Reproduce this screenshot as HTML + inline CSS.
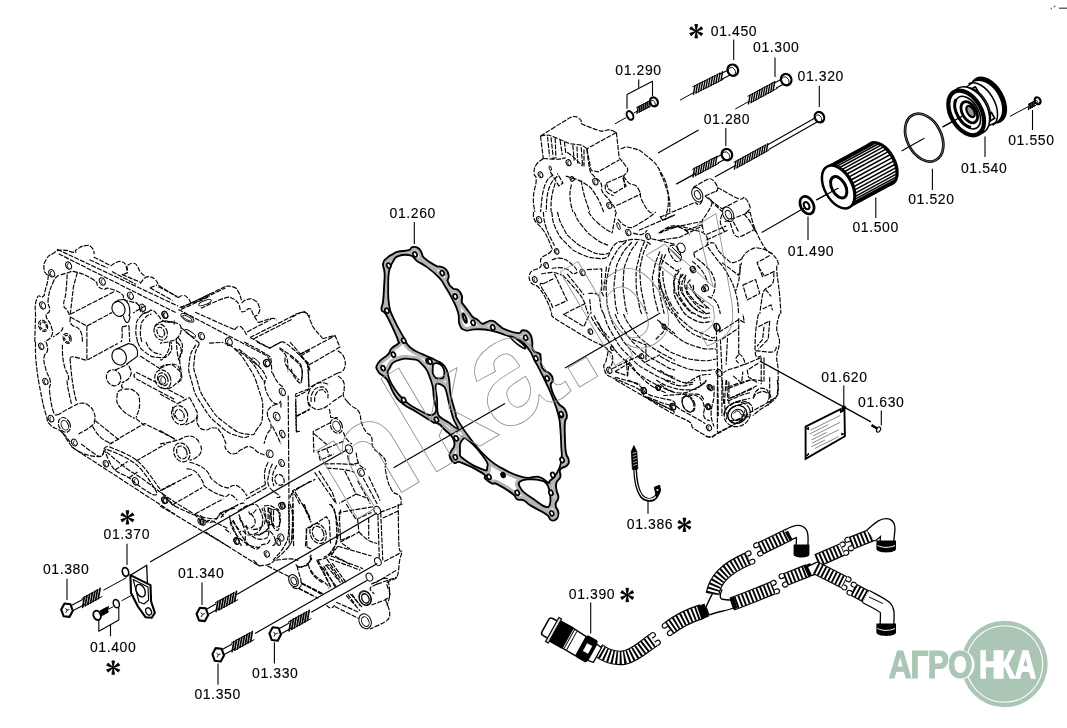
<!DOCTYPE html>
<html><head><meta charset="utf-8"><title>01</title>
<style>
html,body{margin:0;padding:0;background:#fff;overflow:hidden}
svg{display:block;will-change:transform}
text{font-family:"Liberation Sans",Arial,sans-serif;fill:#000;stroke:#000;stroke-width:0.12px}
</style></head><body>
<svg width="1067" height="728" viewBox="0 0 1067 728" stroke-linecap="butt" stroke-linejoin="round">
<rect width="1067" height="728" fill="#fff"/>
<!-- 10_labels.py -->
<text x="710.8" y="35.6" font-size="14" letter-spacing="0.6" >01.450</text>
<text x="753" y="52.1" font-size="14" letter-spacing="0.6" >01.300</text>
<text x="615.3" y="75.2" font-size="14" letter-spacing="0.6" >01.290</text>
<text x="797.5" y="81.3" font-size="14" letter-spacing="0.6" >01.320</text>
<text x="703.7" y="123.9" font-size="14" letter-spacing="0.6" >01.280</text>
<text x="1008.2" y="144.6" font-size="14" letter-spacing="0.6" >01.550</text>
<text x="960.9" y="172.6" font-size="14" letter-spacing="0.6" >01.540</text>
<text x="908.2" y="203.8" font-size="14" letter-spacing="0.6" >01.520</text>
<text x="852.4" y="232.1" font-size="14" letter-spacing="0.6" >01.500</text>
<text x="787.8" y="255.6" font-size="14" letter-spacing="0.6" >01.490</text>
<text x="389.5" y="217.5" font-size="14" letter-spacing="0.6" >01.260</text>
<text x="821.2" y="381.7" font-size="14" letter-spacing="0.6" >01.620</text>
<text x="858" y="406.9" font-size="14" letter-spacing="0.6" >01.630</text>
<text x="626.8" y="529.3" font-size="14" letter-spacing="0.6" >01.386</text>
<text x="568.8" y="599.3" font-size="14" letter-spacing="0.6" >01.390</text>
<text x="103.6" y="539.3" font-size="14" letter-spacing="0.6" >01.370</text>
<text x="42.9" y="574.3" font-size="14" letter-spacing="0.6" >01.380</text>
<text x="177.9" y="578.4" font-size="14" letter-spacing="0.6" >01.340</text>
<text x="89.9" y="652.1" font-size="14" letter-spacing="0.6" >01.400</text>
<text x="252" y="677.7" font-size="14" letter-spacing="0.6" >01.330</text>
<text x="194.4" y="699.1" font-size="14" letter-spacing="0.6" >01.350</text>
<path d="M696.2 31.2L694.9 37.9L697.6 37.9ZM696.2 31.2L701.3 35.7L702.7 33.4ZM696.2 31.2L689.7 33.4L691.1 35.7ZM696.2 31.2L697.6 24.5L694.9 24.5ZM696.2 31.2L691.1 26.7L689.7 29ZM696.2 31.2L702.7 29L701.3 26.7Z" stroke="#000" stroke-width="0.9" stroke-linejoin="round" fill="#000"/>
<path d="M684.4 524.8L683 531.5L685.8 531.5ZM684.4 524.8L689.5 529.3L690.9 527ZM684.4 524.8L677.9 527L679.3 529.3ZM684.4 524.8L685.8 518.1L683 518.1ZM684.4 524.8L679.3 520.3L677.9 522.6ZM684.4 524.8L690.9 522.6L689.5 520.3Z" stroke="#000" stroke-width="0.9" stroke-linejoin="round" fill="#000"/>
<path d="M627.2 595L625.9 601.7L628.6 601.7ZM627.2 595L632.3 599.5L633.7 597.2ZM627.2 595L620.7 597.2L622.1 599.5ZM627.2 595L628.6 588.3L625.9 588.3ZM627.2 595L622.1 590.5L620.7 592.8ZM627.2 595L633.7 592.8L632.3 590.5Z" stroke="#000" stroke-width="0.9" stroke-linejoin="round" fill="#000"/>
<path d="M127.4 517.4L126.1 524.1L128.8 524.1ZM127.4 517.4L132.5 521.9L133.9 519.6ZM127.4 517.4L120.9 519.6L122.3 521.9ZM127.4 517.4L128.8 510.7L126.1 510.7ZM127.4 517.4L122.3 512.9L120.9 515.2ZM127.4 517.4L133.9 515.2L132.5 512.9Z" stroke="#000" stroke-width="0.9" stroke-linejoin="round" fill="#000"/>
<path d="M113.2 667.6L111.9 674.3L114.5 674.3ZM113.2 667.6L118.3 672.1L119.7 669.8ZM113.2 667.6L106.7 669.8L108.1 672.1ZM113.2 667.6L114.5 660.9L111.9 660.9ZM113.2 667.6L108.1 663.1L106.7 665.4ZM113.2 667.6L119.7 665.4L118.3 663.1Z" stroke="#000" stroke-width="0.9" stroke-linejoin="round" fill="#000"/>
<path d="M733.7 39.5L733.7 60" stroke="#000" stroke-width="1.1" fill="none"/>
<path d="M775 57.5L775 77" stroke="#000" stroke-width="1.1" fill="none"/>
<path d="M819.3 85.8L819.3 107" stroke="#000" stroke-width="1.1" fill="none"/>
<path d="M725.8 128L725.8 146" stroke="#000" stroke-width="1.1" fill="none"/>
<path d="M1032.5 110L1032.5 130" stroke="#000" stroke-width="1.1" fill="none"/>
<path d="M985 136.5L985 157" stroke="#000" stroke-width="1.1" fill="none"/>
<path d="M932.4 168.8L932.4 190" stroke="#000" stroke-width="1.1" fill="none"/>
<path d="M875.8 197.5L875.8 218" stroke="#000" stroke-width="1.1" fill="none"/>
<path d="M808 216.5L808 240" stroke="#000" stroke-width="1.1" fill="none"/>
<path d="M843.8 385.5L843.8 435" stroke="#000" stroke-width="1.1" fill="none"/>
<path d="M881.3 410.6L881.3 425.6" stroke="#000" stroke-width="1.1" fill="none"/>
<path d="M648 500.6L648 513.7" stroke="#000" stroke-width="1.1" fill="none"/>
<path d="M590.7 602.5L590.7 633.5" stroke="#000" stroke-width="1.1" fill="none"/>
<path d="M127 543.8L127 565" stroke="#000" stroke-width="1.1" fill="none"/>
<path d="M67 578.8L67 600" stroke="#000" stroke-width="1.1" fill="none"/>
<path d="M202 582.5L202 605" stroke="#000" stroke-width="1.1" fill="none"/>
<path d="M274.4 642.3L274.4 663.6" stroke="#000" stroke-width="1.1" fill="none"/>
<path d="M218 663.6L218 684.8" stroke="#000" stroke-width="1.1" fill="none"/>
<path d="M638.7 79.5L638.7 87.8" fill="none" stroke="#000" stroke-width="1.1"/>
<path d="M627 108.7L627 94.5L652.5 81.3L652.5 96" fill="none" stroke="#000" stroke-width="1.1"/>
<path d="M98.8 620L98.8 631.3L118.8 620L118.8 607.5" fill="none" stroke="#000" stroke-width="1.1"/>
<path d="M110.5 625L110.5 636.3" fill="none" stroke="#000" stroke-width="1.1"/>
<!-- 20_bolts.py -->
<path d="M722.2 79L732.2 74M719.8 74.2L729.8 69.2" stroke="#000" stroke-width="1.1" fill="none"/>
<path d="M695.8 93.1L723.6 79.1M692.6 86.9L720.4 72.9" stroke="#000" stroke-width="1" fill="none"/>
<path d="M693.4 94.3L695 85.7M695.9 93L697.5 84.4M698.4 91.8L700 83.2M700.9 90.5L702.5 81.9M703.4 89.3L705 80.7M705.9 88L707.5 79.4M708.4 86.7L710 78.1M710.9 85.5L712.5 76.9M713.4 84.2L715 75.6M715.9 83L717.5 74.4M718.4 81.7L720 73.1M721 80.4L722.5 71.8" stroke="#000" stroke-width="1.4" fill="none" stroke-linecap="round"/>
<ellipse cx="732.8" cy="70.2" rx="5.2" ry="5.8" fill="#fff" stroke="#000" stroke-width="2.2" transform="rotate(-27 732.8 70.2)"/>
<ellipse cx="731.4" cy="70.9" rx="3.4" ry="4.2" fill="none" stroke="#000" stroke-width="0.8" transform="rotate(-27 732.8 70.2)"/>
<path d="M680 100.2L694.5 92.1" stroke="#000" stroke-width="1.0" fill="none"/>
<path d="M776.2 88L786.2 82.8M773.8 83.2L783.8 78" stroke="#000" stroke-width="1.1" fill="none"/>
<path d="M751 102.6L777.7 88.1M747.6 96.4L774.3 81.9" stroke="#000" stroke-width="1" fill="none"/>
<path d="M748.5 103.9L750.1 95.1M751 102.6L752.5 93.8M753.4 101.2L755 92.4M755.9 99.9L757.5 91.1M758.4 98.6L759.9 89.8M760.8 97.2L762.4 88.4M763.3 95.9L764.8 87.1M765.7 94.6L767.3 85.7M768.2 93.2L769.8 84.4M770.7 91.9L772.2 83.1M773.1 90.5L774.7 81.7" stroke="#000" stroke-width="1.4" fill="none" stroke-linecap="round"/>
<ellipse cx="786.2" cy="79.6" rx="5.2" ry="5.8" fill="#fff" stroke="#000" stroke-width="2.2" transform="rotate(-27 786.2 79.6)"/>
<ellipse cx="784.8" cy="80.3" rx="3.4" ry="4.2" fill="none" stroke="#000" stroke-width="0.8" transform="rotate(-27 786.2 79.6)"/>
<path d="M735.3 109L749.8 100.9" stroke="#000" stroke-width="1.0" fill="none"/>
<path d="M717.8 162.9L727.3 157.9M715.2 158.1L724.7 153.1" stroke="#000" stroke-width="1.1" fill="none"/>
<path d="M695.4 175.7L719.1 163.1M692.2 169.5L715.9 156.9" stroke="#000" stroke-width="1" fill="none"/>
<path d="M693 177L694.6 168.2M695.5 175.7L697 166.9M698 174.3L699.5 165.6M700.4 173L702 164.3M702.9 171.7L704.5 163M705.4 170.4L706.9 161.7M707.9 169.1L709.4 160.3M710.3 167.8L711.9 159M712.8 166.5L714.3 157.7M715.3 165.1L716.8 156.4" stroke="#000" stroke-width="1.4" fill="none" stroke-linecap="round"/>
<ellipse cx="726.9" cy="154.6" rx="5.2" ry="5.8" fill="#fff" stroke="#000" stroke-width="2.2" transform="rotate(-27 726.9 154.6)"/>
<ellipse cx="725.5" cy="155.3" rx="3.4" ry="4.2" fill="none" stroke="#000" stroke-width="0.8" transform="rotate(-27 726.9 154.6)"/>
<path d="M638.8 112.3L651.2 105.9M636.4 107.7L648.8 101.3" stroke="#000" stroke-width="1" fill="none"/>
<path d="M637 113.2L638.2 106.8M639 112.2L640.1 105.8M640.9 111.2L642.1 104.8M642.9 110.2L644 103.8M644.9 109.2L646 102.7M646.8 108.2L647.9 101.7M648.8 107.2L649.9 100.7" stroke="#000" stroke-width="1.4" fill="none" stroke-linecap="round"/>
<ellipse cx="653.9" cy="101.9" rx="3.8" ry="4.6" fill="#fff" stroke="#000" stroke-width="2.2" transform="rotate(-27 653.9 101.9)"/>
<ellipse cx="652.5" cy="102.6" rx="2" ry="3" fill="none" stroke="#000" stroke-width="0.8" transform="rotate(-27 653.9 101.9)"/>
<ellipse cx="630" cy="115.4" rx="3.0" ry="4.6" fill="#fff" stroke="#000" stroke-width="2.0" transform="rotate(-27 630 115.4)"/>
<path d="M615 123.8L626 117.6" stroke="#000" stroke-width="1.0" fill="none"/>
<path d="M633.5 113.2L637 111.3" stroke="#000" stroke-width="1.0" fill="none"/>
<path d="M768.6 149.4L817.1 121.9M766.4 145.4L814.9 117.9" stroke="#000" stroke-width="1.1" fill="none"/>
<path d="M736.7 167.9L769 150.1M733.7 162.5L766 144.7" stroke="#000" stroke-width="1" fill="none"/>
<path d="M734.5 169.1L735.9 161.3M737 167.8L738.3 159.9M739.4 166.4L740.8 158.6M741.9 165.1L743.2 157.2M744.3 163.7L745.7 155.9M746.8 162.4L748.2 154.5M749.2 161L750.6 153.2M751.7 159.7L753.1 151.8M754.1 158.3L755.5 150.5M756.6 157L758 149.1M759 155.6L760.4 147.8M761.5 154.3L762.9 146.4M763.9 152.9L765.3 145.1M766.4 151.6L767.8 143.7" stroke="#000" stroke-width="1.4" fill="none" stroke-linecap="round"/>
<ellipse cx="819.4" cy="117.2" rx="4.6" ry="5.4" fill="#fff" stroke="#000" stroke-width="2.2" transform="rotate(-27 819.4 117.2)"/>
<ellipse cx="818" cy="117.9" rx="2.8" ry="3.8" fill="none" stroke="#000" stroke-width="0.8" transform="rotate(-27 819.4 117.2)"/>
<path d="M1030 108.4L1036 105.2M1028 104.6L1034 101.4" stroke="#000" stroke-width="1" fill="none"/>
<path d="M1028.5 109.3L1029.5 103.7M1030.3 108.3L1031.2 102.8M1032 107.4L1033 101.9M1033.8 106.4L1034.8 100.9" stroke="#000" stroke-width="1.4" fill="none" stroke-linecap="round"/>
<ellipse cx="1037.6" cy="100.8" rx="2.8" ry="3.6" fill="#fff" stroke="#000" stroke-width="2.2" transform="rotate(-27 1037.6 100.8)"/>
<ellipse cx="1036.2" cy="101.5" rx="1" ry="2" fill="none" stroke="#000" stroke-width="0.8" transform="rotate(-27 1037.6 100.8)"/>
<path d="M1010 116.3L1029 106.2" stroke="#000" stroke-width="1.0" fill="none"/>
<path d="M72.2 611L85.2 604.3M69.8 606.2L82.8 599.5" stroke="#000" stroke-width="1.1" fill="none"/>
<path d="M85.5 605.8L102.3 596.4M81.5 598.8L98.3 589.4" stroke="#000" stroke-width="1" fill="none"/>
<path d="M82.6 607.4L84.4 597.2M85.2 605.9L87 595.7M87.8 604.5L89.6 594.3M90.5 603L92.3 592.8M93.1 601.5L94.9 591.4M95.7 600.1L97.5 589.9M98.3 598.6L100.1 588.4" stroke="#000" stroke-width="1.7" fill="none" stroke-linecap="round"/>
<path d="M72.8 610.8L69.5 616.9L63.6 616.2L61.2 609.6L64.5 603.5L70.4 604.2 Z" fill="#fff" stroke="#000" stroke-width="2.1" stroke-linejoin="round"/>
<path d="M67 610.2l2.5 -0.8M67 610.2l-1.2 2.6M67 610.2l-1.5 -2" stroke="#000" stroke-width="0.9" fill="none"/>
<path d="M103.4 590.2L126.6 577.6" stroke="#000" stroke-width="1.0" fill="none"/>
<path d="M207.3 615L218.8 608.6M204.7 610.2L216.2 603.8" stroke="#000" stroke-width="1.1" fill="none"/>
<path d="M218.9 609.9L238.2 599.5M215.1 602.9L234.4 592.5" stroke="#000" stroke-width="1" fill="none"/>
<path d="M216.1 611.4L217.9 601.4M218.8 610L220.5 600M221.4 608.6L223.2 598.5M224 607.2L225.8 597.1M226.7 605.7L228.4 595.7M229.3 604.3L231.1 594.3M232 602.9L233.7 592.8M234.6 601.5L236.4 591.4" stroke="#000" stroke-width="1.7" fill="none" stroke-linecap="round"/>
<path d="M208.2 615L204.9 621.1L199 620.4L196.6 613.8L199.9 607.7L205.8 608.4 Z" fill="#fff" stroke="#000" stroke-width="2.1" stroke-linejoin="round"/>
<path d="M202.4 614.4l2.5 -0.8M202.4 614.4l-1.2 2.6M202.4 614.4l-1.5 -2" stroke="#000" stroke-width="0.9" fill="none"/>
<path d="M223.3 655L234.8 648.8M220.7 650.2L232.2 644" stroke="#000" stroke-width="1.1" fill="none"/>
<path d="M234.9 650.1L254.4 639.5M231.1 643.1L250.6 632.5" stroke="#000" stroke-width="1" fill="none"/>
<path d="M232.1 651.6L233.9 641.6M234.7 650.2L236.5 640.1M237.4 648.8L239.2 638.7M240 647.3L241.8 637.3M242.7 645.9L244.4 635.8M245.3 644.5L247.1 634.4M247.9 643L249.7 633M250.6 641.6L252.3 631.5" stroke="#000" stroke-width="1.7" fill="none" stroke-linecap="round"/>
<path d="M224 655.4L220.7 661.5L214.8 660.8L212.4 654.2L215.7 648.1L221.6 648.8 Z" fill="#fff" stroke="#000" stroke-width="2.1" stroke-linejoin="round"/>
<path d="M218.2 654.8l2.5 -0.8M218.2 654.8l-1.2 2.6M218.2 654.8l-1.5 -2" stroke="#000" stroke-width="0.9" fill="none"/>
<path d="M280.3 634.2L291.8 627.8M277.7 629.4L289.2 623" stroke="#000" stroke-width="1.1" fill="none"/>
<path d="M292 629.2L311.5 618.3M288 622.2L307.5 611.3" stroke="#000" stroke-width="1" fill="none"/>
<path d="M289.1 630.8L290.9 620.6M291.7 629.3L293.5 619.2M294.3 627.9L296.1 617.7M297 626.4L298.8 616.2M299.6 624.9L301.4 614.8M302.2 623.5L304 613.3M304.8 622L306.6 611.8M307.4 620.5L309.2 610.4" stroke="#000" stroke-width="1.7" fill="none" stroke-linecap="round"/>
<path d="M281 634.6L277.7 640.7L271.8 640L269.4 633.4L272.7 627.3L278.6 628 Z" fill="#fff" stroke="#000" stroke-width="2.1" stroke-linejoin="round"/>
<path d="M275.2 634l2.5 -0.8M275.2 634l-1.2 2.6M275.2 634l-1.5 -2" stroke="#000" stroke-width="0.9" fill="none"/>
<path d="M101.7 615.4L108.9 611.6M99.5 611.4L106.7 607.6" stroke="#000" stroke-width="1" fill="none"/>
<path d="M100.1 616.3L101.1 610.5M101.5 615.5L102.5 609.8M102.9 614.8L103.9 609M104.3 614L105.4 608.3M105.8 613.3L106.8 607.5M107.2 612.5L108.2 606.8" stroke="#000" stroke-width="1.4" fill="none" stroke-linecap="round"/>
<ellipse cx="97.1" cy="615.3" rx="3.6" ry="4.8" fill="#fff" stroke="#000" stroke-width="1.9" transform="rotate(-20 97.1 615.3)"/>
<ellipse cx="116.3" cy="603.7" rx="2.9" ry="4.2" fill="#fff" stroke="#000" stroke-width="1.5" transform="rotate(-20 116.3 603.7)"/>
<path d="M108.5 609.2L113 606.8" stroke="#000" stroke-width="1.0" fill="none"/>
<path d="M121.6 600.8L146.7 587" stroke="#000" stroke-width="1.0" fill="none"/>
<!-- 30_misc.py -->
<circle cx="1004.4" cy="664" r="43.3" fill="#abc6b5"/>
<circle cx="1004.4" cy="664" r="38.3" fill="none" stroke="#fff" stroke-width="1.1"/>
<ellipse cx="960.6" cy="664.8" rx="13.9" ry="14.9" fill="#fff"/>
<text transform="translate(0 678) scale(0.830 1)" x="1070.9 1097 1117.9 1142.3" y="0" font-size="38.1" font-weight="bold" style="fill:#abc6b5;stroke:#abc6b5;stroke-width:1.1px;vector-effect:non-scaling-stroke;stroke-linejoin:miter">АГРО</text>
<text transform="translate(0 678) scale(0.780 1)" x="1255.1 1278 1301" y="0" font-size="38.1" font-weight="bold" style="fill:#fff;stroke:#fff;stroke-width:1.2px;vector-effect:non-scaling-stroke;stroke-linejoin:miter">НКА</text>
<path d="M1050.6 8.4h1.4M1053.6 6.6h1.8M1059 8.2h8" stroke="#666" stroke-width="1.5" fill="none"/>
<ellipse cx="924.2" cy="137.6" rx="17.2" ry="25.3" fill="none" stroke="#000" stroke-width="2.7" transform="rotate(-27 924.2 137.6)"/>
<ellipse cx="924.2" cy="137.6" rx="17.2" ry="25.3" fill="none" stroke="#fff" stroke-width="0.35" transform="rotate(-27 924.2 137.6)"/>
<path d="M901.5 151L924.3 138.2" stroke="#000" stroke-width="1.1" fill="none"/>
<path d="M942.5 127L960 117.4" stroke="#000" stroke-width="1.1" fill="none"/>
<ellipse cx="807" cy="205.2" rx="6.4" ry="9.3" fill="#fff" stroke="#000" stroke-width="2.7" transform="rotate(-27 807 205.2)"/>
<ellipse cx="806.6" cy="205.6" rx="2.5" ry="3.8" fill="#fff" stroke="#000" stroke-width="2.0" transform="rotate(-27 806.6 205.6)"/>
<path d="M761.7 232.5L805.5 207.2" stroke="#000" stroke-width="1.2" fill="none"/>
<path d="M816.3 200L837.5 188.6" stroke="#000" stroke-width="1.1" fill="none"/>
<!-- 32_filter.py -->
<g transform="translate(838.2 187) rotate(-28.5)"><ellipse cx="49" cy="0" rx="13.6" ry="23.2" fill="#000" stroke="#000" stroke-width="2.4"/><rect x="0" y="-23.2" width="49" height="46.4" fill="#fff"/><ellipse cx="46.8" cy="0" rx="13.6" ry="22.9" fill="#fff"/><path d="M0 -23.2L47.5 -23.2M2.1 -22.9L49.6 -22.9M4.2 -22.1L51.7 -22.1M6.2 -20.7L53.7 -20.7M8 -18.8L55.5 -18.8M9.6 -16.4L57.1 -16.4M11 -13.6L58.5 -13.6M12.1 -10.5L59.6 -10.5M12.9 -7.2L60.4 -7.2M13.4 -3.6L60.9 -3.6M13.6 0L61.1 0M13.4 3.6L60.9 3.6M12.9 7.2L60.4 7.2M12.1 10.5L59.6 10.5M11 13.6L58.5 13.6M9.6 16.4L57.1 16.4M8 18.8L55.5 18.8M6.2 20.7L53.7 20.7M4.2 22.1L51.7 22.1M2.1 22.9L49.6 22.9M0 23.2L47.5 23.2" stroke="#000" stroke-width="1.5" fill="none"/><path d="M2 -22L51 -22" stroke="#000" stroke-width="3.2" fill="none"/><path d="M2 22.4L51 22.4" stroke="#000" stroke-width="2.2" fill="none"/><ellipse cx="2.2" cy="0" rx="13.6" ry="23.2" fill="#000"/><ellipse cx="0" cy="0" rx="13.6" ry="23.2" fill="#fff" stroke="#000" stroke-width="2.5"/><ellipse cx="0.3" cy="0.5" rx="6.8" ry="11.6" fill="#fff" stroke="#000" stroke-width="2.9"/><path d="M3.8 -8.4A4.9 9.3 0 0 1 3.8 9.7" fill="none" stroke="#000" stroke-width="1.6"/></g>
<path d="M816.3 200L838.5 188" stroke="#000" stroke-width="1.2" fill="none"/>
<g transform="translate(966.2 112.9) rotate(-30)"><ellipse cx="25.5" cy="0" rx="16" ry="25.6" fill="#000"/><ellipse cx="21" cy="0" rx="15.5" ry="23" fill="#fff"/><rect x="4" y="-21.5" width="18.5" height="43" fill="#fff"/><path d="M4 -21.5L20.5 -23M4 21.5L20.5 23" stroke="#000" stroke-width="1.4" fill="none"/><path d="M12 -18l9 0l0 7l-8 0zM14 12l8 0l0 7l-7 0zM16 -6l5 0l0 8l-5 0z" fill="#fff" stroke="#000" stroke-width="1.7"/><path d="M16.5 -24A14 24 0 0 1 16.5 24" fill="none" stroke="#000" stroke-width="1.5"/><path d="M10 -22A13 22 0 0 1 10 22" fill="none" stroke="#000" stroke-width="1.3"/><ellipse cx="5" cy="0" rx="16.5" ry="25.5" fill="#fff" stroke="#000" stroke-width="1.6"/><ellipse cx="0" cy="0" rx="15.2" ry="24.2" fill="#fff" stroke="#000" stroke-width="4.2"/><ellipse cx="1.5" cy="0.5" rx="10.6" ry="17.8" fill="#fff" stroke="#000" stroke-width="1.6"/><path d="M-2 -17A10.5 17.5 0 0 0 -3 15" fill="none" stroke="#000" stroke-width="3"/><ellipse cx="3" cy="1" rx="7" ry="11.5" fill="#fff" stroke="#000" stroke-width="2.8"/><ellipse cx="4.5" cy="1" rx="3.4" ry="6.2" fill="#999" stroke="#000" stroke-width="2.2"/></g>
<path d="M942.5 127L962 116.4" stroke="#000" stroke-width="1.2" fill="none"/>
<!-- 34_small.py -->
<path d="M130.4 575.3L146.7 565.2L147.4 583" fill="none" stroke="#000" stroke-width="1.3"/>
<ellipse cx="125.5" cy="571.9" rx="3.1" ry="4.4" fill="#fff" stroke="#000" stroke-width="1.7" transform="rotate(-15 125.5 571.9)"/>
<path d="M130.4 575.1L150.5 585.1L151.1 601.5L154.9 612.8L151.8 617.8L145.5 617.2L137.9 606.5L131 592.7Z" fill="#fff" stroke="#000" stroke-width="2.1"/>
<path d="M133.2 579.5L148 587L148.6 600L144 604L139 602Z" fill="#fff" stroke="#000" stroke-width="1.1"/>
<ellipse cx="140.6" cy="590.6" rx="4.2" ry="6.6" fill="#fff" stroke="#000" stroke-width="1.4" transform="rotate(-25 140.6 590.6)"/>
<ellipse cx="148.6" cy="611.5" rx="2.7" ry="3.8" fill="#fff" stroke="#000" stroke-width="1.3" transform="rotate(-25 148.6 611.5)"/>
<path d="M633.9 445.6L631.3 451.5L632.4 469.5L637.8 469L636.8 451.5Z" fill="#000" stroke="#000" stroke-width="0.8"/>
<path d="M632.6 453.5l3.6 -1.2M632.8 456.5l3.6 -1.2M633 459.5l3.6 -1.2M633.2 462.5l3.6 -1.2M633.4 465.5l3.6 -1.2" stroke="#fff" stroke-width="0.7" fill="none"/>
<path d="M635 468C635.4 480 636.6 489.5 641.7 496.3C645 500.3 652.2 501.8 656.2 496.5C658 494 659 491.5 659.2 488.5" fill="none" stroke="#000" stroke-width="3.8"/>
<path d="M635 470C635.4 481 636.8 489.5 641.9 496.1C645.2 499.8 652 501 656 496.3" fill="none" stroke="#fff" stroke-width="1.1"/>
<path d="M654.3 487.3L659.7 485.2L660.4 490.8L656.5 497Z" fill="#000" stroke="#000" stroke-width="1"/>
<circle cx="657.4" cy="490" r="1" fill="#fff"/>
<!-- 36_harness.py -->
<path d="M598 650C606 656 616 659 625 657.5C636 655 645 645.5 653.6 640" fill="none" stroke="#000" stroke-width="14.600000000000001" stroke-linecap="butt"/>
<path d="M598 650C606 656 616 659 625 657.5C636 655 645 645.5 653.6 640" fill="none" stroke="#fff" stroke-width="12.200000000000001" stroke-linecap="butt"/>
<path d="M598 650C606 656 616 659 625 657.5C636 655 645 645.5 653.6 640" fill="none" stroke="#000" stroke-width="12.600000000000001" stroke-dasharray="1.9 2.0"/>
<g transform="translate(653.6 640) rotate(-33)"><path d="M0 -6.6c3 -1 4.6 0 4.6 2.3c0 2.3 -2.6 2.3 -4.6 1.8M0 6.6c3 1 4.6 0 4.6 -2.3c0 -2.3 -2.6 -2.3 -4.6 -1.8" fill="#fff" stroke="#000" stroke-width="1.2"/></g>
<path d="M669 628.2C677 622 688 616 702 611.5" fill="none" stroke="#000" stroke-width="15.2" stroke-linecap="butt"/>
<path d="M669 628.2C677 622 688 616 702 611.5" fill="none" stroke="#fff" stroke-width="12.799999999999999" stroke-linecap="butt"/>
<path d="M669 628.2C677 622 688 616 702 611.5" fill="none" stroke="#000" stroke-width="13.2" stroke-dasharray="1.9 2.0"/>
<g transform="translate(669 628.2) rotate(145)"><path d="M0 -6.6c3 -1 4.6 0 4.6 2.3c0 2.3 -2.6 2.3 -4.6 1.8M0 6.6c3 1 4.6 0 4.6 -2.3c0 -2.3 -2.6 -2.3 -4.6 -1.8" fill="#fff" stroke="#000" stroke-width="1.2"/></g>
<path d="M697 606.5l7.5 -3l4.5 13l-7.5 3z" fill="#000"/>
<path d="M706 607C710 598 713 592 716 588L722 590C720 594 719 597 721.5 599C726 600 730 600.5 733 599.5L735 607.5C727 610.5 717 612 709 615Z" fill="#fff" stroke="#000" stroke-width="1.3"/>
<path d="M712.5 594C715 580 724 569 748.6 558.4" fill="none" stroke="#000" stroke-width="13.8" stroke-linecap="butt"/>
<path d="M712.5 594C715 580 724 569 748.6 558.4" fill="none" stroke="#fff" stroke-width="11.4" stroke-linecap="butt"/>
<path d="M712.5 594C715 580 724 569 748.6 558.4" fill="none" stroke="#000" stroke-width="11.8" stroke-dasharray="1.9 2.0"/>
<g transform="translate(748.6 558.4) rotate(-25)"><path d="M0 -6.6c3 -1 4.6 0 4.6 2.3c0 2.3 -2.6 2.3 -4.6 1.8M0 6.6c3 1 4.6 0 4.6 -2.3c0 -2.3 -2.6 -2.3 -4.6 -1.8" fill="#fff" stroke="#000" stroke-width="1.2"/></g>
<path d="M760 548.6L789 534.5" fill="none" stroke="#000" stroke-width="13.399999999999999" stroke-linecap="butt"/>
<path d="M760 548.6L789 534.5" fill="none" stroke="#fff" stroke-width="10.999999999999998" stroke-linecap="butt"/>
<path d="M760 548.6L789 534.5" fill="none" stroke="#000" stroke-width="11.399999999999999" stroke-dasharray="1.9 2.0"/>
<g transform="translate(760 548.6) rotate(155)"><path d="M0 -6.6c3 -1 4.6 0 4.6 2.3c0 2.3 -2.6 2.3 -4.6 1.8M0 6.6c3 1 4.6 0 4.6 -2.3c0 -2.3 -2.6 -2.3 -4.6 -1.8" fill="#fff" stroke="#000" stroke-width="1.2"/></g>
<path d="M788 535C793 532 799 529.5 801.5 533C803 537 802 542 802 546" fill="none" stroke="#000" stroke-width="13.0" stroke-linecap="butt"/>
<path d="M788 535C793 532 799 529.5 801.5 533C803 537 802 542 802 546" fill="none" stroke="#fff" stroke-width="10.4" stroke-linecap="butt"/>
<path d="M793.6 544.5h15.8v10c0 4 -15.8 4 -15.8 0z" fill="#000"/>
<path d="M786.5 531.5l4.5 8.5" stroke="#000" stroke-width="3.4"/>
<path d="M732 604C746 599 760 593 773.4 587.8" fill="none" stroke="#000" stroke-width="13.8" stroke-linecap="butt"/>
<path d="M732 604C746 599 760 593 773.4 587.8" fill="none" stroke="#fff" stroke-width="11.4" stroke-linecap="butt"/>
<path d="M732 604C746 599 760 593 773.4 587.8" fill="none" stroke="#000" stroke-width="11.8" stroke-dasharray="1.9 2.0"/>
<g transform="translate(773.4 587.8) rotate(-22)"><path d="M0 -6.6c3 -1 4.6 0 4.6 2.3c0 2.3 -2.6 2.3 -4.6 1.8M0 6.6c3 1 4.6 0 4.6 -2.3c0 -2.3 -2.6 -2.3 -4.6 -1.8" fill="#fff" stroke="#000" stroke-width="1.2"/></g>
<path d="M729.5 598.5l4.4 -1.5l3.6 11l-4.4 1.5z" fill="#000"/>
<path d="M785.2 579.6L808 570.5" fill="none" stroke="#000" stroke-width="13.399999999999999" stroke-linecap="butt"/>
<path d="M785.2 579.6L808 570.5" fill="none" stroke="#fff" stroke-width="10.999999999999998" stroke-linecap="butt"/>
<path d="M785.2 579.6L808 570.5" fill="none" stroke="#000" stroke-width="11.399999999999999" stroke-dasharray="1.9 2.0"/>
<g transform="translate(785.2 579.6) rotate(158)"><path d="M0 -6.6c3 -1 4.6 0 4.6 2.3c0 2.3 -2.6 2.3 -4.6 1.8M0 6.6c3 1 4.6 0 4.6 -2.3c0 -2.3 -2.6 -2.3 -4.6 -1.8" fill="#fff" stroke="#000" stroke-width="1.2"/></g>
<path d="M803.5 566l6.5 -3l5 11.5l-6.5 3z" fill="#000"/>
<path d="M810 571L821 566" fill="none" stroke="#000" stroke-width="11.5" stroke-linecap="butt"/>
<path d="M810 571L821 566" fill="none" stroke="#fff" stroke-width="8.9" stroke-linecap="butt"/>
<path d="M817 560.5L842.6 549.3" fill="none" stroke="#000" stroke-width="13.399999999999999" stroke-linecap="butt"/>
<path d="M817 560.5L842.6 549.3" fill="none" stroke="#fff" stroke-width="10.999999999999998" stroke-linecap="butt"/>
<path d="M817 560.5L842.6 549.3" fill="none" stroke="#000" stroke-width="11.399999999999999" stroke-dasharray="1.9 2.0"/>
<g transform="translate(842.6 549.3) rotate(-23)"><path d="M0 -6.6c3 -1 4.6 0 4.6 2.3c0 2.3 -2.6 2.3 -4.6 1.8M0 6.6c3 1 4.6 0 4.6 -2.3c0 -2.3 -2.6 -2.3 -4.6 -1.8" fill="#fff" stroke="#000" stroke-width="1.2"/></g>
<path d="M851 543.3L873 534.5" fill="none" stroke="#000" stroke-width="13.399999999999999" stroke-linecap="butt"/>
<path d="M851 543.3L873 534.5" fill="none" stroke="#fff" stroke-width="10.999999999999998" stroke-linecap="butt"/>
<path d="M851 543.3L873 534.5" fill="none" stroke="#000" stroke-width="11.399999999999999" stroke-dasharray="1.9 2.0"/>
<g transform="translate(851 543.3) rotate(158)"><path d="M0 -6.6c3 -1 4.6 0 4.6 2.3c0 2.3 -2.6 2.3 -4.6 1.8M0 6.6c3 1 4.6 0 4.6 -2.3c0 -2.3 -2.6 -2.3 -4.6 -1.8" fill="#fff" stroke="#000" stroke-width="1.2"/></g>
<path d="M871 535.5C877 531 882 524.5 887 525.5C889.5 527 887 534 887 542" fill="none" stroke="#000" stroke-width="15.0" stroke-linecap="butt"/>
<path d="M871 535.5C877 531 882 524.5 887 525.5C889.5 527 887 534 887 542" fill="none" stroke="#fff" stroke-width="12.4" stroke-linecap="butt"/>
<path d="M876.4 540.5h19.6v8.5c0 4.5 -19.6 4.5 -19.6 0z" fill="#000"/>
<path d="M877.5 545.5c5 2.5 12 2.5 17.5 0" stroke="#fff" stroke-width="1" fill="none"/>
<path d="M816 568L844.6 582.5" fill="none" stroke="#000" stroke-width="13.399999999999999" stroke-linecap="butt"/>
<path d="M816 568L844.6 582.5" fill="none" stroke="#fff" stroke-width="10.999999999999998" stroke-linecap="butt"/>
<path d="M816 568L844.6 582.5" fill="none" stroke="#000" stroke-width="11.399999999999999" stroke-dasharray="1.9 2.0"/>
<g transform="translate(844.6 582.5) rotate(27)"><path d="M0 -6.6c3 -1 4.6 0 4.6 2.3c0 2.3 -2.6 2.3 -4.6 1.8M0 6.6c3 1 4.6 0 4.6 -2.3c0 -2.3 -2.6 -2.3 -4.6 -1.8" fill="#fff" stroke="#000" stroke-width="1.2"/></g>
<path d="M853.4 589.6L868 597.5" fill="none" stroke="#000" stroke-width="13.399999999999999" stroke-linecap="butt"/>
<path d="M853.4 589.6L868 597.5" fill="none" stroke="#fff" stroke-width="10.999999999999998" stroke-linecap="butt"/>
<path d="M853.4 589.6L868 597.5" fill="none" stroke="#000" stroke-width="11.399999999999999" stroke-dasharray="1.9 2.0"/>
<g transform="translate(853.4 589.6) rotate(207)"><path d="M0 -6.6c3 -1 4.6 0 4.6 2.3c0 2.3 -2.6 2.3 -4.6 1.8M0 6.6c3 1 4.6 0 4.6 -2.3c0 -2.3 -2.6 -2.3 -4.6 -1.8" fill="#fff" stroke="#000" stroke-width="1.2"/></g>
<path d="M866 596.5C873 600.5 880 603.5 885 607.5C888.5 611 887 617 887 625" fill="none" stroke="#000" stroke-width="15.0" stroke-linecap="butt"/>
<path d="M866 596.5C873 600.5 880 603.5 885 607.5C888.5 611 887 617 887 625" fill="none" stroke="#fff" stroke-width="12.4" stroke-linecap="butt"/>
<path d="M876.4 623.5h19.6v9c0 4.5 -19.6 4.5 -19.6 0z" fill="#000"/>
<path d="M877.5 628.5c5 2.5 12 2.5 17.5 0" stroke="#fff" stroke-width="1" fill="none"/>
<path d="M869 597l14 6.5" stroke="#000" stroke-width="1" fill="none"/>
<g transform="translate(550.5 628.5) rotate(29) scale(0.98)"><rect x="-6" y="-10" width="11" height="20" rx="3" fill="#fff" stroke="#000" stroke-width="1.6"/><rect x="2" y="-14" width="3.2" height="28" fill="#ddd" stroke="#000" stroke-width="1.2"/><rect x="5" y="-12.5" width="15" height="25" fill="#000"/><path d="M20 -11.5L36 -10.5L36 12L20 11.5Z" fill="#fff" stroke="#000" stroke-width="1.4"/><path d="M22 -11v22M25 -10.5v21.5" stroke="#000" stroke-width="1"/><rect x="36" y="-12.5" width="13" height="25.5" rx="2" fill="#000"/><rect x="40" y="-5" width="6" height="9" fill="#fff"/><path d="M49 -9l6 1v17l-6 1z" fill="#fff" stroke="#000" stroke-width="1.3"/></g>
<!-- 40_lefthousing.py -->
<path d="M34.8 341.9C35 335.1 34.8 335.6 35.4 321.5C36 307.5 34 308.1 36.5 299.7C39.1 291.4 40.2 299.3 43 296.5C45.8 293.7 43.2 297.9 45 291.3C46.7 284.8 47.8 282.7 48.2 276.8C48.6 271 47.5 276.4 46.1 273.7C44.7 271.1 44 273.5 44 268.8C44 264.1 43 264.8 46.1 259.7C49.1 254.5 47.7 256.5 53.1 253.4C58.5 250.2 55.2 250.4 62.3 250.1C69.3 249.8 69.5 252.5 74.2 252.4C78.9 252.3 72.6 252.1 76.3 249.8C80.1 247.6 80.3 246.3 85.4 245.6C90.6 244.9 88.8 244.9 91.8 247.7C94.7 250.5 93.5 251.9 94.3 254.1" fill="none" stroke="#000" stroke-width="1.15" stroke-dasharray="5 1.3"/>
<path d="M93.7 256.9L110.6 265.6" fill="none" stroke="#000" stroke-width="1.15" stroke-dasharray="5 1.3"/>
<path d="M110.6 266C112.3 265 112.9 263.8 116.2 262.5C119.6 261.2 118.9 260.9 121.9 261.8C124.8 262.6 124.4 262.8 126.1 265.3C127.8 267.8 127.1 268.7 127.5 270.2" fill="none" stroke="#000" stroke-width="1.15" stroke-dasharray="5 1.3"/>
<path d="M127.5 265.3C129.2 264.7 130.1 263 133.1 263.2C136.1 263.4 135.2 263.5 137.3 266C139.4 268.5 137.6 268.4 140.1 271.6C142.7 274.9 144.1 275.3 145.8 276.8" fill="none" stroke="#000" stroke-width="1.15" stroke-dasharray="5 1.3"/>
<path d="M144.3 278C146 277.6 146.6 276.2 150 276.8C153.3 277.5 153.1 277.6 155.6 280.1C158.1 282.5 157.6 283.5 158.4 285" fill="none" stroke="#000" stroke-width="1.15" stroke-dasharray="5 1.3"/>
<path d="M158.4 285.3L178.1 297.6" fill="none" stroke="#000" stroke-width="1.15" stroke-dasharray="5 1.3"/>
<path d="M178.1 297.6C179.8 297 180.5 295.1 183.7 295.5C186.9 296 186.5 296.7 188.6 299C190.7 301.4 190.1 302 190.7 303.3" fill="none" stroke="#000" stroke-width="1.15" stroke-dasharray="5 1.3"/>
<path d="M57.2 249.3L178.1 306.1" fill="none" stroke="#000" stroke-width="1.15" stroke-dasharray="5 1.3"/>
<path d="M58.6 253.8L176.7 313.1" fill="none" stroke="#000" stroke-width="1.15" stroke-dasharray="5 1.3"/>
<path d="M89.5 259.7L107.8 268.1" fill="none" stroke="#000" stroke-width="1.15" stroke-dasharray="5 1.3"/>
<path d="M112 271.6L135.9 284.3" fill="none" stroke="#000" stroke-width="1.15" stroke-dasharray="5 1.3"/>
<path d="M121.9 274.4L140.1 282.2" fill="none" stroke="#000" stroke-width="1.15" stroke-dasharray="5 1.3"/>
<path d="M126.1 266L127.5 272.6L121.9 275.1" fill="none" stroke="#000" stroke-width="1.15" stroke-dasharray="5 1.3"/>
<path d="M150 287.8L172.5 300.4" fill="none" stroke="#000" stroke-width="1.15" stroke-dasharray="5 1.3"/>
<path d="M158.4 286.7L176.7 296.2" fill="none" stroke="#000" stroke-width="1.15" stroke-dasharray="5 1.3"/>
<path d="M140.1 283.6L144.3 278.2" fill="none" stroke="#000" stroke-width="1.15" stroke-dasharray="5 1.3"/>
<path d="M150 287.8L157 285" fill="none" stroke="#000" stroke-width="1.15" stroke-dasharray="5 1.3"/>
<path d="M190.7 303.3L210 294.1" fill="none" stroke="#000" stroke-width="1.15" stroke-dasharray="5 1.3"/>
<path d="M179.5 307.5L190.7 303.5" fill="none" stroke="#000" stroke-width="1.15" stroke-dasharray="5 1.3"/>
<path d="M180.9 309.6L210 296.2" fill="none" stroke="#000" stroke-width="1.15" stroke-dasharray="5 1.3"/>
<path d="M60.8 274.9C62.5 274.4 63.1 273.8 67.2 273C71.3 272.3 69.2 270.2 76.3 272.1C83.4 273.9 88.1 276.2 93.9 280.1C99.7 283.9 95.5 284 98.1 286.4C100.7 288.8 100.7 288.6 103.7 289.2C106.7 289.8 104.5 287.2 109.3 288.5C114.2 289.8 118.1 291.1 122 294.1C125.9 297.1 121.5 297.7 124.1 299.7C126.7 301.8 128.3 300.7 131.8 301.9C135.4 303 134.8 301.2 137.5 304C140.1 306.8 139.1 310.1 141.7 312.4C144.3 314.6 144.5 313 147.3 312.4C150.1 311.8 149.2 309.4 152.2 310.3C155.2 311.2 155.9 313.3 158.6 315.9C161.2 318.5 159.4 318.4 162.1 320.1C164.7 321.8 164.9 322.1 168.4 322.2C171.8 322.4 173.2 321.2 175 320.8" fill="none" stroke="#000" stroke-width="1.15" stroke-dasharray="5 1.3"/>
<ellipse cx="68.6" cy="265.6" rx="2.7" ry="3.8" fill="none" stroke="#000" stroke-width="1.0" transform="rotate(-25 68.6 265.6)"/>
<path d="M69.2 268.4A1.7 2.5 -25 0 1 68.8 263.7" fill="none" stroke="#000" stroke-width="0.8"/>
<ellipse cx="51.7" cy="273.3" rx="2.7" ry="3.8" fill="none" stroke="#000" stroke-width="1.0" transform="rotate(-25 51.7 273.3)"/>
<path d="M52.3 276.1A1.7 2.5 -25 0 1 52 271.4" fill="none" stroke="#000" stroke-width="0.8"/>
<ellipse cx="102.3" cy="281.5" rx="2.7" ry="3.8" fill="none" stroke="#000" stroke-width="1.0" transform="rotate(-25 102.3 281.5)"/>
<path d="M102.9 284.2A1.7 2.5 -25 0 1 102.6 279.6" fill="none" stroke="#000" stroke-width="0.8"/>
<ellipse cx="130.4" cy="295.8" rx="2.7" ry="3.8" fill="none" stroke="#000" stroke-width="1.0" transform="rotate(-25 130.4 295.8)"/>
<path d="M131 298.6A1.7 2.5 -25 0 1 130.7 293.9" fill="none" stroke="#000" stroke-width="0.8"/>
<ellipse cx="142.4" cy="307.8" rx="2.7" ry="3.8" fill="none" stroke="#000" stroke-width="1.0" transform="rotate(-25 142.4 307.8)"/>
<path d="M143 310.5A1.7 2.5 -25 0 1 142.6 305.8" fill="none" stroke="#000" stroke-width="0.8"/>
<ellipse cx="164.9" cy="314.8" rx="2.7" ry="3.8" fill="none" stroke="#000" stroke-width="1.0" transform="rotate(-25 164.9 314.8)"/>
<path d="M165.5 317.6A1.7 2.5 -25 0 1 165.1 312.9" fill="none" stroke="#000" stroke-width="0.8"/>
<ellipse cx="42.6" cy="305.4" rx="2.7" ry="3.8" fill="none" stroke="#000" stroke-width="1.0" transform="rotate(-25 42.6 305.4)"/>
<path d="M43.2 308.1A1.7 2.5 -25 0 1 42.8 303.4" fill="none" stroke="#000" stroke-width="0.8"/>
<ellipse cx="43" cy="325.8" rx="4.2" ry="5.9" fill="none" stroke="#000" stroke-width="1.15" transform="rotate(-25 43 325.8)" stroke-dasharray="5 1.3"/>
<ellipse cx="43.3" cy="326" rx="2.8" ry="4.2" fill="none" stroke="#000" stroke-width="1.15" transform="rotate(-25 43.3 326)" stroke-dasharray="3 1.2"/>
<ellipse cx="67.2" cy="338.4" rx="3.9" ry="5.1" fill="none" stroke="#000" stroke-width="1.15" transform="rotate(-25 67.2 338.4)" stroke-dasharray="5 1.3"/>
<ellipse cx="67.2" cy="338.7" rx="2.4" ry="3.5" fill="none" stroke="#000" stroke-width="1.15" transform="rotate(-25 67.2 338.7)" stroke-dasharray="3 1.2"/>
<path d="M58.7 275.1C57.2 277 55.9 275.8 53.1 282.2C50.3 288.5 49.1 291.5 48.2 299C47.3 306.5 50.2 305.8 49.6 310.3C49 314.8 45.7 311.8 46.1 315.9C46.5 320 49.5 320.5 51 325.8C52.5 331 53.4 331.3 51.7 335.6C50 339.9 46.6 340.2 44.7 341.9" fill="none" stroke="#000" stroke-width="1.15" stroke-dasharray="5 1.3"/>
<path d="M77.3 272.6L73.5 286.4L70.3 313.8" fill="none" stroke="#000" stroke-width="1.15" stroke-dasharray="5 1.3"/>
<path d="M67.2 274.4C66.8 279.5 66.7 285.4 65.8 293.4C64.8 301.5 63.3 300.2 63.7 304.7C64 309.2 65.4 307.1 67.2 310.3C68.9 313.5 69.4 314.9 70.3 316.6" fill="none" stroke="#000" stroke-width="1.15" stroke-dasharray="5 1.3"/>
<path d="M70.3 314.2L115 291.3" fill="none" stroke="#000" stroke-width="1.15" stroke-dasharray="5 1.3"/>
<path d="M70.3 317L86.9 326L112.2 312.4" fill="none" stroke="#000" stroke-width="1.15" stroke-dasharray="5 1.3"/>
<path d="M86.9 326L86.9 341.9" fill="none" stroke="#000" stroke-width="1.15" stroke-dasharray="5 1.3"/>
<path d="M70.3 317C70.6 319 68.8 320.9 71.4 324.3C73.9 327.8 76.8 325.3 79.8 330C82.8 334.7 81.9 338.7 82.6 341.9" fill="none" stroke="#000" stroke-width="1.15" stroke-dasharray="5 1.3"/>
<path d="M63 327.2C62.4 328.3 63.5 328.8 60.8 331.4C58.2 334 55.2 335.5 53.1 337" fill="none" stroke="#000" stroke-width="1.15" stroke-dasharray="5 1.3"/>
<ellipse cx="118.5" cy="308.9" rx="6.3" ry="7.7" fill="none" stroke="#000" stroke-width="1.15" transform="rotate(-25 118.5 308.9)"/>
<path d="M115 302.6C116.8 301.6 116.6 300 120.6 299.7C124.6 299.5 123.9 298.3 126.9 301.9C130 305.4 129 305.6 129.7 310.3C130.4 315 129.3 314 129 315.9" fill="none" stroke="#000" stroke-width="1.15"/>
<path d="M123.4 315.9C124.3 318 124.1 321.3 126.2 322.2C128.3 323.2 128.8 321.3 129.7 318.7C130.7 316.1 129.3 315.9 129 314.5" fill="none" stroke="#000" stroke-width="1.15"/>
<path d="M122 327.2C122 330.9 122.5 333.5 122 338.4C121.5 343.3 121.1 340.7 120.6 341.9" fill="none" stroke="#000" stroke-width="1.15" stroke-dasharray="5 1.3"/>
<path d="M129 325.8L129.7 341.9" fill="none" stroke="#000" stroke-width="1.15" stroke-dasharray="5 1.3"/>
<path d="M122 326.9L129 325.5" fill="none" stroke="#000" stroke-width="1.15" stroke-dasharray="5 1.3"/>
<path d="M137.5 341.9C137 337 135.1 335.6 136.1 327.2C137 318.7 136.1 321.8 140.3 316.6C144.5 311.5 145.9 313.3 148.7 311.7" fill="none" stroke="#000" stroke-width="1.15" stroke-dasharray="5 1.3"/>
<path d="M141.7 341.9C141.3 337.5 139.6 336.3 140.6 328.6C141.5 320.8 140.8 323.6 144.5 318.7C148.1 313.8 149.2 315.4 151.5 313.8" fill="none" stroke="#000" stroke-width="1.15" stroke-dasharray="5 1.3"/>
<path d="M145.9 306.1C144.2 306.9 140 308.9 137.5 310.3C134.9 311.7 134.1 312.5 133.2 313.1" fill="none" stroke="#000" stroke-width="1.15" stroke-dasharray="5 1.3"/>
<ellipse cx="160.7" cy="332.1" rx="6.3" ry="8.4" fill="none" stroke="#000" stroke-width="1.15" transform="rotate(-25 160.7 332.1)" stroke-dasharray="5 1.3"/>
<ellipse cx="160.7" cy="332.1" rx="3.5" ry="5.1" fill="none" stroke="#000" stroke-width="1.15" transform="rotate(-25 160.7 332.1)" stroke-dasharray="5 1.3"/>
<path d="M154.3 327.2C156.2 325.5 154.8 324.1 160 322.2C165.1 320.4 164.8 320.8 169.8 321.5C174.8 322.2 173.3 323.4 175 324.3" fill="none" stroke="#000" stroke-width="1.15" stroke-dasharray="5 1.3"/>
<path d="M181.1 308L226.1 286.2" fill="none" stroke="#000" stroke-width="1.15" stroke-dasharray="5 1.3"/>
<path d="M193.7 303L225.4 287.9" fill="none" stroke="#000" stroke-width="1.15" stroke-dasharray="5 1.3"/>
<path d="M226.1 286.2C227.9 286.4 229.9 285.6 233.1 286.9C236.3 288.2 235.8 287.5 238 291.1C240.3 294.6 240.6 297.8 241.5 300.2" fill="none" stroke="#000" stroke-width="1.15" stroke-dasharray="5 1.3"/>
<path d="M200.8 308.2C205.5 306.2 218.2 300 224.7 298.1C231.1 296.2 230.3 297.7 233.1 298.8C235.9 299.9 237.6 302.8 238.7 303.7" fill="none" stroke="#000" stroke-width="1.15" stroke-dasharray="5 1.3"/>
<path d="M241.5 303C243.2 302 243.4 300.4 247.2 299.5C251 298.7 250.6 298.1 254.2 300.2C257.8 302.3 257.8 302.5 259.1 306.6C260.4 310.6 259.9 310.6 258.4 313.6C256.9 316.5 255.5 315.5 254.2 316.4" fill="none" stroke="#000" stroke-width="1.15" stroke-dasharray="5 1.3"/>
<path d="M239.4 305.1C239.8 306.6 239.5 309.1 240.8 310.8C242.1 312.5 241.9 312 244.3 311.5C246.8 310.9 247.5 307.7 250 308.7C252.4 309.6 251.2 311.2 253.5 315C255.7 318.7 257.1 320.7 258.4 322.7" fill="none" stroke="#000" stroke-width="1.15" stroke-dasharray="5 1.3"/>
<path d="M258.4 322.7C261.8 321.6 266.2 319.3 271.1 318.5C275.9 317.8 275.2 319.5 276.7 319.9" fill="none" stroke="#000" stroke-width="1.15" stroke-dasharray="5 1.3"/>
<path d="M247.2 331.9L271.1 319.2" fill="none" stroke="#000" stroke-width="1.15" stroke-dasharray="5 1.3"/>
<path d="M250 337.5L290.7 317.1" fill="none" stroke="#000" stroke-width="1.15" stroke-dasharray="5 1.3"/>
<path d="M253.5 338.9L292.8 318.8" fill="none" stroke="#000" stroke-width="1.15" stroke-dasharray="5 1.3"/>
<path d="M292.1 317.1C294.8 315.8 298.2 313.3 302 312.2C305.7 311 304.1 311.8 306.2 312.9C308.3 314 309 315.5 310 316.4" fill="none" stroke="#000" stroke-width="1.15" stroke-dasharray="5 1.3"/>
<path d="M178.3 309.4L266.8 355.8L270.4 360.7" fill="none" stroke="#000" stroke-width="1.15" stroke-dasharray="5 1.3"/>
<path d="M195.1 312.2L234.5 329.7" fill="none" stroke="#000" stroke-width="1.15" stroke-dasharray="5 1.3"/>
<path d="M234.5 329.7C235.6 328.9 236.5 326.7 238.7 326.5C241 326.3 240.7 326.5 242.9 329C245.2 331.6 246 334.2 247.2 336.1" fill="none" stroke="#000" stroke-width="1.15" stroke-dasharray="5 1.3"/>
<path d="M250 337.5L269.7 348L280.9 342" fill="none" stroke="#000" stroke-width="1.15" stroke-dasharray="5 1.3"/>
<path d="M280.9 342C282.2 342.4 281.9 340.6 286.5 343.8C291.1 347 297.3 353 300.6 355.8" fill="none" stroke="#000" stroke-width="1.15" stroke-dasharray="5 1.3"/>
<path d="M300.6 355.8L310 350.8" fill="none" stroke="#000" stroke-width="1.15" stroke-dasharray="5 1.3"/>
<path d="M300.6 355.8C302.4 358.1 306.1 361.8 308.3 365.6C310.5 369.4 309.6 370.4 310 371.9" fill="none" stroke="#000" stroke-width="1.15" stroke-dasharray="5 1.3"/>
<path d="M279.5 348.7C281.1 350.7 284.6 351.7 286.5 357.2C288.5 362.6 287.6 368.5 287.9 371.9" fill="none" stroke="#000" stroke-width="1.15" stroke-dasharray="5 1.3"/>
<path d="M209.2 343.1L223.3 342.4" fill="none" stroke="#000" stroke-width="1.15" stroke-dasharray="5 1.3"/>
<ellipse cx="187.4" cy="317.8" rx="7.3" ry="3.1" fill="none" stroke="#000" stroke-width="0.9" transform="rotate(28 187.4 317.8)"/>
<ellipse cx="187.4" cy="318.1" rx="5.3" ry="1.7" fill="none" stroke="#000" stroke-width="0.8" transform="rotate(28 187.4 318.1)"/>
<ellipse cx="205" cy="302.6" rx="6.7" ry="2" fill="none" stroke="#000" stroke-width="0.9" transform="rotate(-22 205 302.6)"/>
<ellipse cx="190.2" cy="333.3" rx="6.3" ry="1.8" fill="none" stroke="#000" stroke-width="0.9" transform="rotate(32 190.2 333.3)"/>
<ellipse cx="201.5" cy="336.1" rx="2.8" ry="3.7" fill="none" stroke="#000" stroke-width="1.0" transform="rotate(-25 201.5 336.1)"/>
<path d="M202 338.9A1.8 2.5 -25 0 1 201.8 334.1" fill="none" stroke="#000" stroke-width="0.8"/>
<ellipse cx="228.9" cy="341.7" rx="3.1" ry="4.1" fill="none" stroke="#000" stroke-width="1.0" transform="rotate(-25 228.9 341.7)"/>
<path d="M229.4 344.7A2 2.8 -25 0 1 229.2 339.5" fill="none" stroke="#000" stroke-width="0.8"/>
<ellipse cx="266.8" cy="363.1" rx="3.3" ry="3.7" fill="none" stroke="#000" stroke-width="1.0" transform="rotate(-25 266.8 363.1)"/>
<path d="M267.2 365.9A2.1 2.5 -25 0 1 267.3 361.1" fill="none" stroke="#000" stroke-width="0.8"/>
<ellipse cx="164.9" cy="315" rx="2.6" ry="3.5" fill="none" stroke="#000" stroke-width="1.0" transform="rotate(-25 164.9 315)"/>
<path d="M165.4 317.6A1.7 2.4 -25 0 1 165.2 313.2" fill="none" stroke="#000" stroke-width="0.8"/>
<path d="M167 322C169.3 322.2 171.7 321.2 175.5 322.7C179.2 324.2 180.5 323.7 181.1 327.6C181.6 331.6 180.9 333.7 177.6 337.5C174.2 341.2 173.1 340.2 168.4 341.7C163.7 343.2 162.2 342.7 160 343.1" fill="none" stroke="#000" stroke-width="1.15" stroke-dasharray="5 1.3"/>
<path d="M178.3 337.5C179.5 340.4 182.5 340.6 182.5 347.3C182.5 354.1 179.5 356.2 178.3 360" fill="none" stroke="#000" stroke-width="1.15" stroke-dasharray="5 1.3"/>
<path d="M176.2 338.9C176.6 343.5 176.5 347.6 177.6 354.3C178.6 361.1 179 359.3 179.7 361.4" fill="none" stroke="#000" stroke-width="1.15" stroke-dasharray="5 1.3"/>
<path d="M160 368.4C163.7 367.3 168.4 363.3 174.1 364.2C179.7 365.1 179.2 369.9 181.1 371.9" fill="none" stroke="#000" stroke-width="1.15" stroke-dasharray="5 1.3"/>
<path d="M181.1 327.6L199.4 343.1" fill="none" stroke="#000" stroke-width="1.15" stroke-dasharray="5 1.3"/>
<path d="M35.5 342C35.7 347.6 34.9 350 36.2 363.1C37.6 376.2 37.8 377.3 40.5 391.2C43.1 405.1 43.5 406.1 46.1 415.1C48.7 424.1 46.2 420.4 50.3 424.9C54.4 429.4 55.9 426.9 61.6 432C67.2 437 68.8 440.7 71.4 443.9" fill="none" stroke="#000" stroke-width="1.15" stroke-dasharray="5 1.3"/>
<path d="M46.1 342C46.5 344.2 48.1 346.3 47.5 350.4C46.9 354.6 44.4 352.2 44 357.5C43.6 362.7 44.4 363.7 46.1 370.1C47.8 376.5 49.4 375.7 50.3 381.4C51.2 387 48.9 383.3 49.6 391.2C50.4 399.1 51.1 404.5 53.1 410.9C55.2 417.3 56.2 414 57.3 415.1" fill="none" stroke="#000" stroke-width="1.15" stroke-dasharray="5 1.3"/>
<ellipse cx="41.2" cy="346.2" rx="2.4" ry="3.3" fill="none" stroke="#000" stroke-width="1.0" transform="rotate(-25 41.2 346.2)"/>
<path d="M41.7 348.7A1.5 2.2 -25 0 1 41.5 344.6" fill="none" stroke="#000" stroke-width="0.8"/>
<ellipse cx="45.4" cy="381.4" rx="2.4" ry="3.3" fill="none" stroke="#000" stroke-width="1.0" transform="rotate(-25 45.4 381.4)"/>
<path d="M45.9 383.8A1.5 2.2 -25 0 1 45.7 379.7" fill="none" stroke="#000" stroke-width="0.8"/>
<ellipse cx="51" cy="418.6" rx="2.6" ry="3.5" fill="none" stroke="#000" stroke-width="1.0" transform="rotate(-25 51 418.6)"/>
<path d="M51.5 421.2A1.7 2.4 -25 0 1 51.3 416.8" fill="none" stroke="#000" stroke-width="0.8"/>
<ellipse cx="64.4" cy="424.9" rx="5.6" ry="7.7" fill="none" stroke="#000" stroke-width="1.15" transform="rotate(-25 64.4 424.9)" stroke-dasharray="5 1.3"/>
<ellipse cx="64.8" cy="425.2" rx="3.4" ry="5.1" fill="none" stroke="#000" stroke-width="0.9" transform="rotate(-25 64.8 425.2)"/>
<path d="M62.3 344.8C62.6 349.7 62 354.5 63.7 363.1C65.3 371.7 67.6 371.9 68.6 377.1C69.5 382.4 66.4 375.6 67.2 382.8C67.9 389.9 70.3 398.2 71.4 403.9" fill="none" stroke="#000" stroke-width="1.15" stroke-dasharray="5 1.3"/>
<path d="M70 358.9C70.7 365.6 71.1 372.9 72.8 384.2C74.5 395.4 75.4 396.5 76.3 401" fill="none" stroke="#000" stroke-width="1.15" stroke-dasharray="5 1.3"/>
<path d="M70 358.9C70.5 358.4 69.6 356.5 72.8 356.8C76 357 83.5 359.6 86.2 360.3" fill="none" stroke="#000" stroke-width="1.15" stroke-dasharray="5 1.3"/>
<path d="M86.9 342L86.9 360.3L117.8 343.4" fill="none" stroke="#000" stroke-width="1.15" stroke-dasharray="5 1.3"/>
<path d="M57.3 415.1C61.6 412.7 67.1 409.2 73.5 406C79.9 402.8 77.3 403.3 81.2 403.2C85.2 403 84.9 402.8 88.3 405.3C91.6 407.7 92.2 408.2 93.9 412.3C95.6 416.4 95.3 417 94.6 420.7C93.8 424.5 95.4 422.8 91.1 426.3C86.8 429.9 81.8 432 78.4 434.1" fill="none" stroke="#000" stroke-width="1.15" stroke-dasharray="5 1.3"/>
<ellipse cx="119.2" cy="356.8" rx="7" ry="8.4" fill="none" stroke="#000" stroke-width="1.15" transform="rotate(-25 119.2 356.8)"/>
<path d="M116.4 349L129 343.4" fill="none" stroke="#000" stroke-width="1.15"/>
<path d="M137.5 356.1L126.2 364.5" fill="none" stroke="#000" stroke-width="1.15"/>
<path d="M129 343.4C131.4 344.8 133.2 343.4 136.1 347.6C138.9 351.8 137 353.2 137.5 356.1" fill="none" stroke="#000" stroke-width="1.15"/>
<ellipse cx="113.6" cy="377.8" rx="7" ry="8.2" fill="none" stroke="#000" stroke-width="1.15" transform="rotate(-25 113.6 377.8)" stroke-dasharray="5 1.3"/>
<path d="M129 365.9C129.5 369.2 132.8 370.1 130.4 375.7C128.1 381.4 124.8 380.4 122 382.8" fill="none" stroke="#000" stroke-width="1.15" stroke-dasharray="5 1.3"/>
<path d="M115 370.1L127.6 364.5" fill="none" stroke="#000" stroke-width="1.15" stroke-dasharray="5 1.3"/>
<path d="M122 384.2C122.4 385.4 119.6 386.3 123.4 388.4C127.2 390.5 129.8 387 134.7 391.2C139.5 395.4 139.2 394.4 139.6 402.4C140 410.5 137.1 413.3 136.1 417.9" fill="none" stroke="#000" stroke-width="1.15" stroke-dasharray="5 1.3"/>
<path d="M122 389.1C120.5 391 117.5 389.7 117.1 395.4C116.7 401.1 115.3 401.1 120.6 408.1C125.9 415 130.4 415.5 134.7 418.6" fill="none" stroke="#000" stroke-width="1.15" stroke-dasharray="5 1.3"/>
<path d="M136.1 418.6L144.5 425.6" fill="none" stroke="#000" stroke-width="1.15" stroke-dasharray="5 1.3"/>
<path d="M95.3 420.7L117.8 439L144.5 423.5L175 439" fill="none" stroke="#000" stroke-width="1.15" stroke-dasharray="5 1.3"/>
<path d="M92.5 426.3C94.7 429.3 95.7 432.9 100.9 437.6C106.2 442.3 109.2 442.2 112.2 443.9" fill="none" stroke="#000" stroke-width="1.15" stroke-dasharray="5 1.3"/>
<path d="M109.3 443.9L119.2 439" fill="none" stroke="#000" stroke-width="1.15" stroke-dasharray="5 1.3"/>
<path d="M134.7 373.6C134.8 374.1 132 376 136.1 378.6C140.1 381.2 171.1 397.5 175 399.6" fill="none" stroke="#000" stroke-width="1.15" stroke-dasharray="5 1.3"/>
<path d="M136.1 372.2L157.1 382.8" fill="none" stroke="#000" stroke-width="1.15" stroke-dasharray="5 1.3"/>
<ellipse cx="162.8" cy="379.3" rx="7.7" ry="9.8" fill="none" stroke="#000" stroke-width="1.15" transform="rotate(-25 162.8 379.3)" stroke-dasharray="5 1.3"/>
<ellipse cx="162.8" cy="379.3" rx="4.9" ry="6.7" fill="none" stroke="#000" stroke-width="1.15" transform="rotate(-25 162.8 379.3)" stroke-dasharray="5 1.3"/>
<path d="M137.5 342C139.6 345 138.2 347.2 144.5 351.8C150.8 356.5 151 357 158.6 357.5C166.1 357.9 166 357.9 169.8 353.2C173.6 348.6 170.8 345.4 171.2 342" fill="none" stroke="#000" stroke-width="1.15" stroke-dasharray="5 1.3"/>
<path d="M145.9 342C147.6 344.5 146.9 346.6 151.5 350.4C156.2 354.2 158.4 353.4 161.4 354.7" fill="none" stroke="#000" stroke-width="1.15" stroke-dasharray="5 1.3"/>
<path d="M140.3 356.1L160 368.7" fill="none" stroke="#000" stroke-width="1.15" stroke-dasharray="5 1.3"/>
<path d="M172.6 406.7C172.8 408.5 172.5 408.5 173.3 412.3C174.1 416 174.4 416 175 417.9" fill="none" stroke="#000" stroke-width="1.15" stroke-dasharray="5 1.3"/>
<path d="M199.4 343.4C197.9 348 195.3 348.3 194.4 358.9C193.6 369.4 192.5 365.1 196.6 378.6C200.6 392 198.5 389.9 207.8 403.9C217.1 417.8 215.7 415.9 227.5 424.9C239.3 434 238.3 432.8 247.2 434.1C256 435.3 252.4 435.7 257 429.2C261.6 422.6 262.2 424.5 262.6 412.3C263 400.1 263 402.7 258.4 388.4C253.8 374.1 254.8 376.7 247.2 364.5C239.6 352.3 239.9 353.9 233.1 347.6C226.4 341.3 227.2 344.7 224.7 343.4" fill="none" stroke="#000" stroke-width="1.15" stroke-dasharray="5 1.3"/>
<path d="M195.8 344.8C194 349.5 190.8 349.3 189.5 360.3C188.3 371.2 187.8 367.9 191.6 381.4C195.4 394.9 193.5 391.8 202.2 405.3C210.8 418.8 209.5 417.1 220.4 426.3C231.4 435.6 229.9 433.2 238.7 436.2C247.6 439.1 246.6 436.2 250 436.2" fill="none" stroke="#000" stroke-width="1.15" stroke-dasharray="5 1.3"/>
<path d="M234.5 348.3C238.6 351.5 242.8 352.6 250 360.3C257.1 368 257.1 371.1 261.2 377.1C265.3 383.1 264.3 381.3 265.4 382.8" fill="none" stroke="#000" stroke-width="1.15" stroke-dasharray="5 1.3"/>
<path d="M238.7 349C244 353.5 250.9 358 258.4 365.9C265.9 373.8 264.6 375.2 266.8 378.6" fill="none" stroke="#000" stroke-width="1.15" stroke-dasharray="5 1.3"/>
<ellipse cx="255.6" cy="361.7" rx="4.9" ry="2" fill="none" stroke="#000" stroke-width="0.9" transform="rotate(40 255.6 361.7)"/>
<ellipse cx="266.8" cy="363.1" rx="3.1" ry="3.5" fill="none" stroke="#000" stroke-width="1.0" transform="rotate(-25 266.8 363.1)"/>
<path d="M267.2 365.8A2 2.4 -25 0 1 267.3 361.2" fill="none" stroke="#000" stroke-width="0.8"/>
<path d="M244.3 342C247.5 343.8 264.7 352.9 268.2 355.4C271.8 357.8 270.6 357.9 271.1 360.3C271.5 362.6 271.7 371.2 271.8 372.9" fill="none" stroke="#000" stroke-width="1.15" stroke-dasharray="5 1.3"/>
<path d="M257 342L269.7 348.3L280.9 342" fill="none" stroke="#000" stroke-width="1.15" stroke-dasharray="5 1.3"/>
<path d="M279.5 347.6C283 350.4 296.9 358.6 300.6 364.5C304.2 370.4 301.2 379.7 301.3 382.8" fill="none" stroke="#000" stroke-width="1.15" stroke-dasharray="5 1.3"/>
<path d="M285.1 357.5C285.4 359.2 283.7 361.4 286.5 365.9C289.3 370.4 296.6 377.1 299.2 380" fill="none" stroke="#000" stroke-width="1.15" stroke-dasharray="5 1.3"/>
<path d="M299.2 354.7L310 349" fill="none" stroke="#000" stroke-width="1.15" stroke-dasharray="5 1.3"/>
<path d="M300.6 356.1L310 364.5" fill="none" stroke="#000" stroke-width="1.15" stroke-dasharray="5 1.3"/>
<path d="M265.4 380C265.2 381.5 263.6 380.7 264.7 385.6C265.9 390.5 266.5 393.4 269.7 398.2C272.8 403.1 273.7 403.1 276.7 403.9C279.7 404.6 279.8 401.8 280.9 401" fill="none" stroke="#000" stroke-width="1.15" stroke-dasharray="5 1.3"/>
<path d="M272.5 372.9C274 375.6 275.1 379 278.1 382.8C281.1 386.5 282.2 385.9 283.7 387" fill="none" stroke="#000" stroke-width="1.15" stroke-dasharray="5 1.3"/>
<ellipse cx="282.3" cy="391.9" rx="2.8" ry="3.9" fill="none" stroke="#000" stroke-width="1.0" transform="rotate(-25 282.3 391.9)"/>
<path d="M282.9 394.8A1.8 2.7 -25 0 1 282.6 389.9" fill="none" stroke="#000" stroke-width="0.8"/>
<ellipse cx="276.7" cy="416.5" rx="3.1" ry="4.4" fill="none" stroke="#000" stroke-width="1.0" transform="rotate(-25 276.7 416.5)"/>
<path d="M277.3 419.7A2 3 -25 0 1 276.9 414.2" fill="none" stroke="#000" stroke-width="0.8"/>
<ellipse cx="282.3" cy="434.1" rx="2.4" ry="3.9" fill="none" stroke="#000" stroke-width="1.0" transform="rotate(-25 282.3 434.1)"/>
<path d="M283 436.9A1.5 2.7 -25 0 1 282.5 432.1" fill="none" stroke="#000" stroke-width="0.8"/>
<path d="M288.2 395.4L288.6 443.9" fill="none" stroke="#000" stroke-width="1.15" stroke-dasharray="5 1.3"/>
<path d="M280.9 402.4L280.9 408.1" fill="none" stroke="#000" stroke-width="1.15" stroke-dasharray="5 1.3"/>
<path d="M299.2 431.3L296.4 432L295.7 394L310 388.4" fill="none" stroke="#000" stroke-width="1.15" stroke-dasharray="5 1.3"/>
<path d="M296.4 416.5L310 409.5" fill="none" stroke="#000" stroke-width="1.15" stroke-dasharray="5 1.3"/>
<path d="M276.7 403.9C274.8 405 272.1 405.1 269.7 408.1C267.2 411.1 267.2 410.2 267.5 415.1C267.9 420 271.2 421.1 271.1 426.3C270.9 431.6 268.7 430.1 266.8 434.8C265 439.5 264.8 441.5 264 443.9" fill="none" stroke="#000" stroke-width="1.15" stroke-dasharray="5 1.3"/>
<path d="M272.5 426.3C273.6 428.6 274.4 430.1 276.7 434.8C278.9 439.5 279.8 441.5 280.9 443.9" fill="none" stroke="#000" stroke-width="1.15" stroke-dasharray="5 1.3"/>
<path d="M307.6 363.1 L309 388.4" fill="none" stroke="#000" stroke-width="1.15" stroke-dasharray="5 1.3"/>
<path d="M310 389.8C309.2 392.6 307.6 392.1 307.6 398.2C307.6 404.3 309.2 404.8 310 408.1" fill="none" stroke="#000" stroke-width="1.15" stroke-dasharray="5 1.3"/>
<path d="M169.8 342C169.5 344.2 170.3 345.9 168.4 350.4C166.6 354.9 165.1 356.4 162.8 358.9C160.6 361.3 160.7 359.4 160 359.6" fill="none" stroke="#000" stroke-width="1.15" stroke-dasharray="5 1.3"/>
<path d="M176.9 342C178 343.9 180.3 344.2 181.1 349C181.8 353.9 179.7 353.5 179.7 360.3C179.7 367 181.6 368 181.1 374.3C180.5 380.7 178.5 381.6 177.6 384.2" fill="none" stroke="#000" stroke-width="1.15" stroke-dasharray="5 1.3"/>
<path d="M160 367.3C162.5 366.5 163.4 364.1 168.4 364.5C173.5 364.9 172.9 364.9 176.9 368.7C180.9 372.5 181.8 372.9 181.8 377.1C181.8 381.4 180.9 379.4 176.9 382.8C172.9 386.1 173.5 387.1 168.4 388.4C163.4 389.7 162.5 387.4 160 387" fill="none" stroke="#000" stroke-width="1.15" stroke-dasharray="5 1.3"/>
<ellipse cx="162.1" cy="380" rx="3.3" ry="4.4" fill="none" stroke="#000" stroke-width="1.0" transform="rotate(-25 162.1 380)"/>
<path d="M162.7 383.1A2.1 3 -25 0 1 162.4 377.6" fill="none" stroke="#000" stroke-width="0.8"/>
<path d="M160 394L176.9 403.2" fill="none" stroke="#000" stroke-width="1.15" stroke-dasharray="5 1.3"/>
<path d="M168.4 389.8L184.6 398.2" fill="none" stroke="#000" stroke-width="1.15" stroke-dasharray="5 1.3"/>
<path d="M176.9 403.9L189.5 397.5" fill="none" stroke="#000" stroke-width="1.15" stroke-dasharray="5 1.3"/>
<path d="M189.5 397.5C191 400.3 193.1 403.4 195.1 408.1C197.2 412.8 197.6 411.7 197.3 415.1C196.9 418.5 196.9 418.1 193.7 420.7C190.6 423.3 187.6 423.8 185.3 424.9" fill="none" stroke="#000" stroke-width="1.15" stroke-dasharray="5 1.3"/>
<ellipse cx="179.7" cy="415.1" rx="7.7" ry="9.8" fill="none" stroke="#000" stroke-width="1.15" transform="rotate(-25 179.7 415.1)" stroke-dasharray="5 1.3"/>
<ellipse cx="179.7" cy="415.1" rx="4.2" ry="5.9" fill="none" stroke="#000" stroke-width="1.15" transform="rotate(-25 179.7 415.1)" stroke-dasharray="5 1.3"/>
<path d="M197.3 416.5C197.5 419 195.6 420.9 198 424.9C200.3 428.9 200.3 429 205 429.9C209.6 430.7 208.8 427.1 213.4 427.8C218.1 428.4 216.7 427.1 220.4 432C224.2 436.8 224.4 440.3 226.1 443.9" fill="none" stroke="#000" stroke-width="1.15" stroke-dasharray="5 1.3"/>
<path d="M160 430.6L176.9 440.4" fill="none" stroke="#000" stroke-width="1.15" stroke-dasharray="5 1.3"/>
<path d="M160 443.9C164.5 443 169.4 442.5 176.9 440.4C184.4 438.3 182.9 436.6 188.1 436.2C193.4 435.8 193.6 436.9 196.6 439C199.6 441.1 198.6 442.6 199.4 443.9" fill="none" stroke="#000" stroke-width="1.15" stroke-dasharray="5 1.3"/>
<path d="M290 317.6C292.6 316.3 295.3 313.6 299.8 312.7C304.3 311.7 303.9 311.4 306.9 314.1C309.9 316.7 309.2 318.7 311.1 322.5C313 326.2 310.9 324 313.9 328.1C316.9 332.2 320.1 335.3 322.3 338" fill="none" stroke="#000" stroke-width="1.15" stroke-dasharray="5 1.3"/>
<path d="M322.3 338.7L335 335.4L339.9 347.1L308.3 365.4L300.5 354.1L335 335.8" fill="none" stroke="#000" stroke-width="1.15" stroke-dasharray="5 1.3"/>
<path d="M308.3 365.4L309 387.2" fill="none" stroke="#000" stroke-width="1.15" stroke-dasharray="5 1.3"/>
<path d="M290 342.2L300.5 354.1" fill="none" stroke="#000" stroke-width="1.15" stroke-dasharray="5 1.3"/>
<path d="M290 356.2C291.9 358.1 299.5 363 301.2 367.5C303 371.9 301.9 381.8 300.5 382.9C299.1 384.1 294.3 377.1 292.8 374.5C291.3 371.9 291.6 368.7 291.4 367.5" fill="none" stroke="#000" stroke-width="1.15" stroke-dasharray="5 1.3"/>
<path d="M337.8 350.6C339.5 352.5 342.4 352.8 344.1 357.6C345.8 362.5 345.8 364.8 344.1 368.9C342.4 373 339.5 372 337.8 373.1" fill="none" stroke="#000" stroke-width="1.15" stroke-dasharray="5 1.3"/>
<path d="M337.8 373.1L309.7 387.2" fill="none" stroke="#000" stroke-width="1.15" stroke-dasharray="5 1.3"/>
<path d="M337.8 375.9C339.3 377.4 341.7 377.8 343.4 381.5C345.1 385.3 344.1 386.2 344.1 390C344.1 393.7 342.5 392.4 343.4 395.6C344.4 398.8 346.5 400.2 347.6 401.9" fill="none" stroke="#000" stroke-width="1.15" stroke-dasharray="5 1.3"/>
<path d="M295.6 397C298.2 395.6 303.8 392.8 308.3 390C312.8 387.2 313.9 384.1 318.1 382.9C322.3 381.8 327.1 384.1 329.4 384.3" fill="none" stroke="#000" stroke-width="1.15" stroke-dasharray="5 1.3"/>
<path d="M311.1 401.9C311.5 399.2 310 397.2 312.5 392.8C315 388.4 315.3 388 319.5 387.2C323.7 386.3 324 386.6 326.6 390C329.1 393.3 327.5 395.9 328 398.4" fill="none" stroke="#000" stroke-width="1.15" stroke-dasharray="5 1.3"/>
<path d="M314.6 401.9C315 399.5 313.9 397.6 316 393.9C318.1 390.2 318.7 390 321.6 389.7C324.6 389.4 324.6 391.9 325.8 392.8" fill="none" stroke="#000" stroke-width="1.15" stroke-dasharray="5 1.3"/>
<path d="M342 395.6L332.2 401.9" fill="none" stroke="#000" stroke-width="1.15" stroke-dasharray="5 1.3"/>
<ellipse cx="74.4" cy="442.5" rx="2.6" ry="3.5" fill="none" stroke="#000" stroke-width="1.0" transform="rotate(-25 74.4 442.5)"/>
<path d="M75 445.3A1.7 2.4 -25 0 1 74.8 440.9" fill="none" stroke="#000" stroke-width="0.8"/>
<path d="M62.2 432.2C65 435.8 68.9 445.2 76.2 450C83.5 454.9 93.1 456.6 98.7 456.6C104.3 456.6 103.2 451.4 104.3 450" fill="none" stroke="#000" stroke-width="1.15" stroke-dasharray="5 1.3"/>
<path d="M71.4 446.8L175 514.3" fill="none" stroke="#000" stroke-width="1.15" stroke-dasharray="5 1.3"/>
<path d="M81.2 444C84 446 94.5 454.3 98.1 455.9C101.7 457.6 102 455.1 103 453.8C104.1 452.6 103.6 449.5 104.4 448.2C105.2 446.9 107.4 446.5 107.9 446.1" fill="none" stroke="#000" stroke-width="1.15" stroke-dasharray="5 1.3"/>
<path d="M107.2 449.6C112 450.9 128 457.6 136.1 464.4C144.1 471.2 152.9 485.4 155.7 490.4C158.6 495.4 156 495.5 152.9 494.6C149.9 493.7 141.4 487.6 137.5 484.8C133.5 482 132.8 480.2 129 477.7C125.3 475.3 118.6 473.5 115 470C111.3 466.5 108.5 460 107.2 456.7C106 453.3 102.4 448.3 107.2 449.6Z" fill="none" stroke="#000" stroke-width="1.15" stroke-dasharray="5 1.3"/>
<path d="M109.3 446.8C114 449.2 129 453.8 137.5 460.9C145.9 467.9 156.2 484.3 160 489" fill="none" stroke="#000" stroke-width="1.15" stroke-dasharray="5 1.3"/>
<ellipse cx="105.8" cy="463.7" rx="2.4" ry="3.3" fill="none" stroke="#000" stroke-width="1.0" transform="rotate(-25 105.8 463.7)"/>
<path d="M106.4 466.2A1.5 2.2 -25 0 1 106.1 462" fill="none" stroke="#000" stroke-width="0.8"/>
<ellipse cx="135.4" cy="481.3" rx="2.8" ry="3.9" fill="none" stroke="#000" stroke-width="1.0" transform="rotate(-25 135.4 481.3)"/>
<path d="M135.9 484.1A1.8 2.7 -25 0 1 135.6 479.2" fill="none" stroke="#000" stroke-width="0.8"/>
<ellipse cx="164.9" cy="500.2" rx="2.8" ry="3.5" fill="none" stroke="#000" stroke-width="1.0" transform="rotate(-25 164.9 500.2)"/>
<path d="M165.3 502.9A1.8 2.4 -25 0 1 165.3 498.4" fill="none" stroke="#000" stroke-width="0.8"/>
<path d="M115 470L127.6 461.6" fill="none" stroke="#000" stroke-width="1.15" stroke-dasharray="5 1.3"/>
<path d="M129 477.7L137.5 472.1" fill="none" stroke="#000" stroke-width="1.15" stroke-dasharray="5 1.3"/>
<path d="M136.1 460.9L165.6 444" fill="none" stroke="#000" stroke-width="1.15" stroke-dasharray="5 1.3"/>
<path d="M161.4 490.4L175 483.4" fill="none" stroke="#000" stroke-width="1.15" stroke-dasharray="5 1.3"/>
<path d="M168.4 500.2L175 505.9" fill="none" stroke="#000" stroke-width="1.15" stroke-dasharray="5 1.3"/>
<ellipse cx="181.8" cy="452.4" rx="7.7" ry="9.8" fill="none" stroke="#000" stroke-width="1.15" transform="rotate(-25 181.8 452.4)" stroke-dasharray="5 1.3"/>
<ellipse cx="181.8" cy="452.4" rx="4.9" ry="6.7" fill="none" stroke="#000" stroke-width="1.15" transform="rotate(-25 181.8 452.4)" stroke-dasharray="5 1.3"/>
<path d="M200.8 445.4C200.8 447.5 202.5 448.6 200.8 452.4C199.1 456.2 198.5 455.7 195.1 458.1C191.8 460.4 191.2 459.5 189.5 460.2" fill="none" stroke="#000" stroke-width="1.15" stroke-dasharray="5 1.3"/>
<path d="M224.7 445.4C225.5 447.1 224.5 448.5 227.5 451C230.4 453.6 230.3 454.3 234.5 453.8C238.7 453.4 236.9 451.7 241.5 449.6C246.2 447.5 244.9 446 250 446.8C255 447.7 253.8 449.9 258.4 452.4C263 455 263.3 454.4 265.4 455.2" fill="none" stroke="#000" stroke-width="1.15" stroke-dasharray="5 1.3"/>
<path d="M189.5 462.3C191.8 463 193.5 462.8 198 465.1C202.5 467.3 202.3 466.6 206.4 470.7C210.5 474.8 208.2 476.1 213.4 480.6C218.7 485 220.8 486.3 226.1 487.6C231.3 488.9 229.4 485.5 233.1 485.5C236.9 485.5 236.4 484.8 240.1 487.6C243.9 490.4 245.3 493.8 247.2 496" fill="none" stroke="#000" stroke-width="1.15" stroke-dasharray="5 1.3"/>
<path d="M186.7 468.6C189 469.4 191 468.2 195.1 471.4C199.3 474.6 199.2 476.2 202.2 480.6C205.2 484.9 200.8 483.5 206.4 487.6C212 491.7 216.9 494.1 223.3 496C229.6 497.9 226.5 493.5 230.3 494.6C234 495.7 235.4 498.7 237.3 500.2" fill="none" stroke="#000" stroke-width="1.15" stroke-dasharray="5 1.3"/>
<path d="M160 490.4L192.3 474.2" fill="none" stroke="#000" stroke-width="1.15" stroke-dasharray="5 1.3"/>
<path d="M172.7 504.7L202.2 487.6" fill="none" stroke="#000" stroke-width="1.15" stroke-dasharray="5 1.3"/>
<path d="M195.1 513.9L223.3 498.8" fill="none" stroke="#000" stroke-width="1.15" stroke-dasharray="5 1.3"/>
<path d="M161.4 492.5L172.7 505.2L193.7 515" fill="none" stroke="#000" stroke-width="1.15" stroke-dasharray="5 1.3"/>
<ellipse cx="164.2" cy="500.2" rx="2.4" ry="3.3" fill="none" stroke="#000" stroke-width="1.0" transform="rotate(-25 164.2 500.2)"/>
<path d="M164.7 502.7A1.5 2.2 -25 0 1 164.5 498.6" fill="none" stroke="#000" stroke-width="0.8"/>
<ellipse cx="200.8" cy="521.3" rx="2.6" ry="3.5" fill="none" stroke="#000" stroke-width="1.0" transform="rotate(-25 200.8 521.3)"/>
<path d="M201.3 524A1.7 2.4 -25 0 1 201.1 519.5" fill="none" stroke="#000" stroke-width="0.8"/>
<path d="M160 505.9L227.5 545.9" fill="none" stroke="#000" stroke-width="1.15" stroke-dasharray="5 1.3"/>
<path d="M195.1 514.3C196.6 514.9 198 516.3 202.2 517.1C206.4 517.9 212.6 519.4 216.2 518.5C219.9 517.7 218.2 514.6 220.4 512.9C222.7 511.2 223.8 511.8 227.5 510.1C231.1 508.4 235.4 505.9 238.7 504.4C242.1 503 243.2 503.3 244.3 503" fill="none" stroke="#000" stroke-width="1.15" stroke-dasharray="5 1.3"/>
<path d="M206.4 522.7C207.2 522.3 206.4 519.5 210.6 520.6C214.8 521.7 224.1 526.8 227.5 528.3" fill="none" stroke="#000" stroke-width="1.15" stroke-dasharray="5 1.3"/>
<path d="M288.6 444L289.3 545.9" fill="none" stroke="#000" stroke-width="1.15" stroke-dasharray="5 1.3"/>
<path d="M293.6 545.9L292.8 491.8L310 481.3" fill="none" stroke="#000" stroke-width="1.15" stroke-dasharray="5 1.3"/>
<path d="M295 491.8L310 517.1" fill="none" stroke="#000" stroke-width="1.15" stroke-dasharray="5 1.3"/>
<path d="M306.9 545.9L306.2 528.3L310 526.9" fill="none" stroke="#000" stroke-width="1.15" stroke-dasharray="5 1.3"/>
<path d="M265.4 484.8L250 493.2" fill="none" stroke="#000" stroke-width="1.15" stroke-dasharray="5 1.3"/>
<path d="M266.8 487.6L244.3 500.2" fill="none" stroke="#000" stroke-width="1.15" stroke-dasharray="5 1.3"/>
<path d="M268.2 462.3C267.3 464.9 265.5 466.1 264.7 472.1C264 478.1 265.2 481.4 265.4 484.8" fill="none" stroke="#000" stroke-width="1.15" stroke-dasharray="5 1.3"/>
<path d="M272.5 463.7C271.6 466 269.8 468.3 269 473.5C268.1 478.8 266.5 480.9 269 486.2C271.4 491.4 277.7 493.4 279.5 496C281.3 498.6 277.3 497.1 276.7 497.4" fill="none" stroke="#000" stroke-width="1.15" stroke-dasharray="5 1.3"/>
<path d="M276.7 465.1C275.6 468.1 273.2 470.7 272.5 476.3C271.7 482 273.5 483.6 273.9 486.2" fill="none" stroke="#000" stroke-width="1.15" stroke-dasharray="5 1.3"/>
<ellipse cx="269.7" cy="453.8" rx="3.3" ry="3.9" fill="none" stroke="#000" stroke-width="1.0" transform="rotate(-25 269.7 453.8)"/>
<path d="M270.1 456.8A2.1 2.7 -25 0 1 270.1 451.7" fill="none" stroke="#000" stroke-width="0.8"/>
<ellipse cx="281.6" cy="463" rx="2.6" ry="3.5" fill="none" stroke="#000" stroke-width="1.0" transform="rotate(-25 281.6 463)"/>
<path d="M282.1 465.6A1.7 2.4 -25 0 1 281.9 461.2" fill="none" stroke="#000" stroke-width="0.8"/>
<ellipse cx="279.5" cy="479.8" rx="4.5" ry="5.6" fill="none" stroke="#000" stroke-width="1.15" transform="rotate(-25 279.5 479.8)" stroke-dasharray="5 1.3"/>
<ellipse cx="281.6" cy="505.9" rx="2.6" ry="3.5" fill="none" stroke="#000" stroke-width="1.0" transform="rotate(-25 281.6 505.9)"/>
<path d="M282.1 508.5A1.7 2.4 -25 0 1 281.9 504.1" fill="none" stroke="#000" stroke-width="0.8"/>
<ellipse cx="280.9" cy="537.5" rx="2.8" ry="3.7" fill="none" stroke="#000" stroke-width="1.0" transform="rotate(-25 280.9 537.5)"/>
<path d="M281.4 540.3A1.8 2.5 -25 0 1 281.2 535.6" fill="none" stroke="#000" stroke-width="0.8"/>
<ellipse cx="236.6" cy="541" rx="2.6" ry="3.5" fill="none" stroke="#000" stroke-width="1.0" transform="rotate(-25 236.6 541)"/>
<path d="M237.1 543.6A1.7 2.4 -25 0 1 236.9 539.2" fill="none" stroke="#000" stroke-width="0.8"/>
<path d="M264 507.3C264.5 510.6 266.3 512.6 265.4 518.5C264.6 524.4 265.4 523.6 261.2 526.9C257 530.3 254.3 528.9 251.4 529.8" fill="none" stroke="#000" stroke-width="1.15" stroke-dasharray="5 1.3"/>
<path d="M268.2 508.7C268.7 512 270.5 513.2 269.7 519.9C268.8 526.7 270.5 526.5 265.4 531.2C260.4 535.8 256.6 534.1 252.8 535.4" fill="none" stroke="#000" stroke-width="1.15" stroke-dasharray="5 1.3"/>
<path d="M271.1 510.1C271.3 512.9 270.8 521 272.5 524.1C274.2 527.2 278.1 528.1 279.5 525.5C280.9 523 280.3 514.9 279.5 511.5C278.7 508.1 276.1 509.2 275.3 508.7" fill="none" stroke="#000" stroke-width="1.15" stroke-dasharray="5 1.3"/>
<path d="M238.7 514.3C240.2 517.3 241.3 521.8 244.3 525.5C247.3 529.3 248.5 527.6 250 528.3" fill="none" stroke="#000" stroke-width="1.15" stroke-dasharray="5 1.3"/>
<path d="M233.1 519.9C234.6 522.9 235.7 525.9 238.7 531.2C241.7 536.4 242.1 535.7 244.3 539.6C246.6 543.5 246.4 544.2 247.2 545.9" fill="none" stroke="#000" stroke-width="1.15" stroke-dasharray="5 1.3"/>
<path d="M230.3 519.9C231.8 523.7 232.9 527 235.9 534C238.9 540.9 240 542.7 241.5 545.9" fill="none" stroke="#000" stroke-width="1.15" stroke-dasharray="5 1.3"/>
<path d="M248.6 511.5C249.3 512.2 249.1 515 251.4 514.3C253.6 513.5 255.5 510.2 257 508.7" fill="none" stroke="#000" stroke-width="1.15" stroke-dasharray="5 1.3"/>
<path d="M264 505.9C265.4 505.9 268.5 505 271.1 505.9C273.6 506.7 275.6 509.2 276.7 510.1" fill="none" stroke="#000" stroke-width="1.15" stroke-dasharray="5 1.3"/>
<path d="M258.4 535.4C260.7 534.3 263.1 531.5 266.8 531.2C270.6 530.8 270.2 531 272.5 534C274.7 537 275.3 539.2 275.3 542.4C275.3 545.6 273.2 545 272.5 545.9" fill="none" stroke="#000" stroke-width="1.15" stroke-dasharray="5 1.3"/>
<path d="M347.6 402C348.8 403.1 348.9 403.6 351.9 406.2C354.9 408.8 356.3 407.3 358.9 411.8C361.5 416.3 359.8 417.8 361.7 423.1C363.6 428.3 363.3 427.8 365.9 431.5C368.5 435.3 369.7 433 371.5 437.1C373.4 441.3 370.7 442.5 372.9 447C375.2 451.5 376.6 450.3 380 454C383.3 457.8 384.1 456.5 385.6 461C387.1 465.5 384.1 463.4 385.6 470.9C387.1 478.4 387.5 482.4 391.2 489.2C395 495.9 397 492.3 399.7 496.2C402.3 500.1 400.7 501.9 401.1 503.9" fill="none" stroke="#000" stroke-width="1.15" stroke-dasharray="5 1.3"/>
<path d="M295.6 402L296.3 430.8L299.8 431.5" fill="none" stroke="#000" stroke-width="1.15" stroke-dasharray="5 1.3"/>
<path d="M296.3 416.1L309.7 409" fill="none" stroke="#000" stroke-width="1.15" stroke-dasharray="5 1.3"/>
<path d="M308.3 402C309.4 403.5 309.1 405.7 312.5 407.6C315.9 409.5 316.1 410.2 320.9 409C325.8 407.9 328.1 404.9 330.8 403.4" fill="none" stroke="#000" stroke-width="1.15" stroke-dasharray="5 1.3"/>
<path d="M329.4 409L330.8 417.5L337.8 417.5" fill="none" stroke="#000" stroke-width="1.15" stroke-dasharray="5 1.3"/>
<ellipse cx="336.4" cy="425.9" rx="5.6" ry="7.7" fill="none" stroke="#000" stroke-width="1.15" transform="rotate(-25 336.4 425.9)" stroke-dasharray="5 1.3"/>
<ellipse cx="336.7" cy="426.2" rx="3.5" ry="5.3" fill="none" stroke="#000" stroke-width="0.9" transform="rotate(-25 336.7 426.2)"/>
<path d="M330.8 422.4L313.2 431.5L313.9 452.6" fill="none" stroke="#000" stroke-width="1.15" stroke-dasharray="5 1.3"/>
<path d="M313.9 433.6L328 445.6" fill="none" stroke="#000" stroke-width="1.15" stroke-dasharray="5 1.3"/>
<path d="M343.4 432.2C344 433.5 344.5 436.2 346.2 438.6C347.9 440.9 350.7 443 351.9 444.2" fill="none" stroke="#000" stroke-width="1.15" stroke-dasharray="5 1.3"/>
<path d="M343.4 441.4L318.1 451.9L320.2 460.3L333.6 454" fill="none" stroke="#000" stroke-width="1.15" stroke-dasharray="5 1.3"/>
<path d="M326.6 448.4L329.4 455.4" fill="none" stroke="#000" stroke-width="1.15" stroke-dasharray="5 1.3"/>
<ellipse cx="349" cy="449.1" rx="3.4" ry="4.5" fill="none" stroke="#000" stroke-width="1.1" transform="rotate(-25 349 449.1)"/>
<path d="M323.7 463.9C326.8 463.9 336.6 463.6 342 463.9C347.4 464.1 353.7 465 356.1 465.3" fill="none" stroke="#000" stroke-width="1.15" stroke-dasharray="5 1.3"/>
<path d="M326.6 468.1C329.4 468.3 338.7 468.8 343.4 469.5C348.1 470.2 352.8 471.8 354.7 472.3" fill="none" stroke="#000" stroke-width="1.15" stroke-dasharray="5 1.3"/>
<path d="M347.6 455.4C348.1 456.8 348.3 462.7 350.4 463.9C352.6 465 358.7 462.7 360.3 462.4" fill="none" stroke="#000" stroke-width="1.15" stroke-dasharray="5 1.3"/>
<ellipse cx="361" cy="472.3" rx="3.1" ry="4.1" fill="none" stroke="#000" stroke-width="1.0" transform="rotate(-25 361 472.3)"/>
<path d="M361.5 475.3A2 2.8 -25 0 1 361.3 470.1" fill="none" stroke="#000" stroke-width="0.8"/>
<path d="M314.6 472.3L336.4 503.9" fill="none" stroke="#000" stroke-width="1.15" stroke-dasharray="5 1.3"/>
<path d="M318.8 470.9L332.2 492L336.4 503.9" fill="none" stroke="#000" stroke-width="1.15" stroke-dasharray="5 1.3"/>
<path d="M299.8 503.9L292.8 490.6L315.3 479.3" fill="none" stroke="#000" stroke-width="1.15" stroke-dasharray="5 1.3"/>
<path d="M290 497.6L292.8 490.6" fill="none" stroke="#000" stroke-width="1.15" stroke-dasharray="5 1.3"/>
<path d="M344.8 470.9L356.1 494.1L339.2 503.2" fill="none" stroke="#000" stroke-width="1.15" stroke-dasharray="5 1.3"/>
<path d="M356.1 494.1L365.9 497.6" fill="none" stroke="#000" stroke-width="1.15" stroke-dasharray="5 1.3"/>
<path d="M357.5 480.7L368.7 500.4L370.1 503.9" fill="none" stroke="#000" stroke-width="1.15" stroke-dasharray="5 1.3"/>
<path d="M363.1 477.9L377.2 503.9" fill="none" stroke="#000" stroke-width="1.15" stroke-dasharray="5 1.3"/>
<path d="M368.7 476.5L380 500.4" fill="none" stroke="#000" stroke-width="1.15" stroke-dasharray="5 1.3"/>
<path d="M356.1 452.6C356.6 454.9 356.9 460.5 358.9 463.9C360.9 467.2 364.5 468.4 365.9 469.5" fill="none" stroke="#000" stroke-width="1.15" stroke-dasharray="5 1.3"/>
<path d="M205.6 532.1L259 565.9L266.1 565.2" fill="none" stroke="#000" stroke-width="1.15" stroke-dasharray="5 1.3"/>
<path d="M266.1 565.2C267.5 564.4 268.3 565.7 273.1 561.6C277.9 557.6 286.2 550.7 290 544.8C293.8 538.9 291.5 540.3 292.1 532.1C292.6 524 292.6 509.6 292.8 504" fill="none" stroke="#000" stroke-width="1.15" stroke-dasharray="5 1.3"/>
<path d="M288.6 504C288.6 509.6 289.4 523.7 288.6 532.1C287.7 540.6 287.4 540.6 284.3 546.2C281.3 551.8 275.4 557.4 273.1 560.2" fill="none" stroke="#000" stroke-width="1.15" stroke-dasharray="5 1.3"/>
<path d="M200 515.2C203 517.1 205.2 523 211.2 522.3C217.2 521.5 216.1 516.2 222.5 512.4C228.9 508.7 231.8 509.3 235.1 508.2" fill="none" stroke="#000" stroke-width="1.15" stroke-dasharray="5 1.3"/>
<path d="M221.1 512.4L223.9 518.1" fill="none" stroke="#000" stroke-width="1.15" stroke-dasharray="5 1.3"/>
<ellipse cx="236.6" cy="541.3" rx="2.4" ry="3.1" fill="none" stroke="#000" stroke-width="1.0" transform="rotate(-25 236.6 541.3)"/>
<path d="M237 543.6A1.5 2.1 -25 0 1 236.9 539.7" fill="none" stroke="#000" stroke-width="0.8"/>
<ellipse cx="266.8" cy="553.9" rx="2.4" ry="3.3" fill="none" stroke="#000" stroke-width="1.0" transform="rotate(-25 266.8 553.9)"/>
<path d="M267.3 556.4A1.5 2.2 -25 0 1 267.1 552.3" fill="none" stroke="#000" stroke-width="0.8"/>
<ellipse cx="278" cy="542" rx="2" ry="3.7" fill="none" stroke="#000" stroke-width="1.0" transform="rotate(-25 278 542)"/>
<path d="M278.8 544.6A1.3 2.5 -25 0 1 278.1 540.1" fill="none" stroke="#000" stroke-width="0.8"/>
<ellipse cx="282.9" cy="505.4" rx="2.2" ry="3.1" fill="none" stroke="#000" stroke-width="1.0" transform="rotate(-25 282.9 505.4)"/>
<path d="M283.5 507.7A1.4 2.1 -25 0 1 283.2 503.9" fill="none" stroke="#000" stroke-width="0.8"/>
<ellipse cx="202.8" cy="522.3" rx="2.2" ry="3.1" fill="none" stroke="#000" stroke-width="1.0" transform="rotate(-25 202.8 522.3)"/>
<path d="M203.4 524.6A1.4 2.1 -25 0 1 203.1 520.8" fill="none" stroke="#000" stroke-width="0.8"/>
<path d="M246.4 525.1C247.5 527.7 246.1 531.2 250.6 534.9C255.1 538.7 258.4 539.9 263.3 539.1C268.1 538.4 268.1 537.4 268.9 532.1C269.6 526.9 267.9 525.8 266.1 519.5C264.2 513.1 263 511.2 261.9 508.2" fill="none" stroke="#000" stroke-width="1.15" stroke-dasharray="5 1.3"/>
<path d="M239.4 518.1C240.7 521 243.3 525.1 245 530.7C246.6 536.3 243.8 537.7 246.4 542C249 546.2 252.6 548.3 256.2 549C259.8 549.6 259.2 546.1 261.9 544.8C264.5 543.5 265.5 544.7 267.5 543.4C269.4 542.1 269.6 540.1 270.3 539.1" fill="none" stroke="#000" stroke-width="1.15" stroke-dasharray="5 1.3"/>
<path d="M270.3 512.4C270.9 515.2 271.4 523.1 273.1 526.5C274.8 529.9 277.6 532.1 278.7 529.3C279.9 526.5 279.9 516.4 278.7 512.4C277.6 508.5 274.2 510.2 273.1 509.6" fill="none" stroke="#000" stroke-width="1.15" stroke-dasharray="5 1.3"/>
<path d="M232.3 520.9L240.8 532.1" fill="none" stroke="#000" stroke-width="1.15" stroke-dasharray="5 1.3"/>
<path d="M225.3 529.3L230.9 533.5" fill="none" stroke="#000" stroke-width="1.15" stroke-dasharray="5 1.3"/>
<path d="M253.4 560.2L259 565.9" fill="none" stroke="#000" stroke-width="1.15" stroke-dasharray="5 1.3"/>
<path d="M267.5 565.9L290 577.1" fill="none" stroke="#000" stroke-width="1.15" stroke-dasharray="5 1.3"/>
<path d="M275.9 560.2C278.3 560 286.2 558.8 290 558.8C293.7 558.8 297 560 298.4 560.2" fill="none" stroke="#000" stroke-width="1.15" stroke-dasharray="5 1.3"/>
<ellipse cx="293.5" cy="580.6" rx="4.5" ry="6.3" fill="none" stroke="#000" stroke-width="1.1" transform="rotate(-25 293.5 580.6)"/>
<ellipse cx="293.8" cy="581" rx="2.5" ry="3.9" fill="none" stroke="#000" stroke-width="0.9" transform="rotate(-25 293.8 581)"/>
<path d="M297 565.9C297.4 567.4 297.3 567 298.4 571.5C299.5 576 301.2 578.2 301.2 582.7C301.2 587.2 301 587.2 298.4 588.3C295.8 589.5 293.3 587.3 291.4 586.9" fill="none" stroke="#000" stroke-width="1.15" stroke-dasharray="5 1.3"/>
<path d="M301.2 582.7L320.9 594" fill="none" stroke="#000" stroke-width="1.15" stroke-dasharray="5 1.3"/>
<path d="M298.4 588.3L312.5 595.4" fill="none" stroke="#000" stroke-width="1.15" stroke-dasharray="5 1.3"/>
<path d="M298.4 567.3C300.4 566.7 305.7 567 308.2 564.4C310.8 561.9 310.5 556.6 311.1 554.6" fill="none" stroke="#000" stroke-width="1.15" stroke-dasharray="5 1.3"/>
<path d="M308.2 564.4C309.1 566.4 309.7 570.6 312.5 574.3C315.3 577.9 320.3 581 322.3 582.7" fill="none" stroke="#000" stroke-width="1.15" stroke-dasharray="5 1.3"/>
<path d="M316.7 560.2C318.7 559.7 322.9 559.7 326.5 557.4C330.2 555.2 333.3 550.7 335 549" fill="none" stroke="#000" stroke-width="1.15" stroke-dasharray="5 1.3"/>
<path d="M318.1 560.2L330.7 586.9" fill="none" stroke="#000" stroke-width="1.15" stroke-dasharray="5 1.3"/>
<path d="M323.7 565.9L335 586.9" fill="none" stroke="#000" stroke-width="1.15" stroke-dasharray="5 1.3"/>
<path d="M326.5 565.9L340.6 582.7" fill="none" stroke="#000" stroke-width="1.15" stroke-dasharray="5 1.3"/>
<path d="M332.1 563L346.2 582.7" fill="none" stroke="#000" stroke-width="1.15" stroke-dasharray="5 1.3"/>
<path d="M311.1 549L305.4 546.2L306.8 529.3L326.5 516.7L329.3 520.9L330.7 544.8" fill="none" stroke="#000" stroke-width="1.15" stroke-dasharray="5 1.3"/>
<ellipse cx="318.1" cy="533.5" rx="7.7" ry="10.5" fill="none" stroke="#000" stroke-width="1.15" transform="rotate(-25 318.1 533.5)" stroke-dasharray="5 1.3"/>
<ellipse cx="318.1" cy="533.5" rx="5.3" ry="7.7" fill="none" stroke="#000" stroke-width="1.15" transform="rotate(-25 318.1 533.5)" stroke-dasharray="5 1.3"/>
<path d="M302.6 504L311.1 522.3" fill="none" stroke="#000" stroke-width="1.15" stroke-dasharray="5 1.3"/>
<path d="M329.3 504C330.5 505.7 333.6 505.1 335 512.4C336.4 519.7 337.2 532.7 336.4 540.6C335.5 548.4 331.9 549.5 330.7 551.8" fill="none" stroke="#000" stroke-width="1.15" stroke-dasharray="5 1.3"/>
<path d="M340.6 509.6L339.2 520.9" fill="none" stroke="#000" stroke-width="1.15" stroke-dasharray="5 1.3"/>
<path d="M340.6 540.6L350 536.3" fill="none" stroke="#000" stroke-width="1.15" stroke-dasharray="5 1.3"/>
<path d="M342 543.4L350 549" fill="none" stroke="#000" stroke-width="1.15" stroke-dasharray="5 1.3"/>
<path d="M335 556L350 564.4" fill="none" stroke="#000" stroke-width="1.15" stroke-dasharray="5 1.3"/>
<path d="M398.2 504C398.4 511 398.4 538.2 399 546.2C399.5 554.1 401.6 549.5 401.8 551.8C401.9 554.1 400.5 556 399.7 560.2C398.8 564.4 399 573.4 396.8 577.1C394.7 580.9 388.2 579.9 387 582.7C385.8 585.5 389.8 590.1 389.8 594C389.8 597.8 387.5 603.9 387 605.9" fill="none" stroke="#000" stroke-width="1.15" stroke-dasharray="5 1.3"/>
<path d="M382.8 518.1L398.2 511" fill="none" stroke="#000" stroke-width="1.15" stroke-dasharray="5 1.3"/>
<path d="M380 512.4L402.5 504" fill="none" stroke="#000" stroke-width="1.15" stroke-dasharray="5 1.3"/>
<path d="M384.2 561.6L401.1 552.5" fill="none" stroke="#000" stroke-width="1.15" stroke-dasharray="5 1.3"/>
<path d="M377.2 584.1L396.8 577.1" fill="none" stroke="#000" stroke-width="1.15" stroke-dasharray="5 1.3"/>
<path d="M380.7 512.4L382.8 560.2" fill="none" stroke="#000" stroke-width="1.15" stroke-dasharray="5 1.3"/>
<path d="M377.9 515.2L379.3 557.4" fill="none" stroke="#000" stroke-width="1.15" stroke-dasharray="5 1.3"/>
<path d="M372.9 506.8L339.2 512.4L340.6 542L358.9 532.1" fill="none" stroke="#000" stroke-width="1.15" stroke-dasharray="5 1.3"/>
<path d="M358.9 532.1C360.5 533.5 365.7 538.7 368.7 540.6C371.8 542.4 375.8 542.9 377.2 543.4" fill="none" stroke="#000" stroke-width="1.15" stroke-dasharray="5 1.3"/>
<path d="M357.5 518.1L358.9 532.1" fill="none" stroke="#000" stroke-width="1.15" stroke-dasharray="5 1.3"/>
<path d="M368.7 518.1L368.7 539.1" fill="none" stroke="#000" stroke-width="1.15" stroke-dasharray="5 1.3"/>
<path d="M346.2 504L356.1 519.5L371.5 512.4" fill="none" stroke="#000" stroke-width="1.15" stroke-dasharray="5 1.3"/>
<path d="M337.8 546.2L371.5 556" fill="none" stroke="#000" stroke-width="1.15" stroke-dasharray="5 1.3"/>
<path d="M330.8 556L363.1 568.7" fill="none" stroke="#000" stroke-width="1.15" stroke-dasharray="5 1.3"/>
<path d="M329.4 558.8L360.3 570.1" fill="none" stroke="#000" stroke-width="1.15" stroke-dasharray="5 1.3"/>
<path d="M337.8 546.2L330.8 556" fill="none" stroke="#000" stroke-width="1.15" stroke-dasharray="5 1.3"/>
<path d="M330.8 504C332.1 507.3 334.8 510.5 336.4 518.1C338 525.6 338.8 528.8 337.8 536.3C336.8 543.9 335.5 545.5 332.2 550.4C328.9 555.3 325.7 555.8 323.7 557.4" fill="none" stroke="#000" stroke-width="1.15" stroke-dasharray="5 1.3"/>
<path d="M290 504C290.6 506.8 292.5 510.5 292.8 518.1C293.1 525.6 291.7 537.2 291.4 542" fill="none" stroke="#000" stroke-width="1.15" stroke-dasharray="5 1.3"/>
<path d="M304.1 504L311.1 522.3" fill="none" stroke="#000" stroke-width="1.15" stroke-dasharray="5 1.3"/>
<path d="M309.7 556C310 556.9 312.8 558 311.1 560.2C309.4 562.5 304.3 566.4 301.2 567.3C298.2 568.1 296.7 565 295.6 564.4" fill="none" stroke="#000" stroke-width="1.15" stroke-dasharray="5 1.3"/>
<path d="M301.2 582.7L323.7 594" fill="none" stroke="#000" stroke-width="1.15" stroke-dasharray="5 1.3"/>
<path d="M298.4 588.3L318.1 598.2" fill="none" stroke="#000" stroke-width="1.15" stroke-dasharray="5 1.3"/>
<path d="M316.7 560.2L330.8 586.9" fill="none" stroke="#000" stroke-width="1.15" stroke-dasharray="5 1.3"/>
<path d="M322.3 567.3L336.4 586.9" fill="none" stroke="#000" stroke-width="1.15" stroke-dasharray="5 1.3"/>
<path d="M326.6 558.8L343.4 582.7" fill="none" stroke="#000" stroke-width="1.15" stroke-dasharray="5 1.3"/>
<path d="M325.1 565.9C325.8 565.9 327 563.5 329.4 565.9C331.7 568.2 337.6 577.6 339.2 579.9" fill="none" stroke="#000" stroke-width="1.15" stroke-dasharray="5 1.3"/>
<ellipse cx="377.2" cy="510.3" rx="3.1" ry="4.2" fill="none" stroke="#000" stroke-width="1.0" transform="rotate(-25 377.2 510.3)"/>
<ellipse cx="377.9" cy="561.6" rx="3.1" ry="4.2" fill="none" stroke="#000" stroke-width="1.0" transform="rotate(-25 377.9 561.6)"/>
<ellipse cx="369.4" cy="577.1" rx="3.1" ry="4.2" fill="none" stroke="#000" stroke-width="1.0" transform="rotate(-25 369.4 577.1)"/>
<ellipse cx="365.2" cy="598.2" rx="5.6" ry="7" fill="none" stroke="#000" stroke-width="1.0" transform="rotate(-25 365.2 598.2)"/>
<ellipse cx="365.5" cy="598.5" rx="3.4" ry="4.5" fill="none" stroke="#000" stroke-width="0.9" transform="rotate(-25 365.5 598.5)"/>
<path d="M347.6 594L356.1 605.9" fill="none" stroke="#000" stroke-width="1.15" stroke-dasharray="5 1.3"/>
<path d="M351.9 594L360.3 605.9" fill="none" stroke="#000" stroke-width="1.15" stroke-dasharray="5 1.3"/>
<path d="M377.2 584.1C375.8 585 370.7 586.4 370.1 588.3C369.6 590.3 373.5 592.8 374.3 594" fill="none" stroke="#000" stroke-width="1.15" stroke-dasharray="5 1.3"/>
<path d="M301.1 583.4L322.2 593.9" fill="none" stroke="#000" stroke-width="1.15" stroke-dasharray="5 1.3"/>
<path d="M326.4 605.1C327.5 605.9 328.4 608 330.6 608C332.9 608 333.7 605.9 334.8 605.1" fill="none" stroke="#000" stroke-width="1.15" stroke-dasharray="5 1.3"/>
<path d="M336.2 602.3L358.7 612.2" fill="none" stroke="#000" stroke-width="1.15" stroke-dasharray="5 1.3"/>
<path d="M334.8 606.6L358.7 618.5" fill="none" stroke="#000" stroke-width="1.15" stroke-dasharray="5 1.3"/>
<ellipse cx="365.1" cy="598.1" rx="5.9" ry="7.7" fill="none" stroke="#000" stroke-width="1.0" transform="rotate(-25 365.1 598.1)"/>
<ellipse cx="365.3" cy="598.4" rx="3.5" ry="5.1" fill="none" stroke="#000" stroke-width="0.9" transform="rotate(-25 365.3 598.4)"/>
<ellipse cx="365.1" cy="621.3" rx="5.9" ry="7.7" fill="none" stroke="#000" stroke-width="1.0" transform="rotate(-25 365.1 621.3)"/>
<ellipse cx="365.3" cy="621.6" rx="3.5" ry="5.1" fill="none" stroke="#000" stroke-width="0.9" transform="rotate(-25 365.3 621.6)"/>
<path d="M371.4 584.1C373.4 583.3 384.4 576.9 386.8 578.4C389.3 579.9 389.8 592.5 389.7 595.3C389.5 598.1 387.9 598.2 385.4 599.5C383 600.8 373.3 604.4 371.4 605.1" fill="none" stroke="#000" stroke-width="1.15" stroke-dasharray="5 1.3"/>
<path d="M385.4 599.5C386.1 601.6 389.4 608.7 389.7 612.2C389.9 615.7 390.1 617.8 386.8 620.6C383.6 623.4 372.8 627.6 370 629" fill="none" stroke="#000" stroke-width="1.15" stroke-dasharray="5 1.3"/>
<path d="M375.6 582.7L396.7 570" fill="none" stroke="#000" stroke-width="1.15" stroke-dasharray="5 1.3"/>
<path d="M346.1 595.3L360.1 610.8" fill="none" stroke="#000" stroke-width="1.15" stroke-dasharray="5 1.3"/>
<path d="M350.3 593.9L362.9 608" fill="none" stroke="#000" stroke-width="1.15" stroke-dasharray="5 1.3"/>
<path d="M310.9 570C311.8 571.1 312.1 572.8 315.1 575.6C318.2 578.4 323.6 581.5 326.4 584.1C329.2 586.6 328.6 587.4 329.2 588.3" fill="none" stroke="#000" stroke-width="1.15" stroke-dasharray="5 1.3"/>
<path d="M150 562L347.5 449.5" stroke="#000" stroke-width="1.2" fill="none"/>
<path d="M236.3 594.8L377 513" stroke="#000" stroke-width="1.2" fill="none"/>
<path d="M255 633.6L377.3 563.4" stroke="#000" stroke-width="1.2" fill="none"/>
<path d="M311.3 612.2L367.3 580.2" stroke="#000" stroke-width="1.2" fill="none"/>
<path d="M106.5 451.9C109.7 454.6 120.1 463.7 125.9 468C131.6 472.3 135.6 474 141 477.7C146.3 481.5 152.5 486.5 158.2 490.7C163.9 494.8 169.7 498.7 175.4 502.5C181.2 506.3 188.4 510.1 192.7 513.3C197 516.5 199.9 520.5 201.3 521.9" fill="none" stroke="#000" stroke-width="1.15" stroke-dasharray="5 1.3"/>
<path d="M229.3 515.4C230.5 519.5 229 523.1 233.6 530.5C238.2 538 239.7 538.9 246.6 543.5C253.5 548.1 256.1 546.6 259.5 547.8" fill="none" stroke="#000" stroke-width="1.15" stroke-dasharray="5 1.3"/>
<path d="M238 511.1C241.4 509.4 245.1 505.2 250.9 504.7C256.6 504.1 256.6 503.2 259.5 509C262.4 514.7 264 519.3 261.7 526.2C259.4 533.1 256.1 533.7 250.9 534.8C245.7 536 244.6 531.7 242.3 530.5" fill="none" stroke="#000" stroke-width="1.15" stroke-dasharray="5 1.3"/>
<path d="M268.1 507.9L273.5 510.1L273.5 524.1L268.1 525.1Z" fill="none" stroke="#000" stroke-width="1.15" stroke-dasharray="5 1.3"/>
<path d="M250.9 513.3C252 515.6 255.2 517.9 255.2 521.9C255.2 525.9 252 526.7 250.9 528.4" fill="none" stroke="#000" stroke-width="1.15" stroke-dasharray="5 1.3"/>
<path d="M220.7 517.6C222.4 515.9 222.6 514.6 227.2 511.1C231.8 507.7 235.1 506.4 238 504.7" fill="none" stroke="#000" stroke-width="1.15" stroke-dasharray="5 1.3"/>
<!-- 45_righthousing.py -->
<path d="M540.5 136C543.4 134.2 566.3 119.6 570 117.7C573.6 115.8 575.9 116.7 577 117C578.1 117.3 580.7 119.8 581.2 120.5C581.7 121.2 580 123 581.9 124.1C583.9 125.1 598.2 130.5 600.9 131.1C603.7 131.6 607.8 129.5 609.3 129.7C610.9 129.8 615.7 132.2 616.4 132.5" fill="none" stroke="#000" stroke-width="1.15" stroke-dasharray="5 1.3"/>
<path d="M616.4 132.5L586.9 148.7" fill="none" stroke="#000" stroke-width="1.15" stroke-dasharray="5 1.3"/>
<path d="M540.5 136L543.3 158.5" fill="none" stroke="#000" stroke-width="1.15" stroke-dasharray="5 1.3"/>
<path d="M540.5 136C541.9 135.9 545.4 134.6 548.9 135.3C552.4 136 558 138.8 561.6 140.2C565.1 141.6 566.7 142.9 570 143.7C573.3 144.6 578.4 144.3 581.2 145.1C584 146 585.9 148.1 586.9 148.7" fill="none" stroke="#000" stroke-width="1.15" stroke-dasharray="5 1.3"/>
<path d="M616.4 132.5L619.2 157.8" fill="none" stroke="#000" stroke-width="1.15" stroke-dasharray="5 1.3"/>
<path d="M586.9 148.7L591.1 170.4L598.1 171.9L619.2 159.9" fill="none" stroke="#000" stroke-width="1.15" stroke-dasharray="5 1.3"/>
<path d="M619.2 157.8C620.7 159.7 622.6 161.5 624.8 164.8C627.1 168.2 628 167.5 627.6 170.4C627.2 173.4 624.5 174.6 623.4 176.1" fill="none" stroke="#000" stroke-width="1.15" stroke-dasharray="5 1.3"/>
<path d="M547.5 136.7L549.6 156.4" fill="none" stroke="#000" stroke-width="1.15" stroke-dasharray="5 1.3"/>
<path d="M551 137.4L553.1 156.4" fill="none" stroke="#000" stroke-width="1.15" stroke-dasharray="5 1.3"/>
<path d="M555.2 138.1L555.9 157.8L550.3 158.5" fill="none" stroke="#000" stroke-width="1.15" stroke-dasharray="5 1.3"/>
<path d="M560.1 140.2L562.3 155" fill="none" stroke="#000" stroke-width="1.15" stroke-dasharray="5 1.3"/>
<path d="M564.4 141.6L565.8 153.6" fill="none" stroke="#000" stroke-width="1.15" stroke-dasharray="5 1.3"/>
<path d="M572.8 145.1L574.2 160.6" fill="none" stroke="#000" stroke-width="1.15" stroke-dasharray="5 1.3"/>
<path d="M577 146.6L577.7 163.4" fill="none" stroke="#000" stroke-width="1.15" stroke-dasharray="5 1.3"/>
<path d="M581.2 147.3L582.6 166.2" fill="none" stroke="#000" stroke-width="1.15" stroke-dasharray="5 1.3"/>
<path d="M584 149.4L584 166.2" fill="none" stroke="#000" stroke-width="1.15" stroke-dasharray="5 1.3"/>
<path d="M567.2 152.2L572.8 156.4L582.6 166.2" fill="none" stroke="#000" stroke-width="1.15" stroke-dasharray="5 1.3"/>
<path d="M543.3 158.5C545.6 158.6 553.6 159.3 557.3 159.2C561.1 159.1 564.4 158 565.8 157.8" fill="none" stroke="#000" stroke-width="1.15" stroke-dasharray="5 1.3"/>
<path d="M543.3 158.5C541.4 160.2 538.7 160.9 536.2 164.8C533.8 168.8 534.1 169.1 534.1 173.3C534.1 177.4 536.4 173.9 536.2 180.3C536.1 186.7 533.8 188.7 533.4 197.2C533.1 205.6 534.5 208 534.8 211.9" fill="none" stroke="#000" stroke-width="1.15" stroke-dasharray="5 1.3"/>
<ellipse cx="568.6" cy="162.7" rx="2.4" ry="3.1" fill="none" stroke="#000" stroke-width="1.0" transform="rotate(-25 568.6 162.7)"/>
<path d="M569.1 165.1A1.5 2.1 -25 0 1 568.9 161.2" fill="none" stroke="#000" stroke-width="0.8"/>
<ellipse cx="540.5" cy="174.7" rx="2.2" ry="3.1" fill="none" stroke="#000" stroke-width="1.0" transform="rotate(-25 540.5 174.7)"/>
<path d="M541 177A1.4 2.1 -25 0 1 540.8 173.2" fill="none" stroke="#000" stroke-width="0.8"/>
<ellipse cx="595.3" cy="181.7" rx="2.4" ry="3.3" fill="none" stroke="#000" stroke-width="1.0" transform="rotate(-25 595.3 181.7)"/>
<path d="M595.8 184.2A1.5 2.2 -25 0 1 595.6 180.1" fill="none" stroke="#000" stroke-width="0.8"/>
<ellipse cx="609.3" cy="205.6" rx="2.4" ry="3.1" fill="none" stroke="#000" stroke-width="1.0" transform="rotate(-25 609.3 205.6)"/>
<path d="M609.8 208A1.5 2.1 -25 0 1 609.7 204.1" fill="none" stroke="#000" stroke-width="0.8"/>
<ellipse cx="572.1" cy="178.9" rx="2" ry="2.4" fill="none" stroke="#000" stroke-width="1.0" transform="rotate(-25 572.1 178.9)"/>
<path d="M572.5 180.8A1.3 1.6 -25 0 1 572.5 177.8" fill="none" stroke="#000" stroke-width="0.8"/>
<ellipse cx="550.3" cy="168.3" rx="1" ry="2.5" fill="none" stroke="#000" stroke-width="0.9" transform="rotate(-15 550.3 168.3)"/>
<path d="M586.9 149.4C587.5 154 588.4 163.1 589.7 169C591 174.9 589.9 171.4 592.5 174.7C595.1 177.9 598.6 179.2 600.9 183.1C603.2 187 600.4 187.6 602.3 191.5C604.3 195.5 606.4 196 609.3 200C612.3 203.9 613.7 205.6 615 208.4C616.3 211.2 615 211.1 615 211.9" fill="none" stroke="#000" stroke-width="1.15" stroke-dasharray="5 1.3"/>
<path d="M553.1 174.7C550.9 177.7 548.1 176 544.7 185.9C541.3 195.8 541.6 205 540.5 211.9" fill="none" stroke="#000" stroke-width="1.15" stroke-dasharray="5 1.3"/>
<path d="M557.3 176.1C555.1 179.4 551.9 179.2 548.9 188.7C545.9 198.3 546.8 205.7 546.1 211.9" fill="none" stroke="#000" stroke-width="1.15" stroke-dasharray="5 1.3"/>
<path d="M555.2 183.1C554.3 186.9 552.8 189.5 551.7 197.2C550.6 204.8 551.2 208 551 211.9" fill="none" stroke="#000" stroke-width="1.15" stroke-dasharray="5 1.3"/>
<path d="M571.4 184.5C571 187.9 569.6 189.9 570 197.2C570.4 204.5 572 208 572.8 211.9" fill="none" stroke="#000" stroke-width="1.15" stroke-dasharray="5 1.3"/>
<path d="M581.2 180.3C582 184 581.8 185.9 584 194.3C586.3 202.8 588.2 207.2 589.7 211.9" fill="none" stroke="#000" stroke-width="1.15" stroke-dasharray="5 1.3"/>
<path d="M565.8 176.1C570.6 177.9 576.2 178.2 584 183.1C591.9 188 590 186.7 595.3 194.3C600.5 202 601.5 207.2 603.7 211.9" fill="none" stroke="#000" stroke-width="1.15" stroke-dasharray="5 1.3"/>
<path d="M550.3 171.9L553.1 176.1L558.7 185.9L563 183.1L557.3 173.3" fill="none" stroke="#000" stroke-width="1.15" stroke-dasharray="5 1.3"/>
<path d="M620.6 148.7C624 148.4 623.8 145.6 631.8 148C639.9 150.3 638.4 148.8 647.3 156.4C656.2 164 655 161.9 661.4 173.3C667.7 184.6 665.9 182.8 668.4 194.3C670.9 205.9 669.4 206.6 669.8 211.9" fill="none" stroke="#000" stroke-width="1.15" stroke-dasharray="5 1.3"/>
<path d="M606.5 183.1L622 176.1L626.2 185.9L615 192.9L607.9 188.7L606.5 183.1" fill="none" stroke="#000" stroke-width="1.15" stroke-dasharray="5 1.3"/>
<path d="M605.1 184.5C605.5 186.1 604.6 188.9 606.5 191.5C608.5 194.2 611.9 194.8 613.6 195.8" fill="none" stroke="#000" stroke-width="1.15" stroke-dasharray="5 1.3"/>
<path d="M623.4 176.1C624.7 177.7 626.1 180.8 629 183.1C632 185.4 633.4 183.6 636.1 185.9C638.7 188.2 639.3 191.3 640.3 192.9" fill="none" stroke="#000" stroke-width="1.15" stroke-dasharray="5 1.3"/>
<path d="M616.4 205.6L640.3 194.3" fill="none" stroke="#000" stroke-width="1.15" stroke-dasharray="5 1.3"/>
<path d="M640.3 192.9C640.6 194.6 639.7 195.7 641.7 200C643.7 204.2 646.1 208.4 648.7 211.2C651.3 214 651.9 211.8 652.9 211.9" fill="none" stroke="#000" stroke-width="1.15" stroke-dasharray="5 1.3"/>
<path d="M623.4 177.5L624.8 187.3" fill="none" stroke="#000" stroke-width="1.15" stroke-dasharray="5 1.3"/>
<path d="M658 153L698.6 130" stroke="#000" stroke-width="1.2" fill="none"/>
<path d="M533.4 212C533.8 214 532.5 216.2 534.8 220.4C537.1 224.7 539.7 224.7 543.3 230.3C546.9 235.9 548.5 239.4 550.3 244.3C552.1 249.3 553.1 248.1 551 251.4C548.9 254.6 543.6 254.8 541.2 258.4C538.7 262 542.9 263.5 540.5 266.8C538 270.1 532.9 268.8 530.6 272.4C528.3 276.1 528.7 278.7 530.6 282.3C532.6 285.9 535.1 283.3 539.1 287.9C543 292.5 544.5 295.9 547.5 302C550.4 308 550.7 311.1 551.7 313.9" fill="none" stroke="#000" stroke-width="1.15" stroke-dasharray="5 1.3"/>
<path d="M543.3 212C544 216.1 543.1 218.5 546.1 227.5C549.1 236.5 552.3 240.9 554.5 245.7" fill="none" stroke="#000" stroke-width="1.15" stroke-dasharray="5 1.3"/>
<path d="M551.7 212C553 217.1 551.3 219.2 555.9 228.9C560.6 238.6 559.6 236.7 567.2 244.3C574.8 251.9 572 250 581.2 254.2C590.5 258.4 590.1 257.5 598.1 258.4C606.1 259.2 605 257.4 607.9 257" fill="none" stroke="#000" stroke-width="1.15" stroke-dasharray="5 1.3"/>
<path d="M557.3 212C559 216.6 558.3 219 563 227.5C567.6 235.9 565.2 233.4 572.8 240.1C580.4 246.9 579.8 245.7 588.3 250C596.7 254.2 594.6 253.3 600.9 254.2C607.2 255 606.8 253.2 609.3 252.8" fill="none" stroke="#000" stroke-width="1.15" stroke-dasharray="5 1.3"/>
<path d="M574.2 212C576.3 215.8 574.9 216.6 581.2 224.7C587.6 232.7 586.9 232.4 595.3 238.7C603.7 245 605.1 243.6 609.3 245.7" fill="none" stroke="#000" stroke-width="1.15" stroke-dasharray="5 1.3"/>
<path d="M588.3 212C591.2 215.4 590.9 216.9 598.1 223.2C605.3 229.6 607.9 230.1 612.2 233.1" fill="none" stroke="#000" stroke-width="1.15" stroke-dasharray="5 1.3"/>
<path d="M616.4 212C616.1 213.1 615.8 213.4 615 217.6C614.1 221.8 612.7 230 612.2 233.1" fill="none" stroke="#000" stroke-width="1.15" stroke-dasharray="5 1.3"/>
<path d="M607.9 257C609.8 253.6 610.8 248.5 615 244.3C619.1 240.2 621.2 242.3 623.4 241.5" fill="none" stroke="#000" stroke-width="1.15" stroke-dasharray="5 1.3"/>
<ellipse cx="539.1" cy="219.7" rx="2.4" ry="3.3" fill="none" stroke="#000" stroke-width="1.0" transform="rotate(-25 539.1 219.7)"/>
<path d="M539.6 222.2A1.5 2.2 -25 0 1 539.4 218.1" fill="none" stroke="#000" stroke-width="0.8"/>
<ellipse cx="556.6" cy="251.4" rx="2.2" ry="2.8" fill="none" stroke="#000" stroke-width="1.0" transform="rotate(-25 556.6 251.4)"/>
<path d="M557.1 253.6A1.4 1.9 -25 0 1 557 250" fill="none" stroke="#000" stroke-width="0.8"/>
<ellipse cx="546.1" cy="265.4" rx="2.2" ry="3.1" fill="none" stroke="#000" stroke-width="1.0" transform="rotate(-25 546.1 265.4)"/>
<path d="M546.6 267.8A1.4 2.1 -25 0 1 546.4 263.9" fill="none" stroke="#000" stroke-width="0.8"/>
<ellipse cx="534.8" cy="279.5" rx="2.2" ry="3.1" fill="none" stroke="#000" stroke-width="1.0" transform="rotate(-25 534.8 279.5)"/>
<path d="M535.4 281.8A1.4 2.1 -25 0 1 535.1 278" fill="none" stroke="#000" stroke-width="0.8"/>
<ellipse cx="582.6" cy="272.4" rx="2.4" ry="3.3" fill="none" stroke="#000" stroke-width="1.0" transform="rotate(-25 582.6 272.4)"/>
<path d="M583.2 274.9A1.5 2.2 -25 0 1 583 270.8" fill="none" stroke="#000" stroke-width="0.8"/>
<ellipse cx="628.3" cy="232.4" rx="2.4" ry="3.3" fill="none" stroke="#000" stroke-width="1.0" transform="rotate(-25 628.3 232.4)"/>
<path d="M628.9 234.9A1.5 2.2 -25 0 1 628.6 230.7" fill="none" stroke="#000" stroke-width="0.8"/>
<ellipse cx="648" cy="236.6" rx="2.2" ry="3.1" fill="none" stroke="#000" stroke-width="1.0" transform="rotate(-25 648 236.6)"/>
<path d="M648.5 238.9A1.4 2.1 -25 0 1 648.3 235.1" fill="none" stroke="#000" stroke-width="0.8"/>
<ellipse cx="618.5" cy="226.1" rx="1.3" ry="3.7" fill="none" stroke="#000" stroke-width="0.9" transform="rotate(-20 618.5 226.1)"/>
<path d="M551.7 259.8C554.3 259.4 556.3 257.3 561.6 258.4C566.8 259.5 567.3 260.6 571.4 264C575.5 267.4 576.3 268.4 577 271C577.8 273.7 575 273.1 574.2 273.9" fill="none" stroke="#000" stroke-width="1.15" stroke-dasharray="5 1.3"/>
<path d="M551.7 268.2C554.7 268.2 559.4 266.9 564.4 268.2C569.3 269.5 570.8 272.5 572.8 273.9" fill="none" stroke="#000" stroke-width="1.15" stroke-dasharray="5 1.3"/>
<path d="M541.2 273.9C543.6 273.6 549 272.2 553.1 272.4C557.2 272.7 559.9 274.7 561.6 275.3" fill="none" stroke="#000" stroke-width="1.15" stroke-dasharray="5 1.3"/>
<path d="M543.3 283.7L554.5 278.1" fill="none" stroke="#000" stroke-width="1.15" stroke-dasharray="5 1.3"/>
<path d="M554.5 273.9L564.4 294.9L567.2 300.6L554.5 306.2" fill="none" stroke="#000" stroke-width="1.15" stroke-dasharray="5 1.3"/>
<path d="M543.3 283.7C542.8 283.9 539.3 282.1 540.5 285.1C541.6 288.1 548.2 298 550.3 302C552.4 306 552.6 307.8 553.1 309" fill="none" stroke="#000" stroke-width="1.15" stroke-dasharray="5 1.3"/>
<path d="M563 275.3C566 278.8 577.2 290.5 581.2 296.3C585.2 302.2 585.7 307.5 586.9 310.4C588 313.3 588 313.3 588.3 313.9" fill="none" stroke="#000" stroke-width="1.15" stroke-dasharray="5 1.3"/>
<path d="M567.2 273.9L584 294.9" fill="none" stroke="#000" stroke-width="1.15" stroke-dasharray="5 1.3"/>
<path d="M586.9 269.6L601.6 268.9L601.6 292.1L603.7 296.3" fill="none" stroke="#000" stroke-width="1.15" stroke-dasharray="5 1.3"/>
<path d="M606.5 266.8L603.7 290.7" fill="none" stroke="#000" stroke-width="1.15" stroke-dasharray="5 1.3"/>
<path d="M564.4 313.9L585.4 303.4" fill="none" stroke="#000" stroke-width="1.15" stroke-dasharray="5 1.3"/>
<path d="M588.3 293.5C590.2 293.8 595.6 292.1 598.1 294.9C600.6 297.8 599.8 303.8 600.9 307.6C602 311.4 603.2 312.7 603.7 313.9" fill="none" stroke="#000" stroke-width="1.15" stroke-dasharray="5 1.3"/>
<path d="M589.7 299.2L591.1 313.9" fill="none" stroke="#000" stroke-width="1.15" stroke-dasharray="5 1.3"/>
<path d="M626.2 241.5C622.8 245.3 620.5 244.5 615 254.2C609.5 263.9 610.5 261.2 607.9 273.9C605.4 286.5 606.1 284.3 606.5 296.3C607 308.4 608.5 308.6 609.3 313.9" fill="none" stroke="#000" stroke-width="1.15" stroke-dasharray="5 1.3"/>
<path d="M631.8 242.2C628.5 246.7 625.7 246.7 620.6 257C615.5 267.3 616.7 264 615 276.7C613.3 289.3 614.1 288 615 299.2C615.8 310.3 616.9 309.5 617.8 313.9" fill="none" stroke="#000" stroke-width="1.15" stroke-dasharray="5 1.3"/>
<path d="M637.5 241.5C634.5 246.6 631.8 247.4 627.6 258.4C623.4 269.4 624.3 265 623.4 278.1C622.6 291.1 623.5 291.2 624.8 302C626.1 312.7 626.8 310.3 627.6 313.9" fill="none" stroke="#000" stroke-width="1.15" stroke-dasharray="5 1.3"/>
<path d="M644.5 241.5C642.8 246.6 641.4 247 638.9 258.4C636.3 269.8 636.1 266 636.1 279.5C636.1 293 637.2 293 638.9 303.4C640.6 313.7 640.8 310.8 641.7 313.9" fill="none" stroke="#000" stroke-width="1.15" stroke-dasharray="5 1.3"/>
<path d="M647.3 244.3C645.6 249 643.8 249.3 641.7 259.8C639.6 270.3 639.4 266 640.3 279.5C641.1 293 642.4 294.5 644.5 304.8C646.6 315.1 646.5 311.2 647.3 313.9" fill="none" stroke="#000" stroke-width="1.15" stroke-dasharray="5 1.3"/>
<path d="M660 251.4C658.3 256.4 656.4 258.1 654.3 268.2C652.2 278.4 652.1 273.3 652.9 285.1C653.8 296.9 655 298.9 657.1 307.6C659.3 316.2 659.1 312 660 313.9" fill="none" stroke="#000" stroke-width="1.15" stroke-dasharray="5 1.3"/>
<path d="M665.6 254.2C663.9 259.2 661.9 260.9 660 271C658.1 281.2 658 275.1 659.3 287.9C660.5 300.8 662.7 306.1 664.2 313.9" fill="none" stroke="#000" stroke-width="1.15" stroke-dasharray="5 1.3"/>
<path d="M617.8 219C618.5 219.8 621.5 223.5 623.4 224.7C625.3 225.8 628.5 228.4 631.8 227.5C635.2 226.5 645.5 219.7 648.7 217.6C651.9 215.6 654.8 212.7 655.7 212" fill="none" stroke="#000" stroke-width="1.15" stroke-dasharray="5 1.3"/>
<path d="M638.9 230.3L675 214.8" fill="none" stroke="#000" stroke-width="1.15" stroke-dasharray="5 1.3"/>
<path d="M658.6 233.1L675 227.5" fill="none" stroke="#000" stroke-width="1.15" stroke-dasharray="5 1.3"/>
<path d="M651.5 238.7L675 244.3" fill="none" stroke="#000" stroke-width="1.15" stroke-dasharray="5 1.3"/>
<path d="M660 216.2L662.8 220.4L675 214.8" fill="none" stroke="#000" stroke-width="1.15" stroke-dasharray="5 1.3"/>
<path d="M633.2 233.1C634.9 233.4 638.9 235.1 641.7 234.5C644.5 233.9 646.2 231.1 647.3 230.3" fill="none" stroke="#000" stroke-width="1.15" stroke-dasharray="5 1.3"/>
<path d="M622 241.5C625.4 241 628.3 239.4 634.7 239.4C641 239.4 641.4 239.8 645.9 241.5C650.4 243.2 650 244.6 651.5 245.7" fill="none" stroke="#000" stroke-width="1.15" stroke-dasharray="5 1.3"/>
<path d="M660 172.2C661.7 176.4 663.1 177.8 665.6 186.2C668.2 194.7 668.4 191 668.4 200.3C668.4 209.6 666.5 212.1 665.6 217.2" fill="none" stroke="#000" stroke-width="1.15" stroke-dasharray="5 1.3"/>
<ellipse cx="697.3" cy="194.7" rx="5.1" ry="7.7" fill="none" stroke="#000" stroke-width="1.0" transform="rotate(-25 697.3 194.7)"/>
<ellipse cx="697.5" cy="194.9" rx="2.8" ry="4.5" fill="none" stroke="#000" stroke-width="0.9" transform="rotate(-25 697.5 194.9)"/>
<path d="M693 187.6C695.5 186.2 704.4 180.4 707.8 179.2C711.2 178 711.8 179.2 713.4 180.6C715.1 182 717.2 185.8 717.6 187.6C718.1 189.5 716.5 191.2 716.2 191.9" fill="none" stroke="#000" stroke-width="1.15" stroke-dasharray="5 1.3"/>
<path d="M705 196.1L717.6 190.4" fill="none" stroke="#000" stroke-width="1.15" stroke-dasharray="5 1.3"/>
<path d="M702.2 200.3C701.4 201.4 701.2 203.9 699.4 204.5C697.5 205.1 696.3 203 695.1 202.4" fill="none" stroke="#000" stroke-width="1.15" stroke-dasharray="5 1.3"/>
<path d="M717.6 187.6C721.2 189.5 734.3 197.2 738.7 198.9C743.2 200.5 742.7 196.8 744.3 197.5C746 198.2 747.6 201.2 748.6 203.1C749.5 205 750.7 206.9 750 208.7C749.3 210.6 745.3 213.4 744.3 214.3" fill="none" stroke="#000" stroke-width="1.15" stroke-dasharray="5 1.3"/>
<ellipse cx="728.2" cy="214.3" rx="5.1" ry="7.7" fill="none" stroke="#000" stroke-width="1.0" transform="rotate(-25 728.2 214.3)"/>
<ellipse cx="728.5" cy="214.6" rx="2.8" ry="4.5" fill="none" stroke="#000" stroke-width="0.9" transform="rotate(-25 728.5 214.6)"/>
<path d="M721.9 208.7L738.7 200.3" fill="none" stroke="#000" stroke-width="1.15" stroke-dasharray="5 1.3"/>
<path d="M705 196.1L721.9 208.7" fill="none" stroke="#000" stroke-width="1.15" stroke-dasharray="5 1.3"/>
<path d="M707.8 197.5C708.6 198.6 712.3 199.7 712 203.1C711.7 206.5 708.4 210.7 706.4 214.3C704.4 218 702.7 217.9 702.2 221.4C701.6 224.9 703.3 229.8 703.6 231.9" fill="none" stroke="#000" stroke-width="1.15" stroke-dasharray="5 1.3"/>
<path d="M710.6 200.3L721.9 211.5" fill="none" stroke="#000" stroke-width="1.15" stroke-dasharray="5 1.3"/>
<path d="M660 217.2L695.1 202.4" fill="none" stroke="#000" stroke-width="1.15" stroke-dasharray="5 1.3"/>
<path d="M668.4 228.4L702.2 221.4" fill="none" stroke="#000" stroke-width="1.15" stroke-dasharray="5 1.3"/>
<path d="M660 231.9C664.1 230.6 668 227 675.5 227C683 227 684.7 230.6 688.1 231.9" fill="none" stroke="#000" stroke-width="1.15" stroke-dasharray="5 1.3"/>
<path d="M744.3 214.3C745.5 215.8 747.7 217.9 750 221.4C752.2 224.9 754.5 229.8 755.6 231.9" fill="none" stroke="#000" stroke-width="1.15" stroke-dasharray="5 1.3"/>
<path d="M733.1 221.4L738.7 231.9" fill="none" stroke="#000" stroke-width="1.15" stroke-dasharray="5 1.3"/>
<path d="M721.9 214.3C721.6 216 719.9 219.3 720.4 222.8C721 226.3 723.8 230.1 724.7 231.9" fill="none" stroke="#000" stroke-width="1.15" stroke-dasharray="5 1.3"/>
<path d="M676.2 184.1L695.2 173.6" stroke="#000" stroke-width="1.2" fill="none"/>
<path d="M714.8 177.1L735.9 165.2" stroke="#000" stroke-width="1.2" fill="none"/>
<path d="M750 212C751.3 216.3 752 221.7 755.6 230.3C759.2 238.8 761.5 243 765.4 248.6C769.4 254.1 769.5 250.9 772.5 254.2C775.4 257.5 777.1 259 778.1 262.6C779.1 266.2 776.4 262.4 776.7 269.6C777 276.9 778.5 283.2 779.5 293.5C780.5 303.9 780.6 309.2 780.9 313.9" fill="none" stroke="#000" stroke-width="1.15" stroke-dasharray="5 1.3"/>
<path d="M730.3 223.2C731 225.1 732.9 232.3 734.5 234.5C736.1 236.7 736.6 237.5 740.1 236.6C743.6 235.7 753 230.2 755.6 228.9" fill="none" stroke="#000" stroke-width="1.15" stroke-dasharray="5 1.3"/>
<path d="M724.7 221.8L750 212" fill="none" stroke="#000" stroke-width="1.15" stroke-dasharray="5 1.3"/>
<path d="M706.4 234.5L726.1 226.1" fill="none" stroke="#000" stroke-width="1.15" stroke-dasharray="5 1.3"/>
<path d="M706.4 240.1L727.5 230.3" fill="none" stroke="#000" stroke-width="1.15" stroke-dasharray="5 1.3"/>
<path d="M686.7 230.3L702.2 224.7" fill="none" stroke="#000" stroke-width="1.15" stroke-dasharray="5 1.3"/>
<path d="M685.3 228.9L689.5 234.5" fill="none" stroke="#000" stroke-width="1.15" stroke-dasharray="5 1.3"/>
<path d="M660 233.1C662.6 231.4 665.3 227.4 671.2 226.1C677.2 224.7 679.7 226.5 685.3 227.5C690.9 228.4 690.9 229 695.1 230.3C699.4 231.6 700.6 230.8 703.6 233.1C706.5 235.4 707.1 237.2 707.8 240.1C708.5 243.1 706.7 244.4 706.4 245.7" fill="none" stroke="#000" stroke-width="1.15" stroke-dasharray="5 1.3"/>
<path d="M660 240.1L679.7 237.3L702.2 226.1" fill="none" stroke="#000" stroke-width="1.15" stroke-dasharray="5 1.3"/>
<path d="M693.7 252.8C696.7 251.1 701.8 248 706.4 245.7C711 243.4 710.5 241.6 713.4 242.9C716.4 244.2 715.8 247.4 719 251.4C722.3 255.3 724.2 257.2 727.5 259.8C730.8 262.4 729.5 262.9 733.1 262.6C736.7 262.3 740.6 259.4 742.9 258.4" fill="none" stroke="#000" stroke-width="1.15" stroke-dasharray="5 1.3"/>
<path d="M693.7 252.8L695.1 258.4" fill="none" stroke="#000" stroke-width="1.15" stroke-dasharray="5 1.3"/>
<path d="M707.8 247.1C709.8 249.8 711.6 252.2 716.2 258.4C720.8 264.6 722.9 265.7 727.5 273.9C732.1 282.1 733.3 284.2 735.9 293.5C738.5 302.9 738.1 309.2 738.7 313.9" fill="none" stroke="#000" stroke-width="1.15" stroke-dasharray="5 1.3"/>
<path d="M721.9 262.6L738.7 275.3L741.5 262.6" fill="none" stroke="#000" stroke-width="1.15" stroke-dasharray="5 1.3"/>
<path d="M741.5 258.4C743.8 256.1 744.7 252.6 750 250C755.2 247.3 755.2 247.4 761.2 248.6C767.2 249.7 769.5 252.7 772.5 254.2" fill="none" stroke="#000" stroke-width="1.15" stroke-dasharray="5 1.3"/>
<path d="M740.1 264C739.9 267.4 740.6 269.5 739.4 276.7C738.3 283.8 736.9 287 735.9 290.7" fill="none" stroke="#000" stroke-width="1.15" stroke-dasharray="5 1.3"/>
<path d="M769.7 255.6L757 262.6L762.6 276.7L775.3 271" fill="none" stroke="#000" stroke-width="1.15" stroke-dasharray="5 1.3"/>
<path d="M758.4 266.8L764 275.3" fill="none" stroke="#000" stroke-width="1.15" stroke-dasharray="5 1.3"/>
<path d="M742.9 285.1L755.6 279.5L759.8 293.5L747.2 299.9Z" fill="none" stroke="#000" stroke-width="1.15" stroke-dasharray="5 1.3"/>
<path d="M773.9 272.4C773.6 274.7 774.4 280 772.5 283.7C770.5 287.4 766.3 286.8 764 290.7C761.8 294.7 762.1 298.7 761.2 303.4C760.4 308 760.1 311.8 759.8 313.9" fill="none" stroke="#000" stroke-width="1.15" stroke-dasharray="5 1.3"/>
<path d="M765.4 289.3L771.1 296.3" fill="none" stroke="#000" stroke-width="1.15" stroke-dasharray="5 1.3"/>
<path d="M762.6 309L771.1 304.8L772.5 310.4" fill="none" stroke="#000" stroke-width="1.15" stroke-dasharray="5 1.3"/>
<ellipse cx="681.1" cy="247.8" rx="3.9" ry="4.9" fill="none" stroke="#000" stroke-width="1.0" transform="rotate(-25 681.1 247.8)"/>
<path d="M668.4 248.6C668.2 251.4 671.8 257.3 674.1 259.8C676.3 262.3 678.3 262 679.7 261.2C681.1 260.4 681.9 258.7 681.1 255.6C680.2 252.5 678 247.1 675.5 245.7C672.9 244.3 668.7 245.7 668.4 248.6Z" fill="none" stroke="#000" stroke-width="1.15" stroke-dasharray="5 1.3"/>
<path d="M660 258.4L676.9 271L681.1 268.2" fill="none" stroke="#000" stroke-width="1.15" stroke-dasharray="5 1.3"/>
<ellipse cx="693" cy="269.6" rx="2.6" ry="3.3" fill="none" stroke="#000" stroke-width="1.0" transform="rotate(-25 693 269.6)"/>
<path d="M693.5 272.2A1.7 2.2 -25 0 1 693.4 268" fill="none" stroke="#000" stroke-width="0.8"/>
<ellipse cx="705.7" cy="287.9" rx="2.6" ry="3.3" fill="none" stroke="#000" stroke-width="1.0" transform="rotate(-25 705.7 287.9)"/>
<path d="M706.2 290.4A1.7 2.2 -25 0 1 706.1 286.2" fill="none" stroke="#000" stroke-width="0.8"/>
<path d="M675.5 273.9C675 277.2 672.8 277.5 674.1 285.1C675.3 292.7 674.2 290.5 679.7 299.2C685.2 307.8 688.5 309.5 692.3 313.9" fill="none" stroke="#000" stroke-width="1.15" stroke-dasharray="5 1.3"/>
<path d="M681.1 273.9C680.7 277.2 678.4 277.9 679.7 285.1C680.9 292.3 679.8 289.7 685.3 297.8C690.8 305.8 694.2 307.6 698 311.8" fill="none" stroke="#000" stroke-width="1.15" stroke-dasharray="5 1.3"/>
<path d="M685.3 278.1C685.3 281 683.2 281.2 685.3 287.9C687.4 294.7 686 292.8 692.3 300.6C698.7 308.4 702.2 309.9 706.4 313.9" fill="none" stroke="#000" stroke-width="1.15" stroke-dasharray="5 1.3"/>
<path d="M689.5 283.7C691.6 287.5 690.6 288.8 696.6 296.3C702.5 303.9 705.4 305.2 709.2 309" fill="none" stroke="#000" stroke-width="1.15" stroke-dasharray="5 1.3"/>
<path d="M660 282.3C661.7 288.2 661.8 292.5 665.6 302C669.4 311.5 670.5 310.3 672.7 313.9" fill="none" stroke="#000" stroke-width="1.15" stroke-dasharray="5 1.3"/>
<path d="M662.8 271C663.2 275.3 662.1 275.8 664.2 285.1C666.3 294.4 665.6 293.3 669.8 302C674.1 310.6 675.7 310.3 678.3 313.9" fill="none" stroke="#000" stroke-width="1.15" stroke-dasharray="5 1.3"/>
<path d="M696.6 258.4C699.2 260.6 701.9 262 706.4 266.8C710.9 271.7 711.2 271 713.4 276.7C715.7 282.3 715.2 282.7 714.8 287.9C714.5 293.2 712.8 294.1 712 296.3" fill="none" stroke="#000" stroke-width="1.15" stroke-dasharray="5 1.3"/>
<path d="M692.3 261.2C695 263.8 698.1 265.4 702.2 271C706.3 276.7 706.3 279.3 707.8 282.3" fill="none" stroke="#000" stroke-width="1.15" stroke-dasharray="5 1.3"/>
<path d="M707.8 296.3C709.8 297.7 713.3 297.9 716.2 302C719.2 306.1 719.5 311.1 720.4 313.9" fill="none" stroke="#000" stroke-width="1.15" stroke-dasharray="5 1.3"/>
<path d="M551.7 314C552.1 314.6 549.8 315 554.5 318.2C559.2 321.4 580.3 334.1 586.9 337.9C593.4 341.6 600.9 344.6 603.7 346.3C606.5 348 607.7 348.5 607.9 350.6C608.2 352.6 606.4 359.7 605.8 361.8C605.3 363.9 603.6 364.3 603.7 366C603.8 367.7 605 372.8 606.5 374.4C608 376.1 610.8 376.8 615 378.7C619.1 380.5 633.3 386.1 637.5 388.5C641.6 390.9 642.2 394.5 645.9 396.9C649.6 399.4 661.7 404.7 665.6 406.8C669.5 408.8 673.7 411.7 675 412.4" fill="none" stroke="#000" stroke-width="1.15" stroke-dasharray="5 1.3"/>
<path d="M563 314L584 326.7L586.9 319.6L589.7 314" fill="none" stroke="#000" stroke-width="1.15" stroke-dasharray="5 1.3"/>
<path d="M615 377.3L640.3 384.3" fill="none" stroke="#000" stroke-width="1.15" stroke-dasharray="5 1.3"/>
<path d="M607.9 350.6C608.9 351.5 611.2 351.8 612.2 354.8C613.1 357.7 612.8 360.3 612.2 363.2C611.5 366.2 610 366.4 609.3 367.4" fill="none" stroke="#000" stroke-width="1.15" stroke-dasharray="5 1.3"/>
<ellipse cx="590.4" cy="331.6" rx="2.2" ry="2.8" fill="none" stroke="#000" stroke-width="1.0" transform="rotate(-25 590.4 331.6)"/>
<path d="M590.9 333.8A1.4 1.9 -25 0 1 590.7 330.2" fill="none" stroke="#000" stroke-width="0.8"/>
<ellipse cx="609.3" cy="370.2" rx="2.4" ry="3.3" fill="none" stroke="#000" stroke-width="1.0" transform="rotate(-25 609.3 370.2)"/>
<path d="M609.9 372.7A1.5 2.2 -25 0 1 609.7 368.6" fill="none" stroke="#000" stroke-width="0.8"/>
<ellipse cx="643.8" cy="390.6" rx="2.6" ry="3.3" fill="none" stroke="#000" stroke-width="1.0" transform="rotate(-25 643.8 390.6)"/>
<path d="M644.3 393.1A1.7 2.2 -25 0 1 644.2 388.9" fill="none" stroke="#000" stroke-width="0.8"/>
<ellipse cx="657.8" cy="387.8" rx="2" ry="2.6" fill="none" stroke="#000" stroke-width="1.0" transform="rotate(-25 657.8 387.8)"/>
<path d="M658.3 389.9A1.3 1.8 -25 0 1 658.2 386.6" fill="none" stroke="#000" stroke-width="0.8"/>
<ellipse cx="641.7" cy="356.2" rx="2" ry="2.6" fill="none" stroke="#000" stroke-width="1.0" transform="rotate(-25 641.7 356.2)"/>
<path d="M642.2 358.3A1.3 1.8 -25 0 1 642 354.9" fill="none" stroke="#000" stroke-width="0.8"/>
<ellipse cx="612.2" cy="348.4" rx="1.7" ry="2.2" fill="none" stroke="#000" stroke-width="1.0" transform="rotate(-25 612.2 348.4)"/>
<path d="M612.6 350.3A1.1 1.5 -25 0 1 612.6 347.5" fill="none" stroke="#000" stroke-width="0.8"/>
<ellipse cx="664.2" cy="326.7" rx="2" ry="2.6" fill="none" stroke="#000" stroke-width="1.0" transform="rotate(-25 664.2 326.7)"/>
<path d="M664.7 328.7A1.3 1.8 -25 0 1 664.5 325.4" fill="none" stroke="#000" stroke-width="0.8"/>
<path d="M612.2 368.8L629 360.4L641.7 354.8" fill="none" stroke="#000" stroke-width="1.15" stroke-dasharray="5 1.3"/>
<path d="M615 371.6L629 363.2L627.6 375.9L615 371.6" fill="none" stroke="#000" stroke-width="1.15" stroke-dasharray="5 1.3"/>
<path d="M626.2 359L627.6 375.9" fill="none" stroke="#000" stroke-width="1.15" stroke-dasharray="5 1.3"/>
<path d="M631.8 339.3L645.9 344.9L645.9 361.8L660 354.8" fill="none" stroke="#000" stroke-width="1.15" stroke-dasharray="5 1.3"/>
<path d="M603.7 314C606.3 319.9 604.6 321 612.2 333.7C619.8 346.3 617.2 344.4 629 356.2C640.8 368 637.7 365 651.5 373C665.3 381.1 668 379.9 675 382.9" fill="none" stroke="#000" stroke-width="1.15" stroke-dasharray="5 1.3"/>
<path d="M609.3 314C611.9 319.5 610.2 320.5 617.8 332.3C625.4 344.1 622.8 342 634.7 353.4C646.5 364.7 645 363.1 657.1 370.2C669.3 377.4 669.6 375.2 675 377.3" fill="none" stroke="#000" stroke-width="1.15" stroke-dasharray="5 1.3"/>
<path d="M615 314C617.5 318.6 615.8 318.9 623.4 329.5C631 340 628.5 338.6 640.3 349.1C652.1 359.7 652.4 358.3 662.8 364.6C673.2 370.9 671.3 368.5 675 370.2" fill="none" stroke="#000" stroke-width="1.15" stroke-dasharray="5 1.3"/>
<path d="M623.4 314C625.9 318.2 624.3 318.8 631.8 328.1C639.4 337.3 635.8 335.2 648.7 344.9C661.7 354.6 667.1 355.8 675 360.4" fill="none" stroke="#000" stroke-width="1.15" stroke-dasharray="5 1.3"/>
<path d="M598.1 322.4C601.5 328.3 600.9 330.3 609.3 342.1C617.8 353.9 615.3 350.8 626.2 361.8C637.2 372.8 631.3 369.4 645.9 378.7C660.5 387.9 666.3 388.5 675 392.7" fill="none" stroke="#000" stroke-width="1.15" stroke-dasharray="5 1.3"/>
<path d="M629 361.8C634.1 367.7 634.9 372.2 645.9 381.5C656.9 390.8 659.7 389.4 665.6 392.7" fill="none" stroke="#000" stroke-width="1.15" stroke-dasharray="5 1.3"/>
<path d="M591.1 316.8C592.9 319.8 594 322.1 598.1 328.1C602.2 334.1 604.3 336.3 606.5 339.3" fill="none" stroke="#000" stroke-width="1.15" stroke-dasharray="5 1.3"/>
<path d="M593.9 315.4C595.8 318.8 596.8 322.1 600.9 328.1C605 334.1 607.1 335.3 609.3 337.9" fill="none" stroke="#000" stroke-width="1.15" stroke-dasharray="5 1.3"/>
<path d="M655.7 339.3C657.1 337.9 660.8 334.5 662.8 332.3C664.7 330 665 328.9 665.6 328.1" fill="none" stroke="#000" stroke-width="1.15" stroke-dasharray="5 1.3"/>
<path d="M657.1 319.6L675 333.7" fill="none" stroke="#000" stroke-width="1.15" stroke-dasharray="5 1.3"/>
<path d="M647.3 396.9C651 398.3 660 402.3 665.6 404C671.1 405.7 673.1 405.1 675 405.4" fill="none" stroke="#000" stroke-width="1.15" stroke-dasharray="5 1.3"/>
<path d="M565 368.1L658.6 314" stroke="#000" stroke-width="1.2" fill="none"/>
<path d="M779.5 314C778.9 316.8 776.7 322.4 776.7 328.1C776.7 333.7 779.5 336.5 779.5 342.1C779.5 347.7 777 350.6 776.7 356.2C776.4 361.8 777.9 362.9 778.1 370.2C778.2 377.5 778.5 386.5 777.4 392.7C776.3 398.9 776.3 397.5 772.5 401.2C768.7 404.8 762.3 408 758.4 411C754.5 414 753.9 414.9 752.8 415.9" fill="none" stroke="#000" stroke-width="1.15" stroke-dasharray="5 1.3"/>
<path d="M758.4 314C757.9 317 756.1 325.5 755.6 332.3C755.1 339.1 754.7 350.8 755.6 354.8C756.5 358.8 760.3 355.9 761.2 356.2" fill="none" stroke="#000" stroke-width="1.15" stroke-dasharray="5 1.3"/>
<path d="M758.4 326.7L769.7 321L768.2 339.3L758.4 349.1" fill="none" stroke="#000" stroke-width="1.15" stroke-dasharray="5 1.3"/>
<path d="M764 326.7L762.6 339.3L757 346.3" fill="none" stroke="#000" stroke-width="1.15" stroke-dasharray="5 1.3"/>
<path d="M755.6 350.6C759 350.8 768.2 352.8 772.5 352C776.7 351.1 775.8 347.5 776.7 346.3" fill="none" stroke="#000" stroke-width="1.15" stroke-dasharray="5 1.3"/>
<path d="M716.2 323.8L717.6 370.2L718.3 415.9" fill="none" stroke="#000" stroke-width="1.15" stroke-dasharray="5 1.3"/>
<path d="M720.4 339.3L721.9 370.2L721.9 415.9" fill="none" stroke="#000" stroke-width="1.15" stroke-dasharray="5 1.3"/>
<path d="M738.7 318.2L738.7 353.4" fill="none" stroke="#000" stroke-width="1.15" stroke-dasharray="5 1.3"/>
<path d="M727.5 337.9L726.1 364.6" fill="none" stroke="#000" stroke-width="1.15" stroke-dasharray="5 1.3"/>
<path d="M761.2 357.6L761.2 384.3" fill="none" stroke="#000" stroke-width="1.15" stroke-dasharray="5 1.3"/>
<path d="M764 357.6L764 381.5" fill="none" stroke="#000" stroke-width="1.15" stroke-dasharray="5 1.3"/>
<path d="M769.7 377.3L769.7 398.3" fill="none" stroke="#000" stroke-width="1.15" stroke-dasharray="5 1.3"/>
<ellipse cx="716.9" cy="326.7" rx="2.6" ry="3.5" fill="none" stroke="#000" stroke-width="1.0" transform="rotate(-25 716.9 326.7)"/>
<path d="M717.5 329.3A1.7 2.4 -25 0 1 717.3 324.9" fill="none" stroke="#000" stroke-width="0.8"/>
<ellipse cx="719" cy="373" rx="2.6" ry="3.7" fill="none" stroke="#000" stroke-width="1.0" transform="rotate(-25 719 373)"/>
<path d="M719.6 375.8A1.7 2.5 -25 0 1 719.3 371.1" fill="none" stroke="#000" stroke-width="0.8"/>
<ellipse cx="709.2" cy="387.1" rx="2" ry="2.6" fill="none" stroke="#000" stroke-width="1.0" transform="rotate(-25 709.2 387.1)"/>
<path d="M709.7 389.2A1.3 1.8 -25 0 1 709.6 385.9" fill="none" stroke="#000" stroke-width="0.8"/>
<ellipse cx="707.8" cy="406.8" rx="2" ry="2.6" fill="none" stroke="#000" stroke-width="1.0" transform="rotate(-25 707.8 406.8)"/>
<path d="M708.3 408.9A1.3 1.8 -25 0 1 708.1 405.5" fill="none" stroke="#000" stroke-width="0.8"/>
<ellipse cx="672.7" cy="406.8" rx="2.6" ry="3.7" fill="none" stroke="#000" stroke-width="1.0" transform="rotate(-25 672.7 406.8)"/>
<path d="M673.2 409.5A1.7 2.5 -25 0 1 672.9 404.9" fill="none" stroke="#000" stroke-width="0.8"/>
<path d="M719 332.3L738.7 319.6L744.3 322.4L742.9 314" fill="none" stroke="#000" stroke-width="1.15" stroke-dasharray="5 1.3"/>
<path d="M721.9 339.3L738.7 328.1" fill="none" stroke="#000" stroke-width="1.15" stroke-dasharray="5 1.3"/>
<path d="M738.7 353.4C739.7 354.3 741.6 355.3 742.9 357.6C744.3 359.9 745 361.2 744.3 363.2C743.7 365.2 744.1 364.4 740.1 366C736.2 367.7 731.4 368.6 727.5 370.2C723.5 371.9 724.2 372.4 723.3 373" fill="none" stroke="#000" stroke-width="1.15" stroke-dasharray="5 1.3"/>
<path d="M738.7 354.8C738 355.9 735.9 356.7 735.9 359C735.9 361.2 738 362.1 738.7 363.2" fill="none" stroke="#000" stroke-width="1.15" stroke-dasharray="5 1.3"/>
<path d="M744.3 364.6L761.2 357.6" fill="none" stroke="#000" stroke-width="1.15" stroke-dasharray="5 1.3"/>
<path d="M758.4 363.2L747.2 370.2L748.6 377.3L758.4 382.9" fill="none" stroke="#000" stroke-width="1.15" stroke-dasharray="5 1.3"/>
<path d="M733.1 375.9L741.5 382.9L742.9 371.6" fill="none" stroke="#000" stroke-width="1.15" stroke-dasharray="5 1.3"/>
<path d="M727.5 387.1C731.2 385.9 743.9 381 750 380.1C756.1 379.1 761.7 381.2 764 381.5" fill="none" stroke="#000" stroke-width="1.15" stroke-dasharray="5 1.3"/>
<path d="M730.3 398.3L757 385.7" fill="none" stroke="#000" stroke-width="1.15" stroke-dasharray="5 1.3"/>
<path d="M752.8 398.3C754.5 396.7 754.2 394.4 758.4 392.7C762.6 391 763 391 766.8 392.7C770.6 394.4 770.6 394.6 771.1 398.3C771.5 402.1 769.1 403.3 768.2 405.4" fill="none" stroke="#000" stroke-width="1.15" stroke-dasharray="5 1.3"/>
<path d="M660 322.4C664.2 326.2 663.5 327.9 674.1 335.1C684.6 342.3 682.5 342.1 695.1 346.3C707.8 350.6 709.9 348.3 716.2 349.1" fill="none" stroke="#000" stroke-width="1.15" stroke-dasharray="5 1.3"/>
<path d="M674.1 314C677.4 318.2 676.9 320.9 685.3 328.1C693.7 335.2 692.9 334.1 702.2 337.9C711.5 341.7 712 339.9 716.2 340.7" fill="none" stroke="#000" stroke-width="1.15" stroke-dasharray="5 1.3"/>
<path d="M660 344.9C665.1 347.9 665.1 350.1 676.9 354.8C688.7 359.4 687.6 359.1 699.4 360.4C711.2 361.7 711.2 359.4 716.2 359" fill="none" stroke="#000" stroke-width="1.15" stroke-dasharray="5 1.3"/>
<path d="M660 356.2C665.1 358.7 665.9 360.4 676.9 364.6C687.8 368.8 685.2 368.8 696.6 370.2C707.9 371.7 709.3 369.7 714.8 369.5" fill="none" stroke="#000" stroke-width="1.15" stroke-dasharray="5 1.3"/>
<path d="M660 370.2C664.2 372.8 665.6 374.9 674.1 378.7C682.5 382.5 681.8 382.5 688.1 382.9C694.4 383.3 693 380.9 695.1 380.1" fill="none" stroke="#000" stroke-width="1.15" stroke-dasharray="5 1.3"/>
<path d="M660 384.3C665.1 386.8 666.3 391.5 676.9 392.7C687.4 394 686.3 392.3 695.1 388.5C704 384.7 703 382.6 706.4 380.1" fill="none" stroke="#000" stroke-width="1.15" stroke-dasharray="5 1.3"/>
<path d="M685.3 384.3C688.1 382.6 694.3 377.8 699.4 375.9C704.4 373.9 708.4 374.7 710.6 374.4" fill="none" stroke="#000" stroke-width="1.15" stroke-dasharray="5 1.3"/>
<path d="M699.4 375.9L700.8 384.3" fill="none" stroke="#000" stroke-width="1.15" stroke-dasharray="5 1.3"/>
<ellipse cx="688.1" cy="404" rx="5.3" ry="8.2" fill="none" stroke="#000" stroke-width="1.15" transform="rotate(-25 688.1 404)" stroke-dasharray="5 1.3"/>
<path d="M726.1 380.1C725.8 385.1 724.4 398.2 724.7 405.4C724.9 412.5 726.9 413.8 727.5 415.9" fill="none" stroke="#000" stroke-width="1.15" stroke-dasharray="5 1.3"/>
<path d="M728.9 381.5L728.9 404" fill="none" stroke="#000" stroke-width="1.15" stroke-dasharray="5 1.3"/>
<path d="M730.3 405.4C732.5 404.3 733.5 401.5 738.7 401.2C744 400.8 746.2 401 750 404C753.7 407 752 410.2 752.8 412.4" fill="none" stroke="#000" stroke-width="1.15" stroke-dasharray="5 1.3"/>
<path d="M759.8 361.1L871 421.9" stroke="#000" stroke-width="1.2" fill="none"/>
<path d="M615.5 380C619 382.1 634.9 391.2 642.2 395.5C649.5 399.8 663.9 408.8 670.3 412.3C676.7 415.9 687 420.1 690 422.2C693 424.2 690.5 425.9 692.8 427.8C695 429.7 704.2 435 706.8 436.2C709.5 437.5 711.2 437.3 712.5 436.9C713.8 436.6 712.9 435.6 716.7 433.4C720.4 431.3 736.1 423.2 740.6 420.8C745 418.3 748.7 415.9 750 415.1" fill="none" stroke="#000" stroke-width="1.15" stroke-dasharray="5 1.3"/>
<path d="M628.1 380C630.4 381.1 635.4 382.8 639.4 385.6C643.3 388.4 643.3 391.5 647.8 394.1C652.3 396.6 656.8 396.9 661.9 398.3C666.9 399.7 669.7 399.1 673.1 401.1C676.5 403.1 673.7 404.5 678.7 408.1C683.8 411.8 693.1 416.3 698.4 419.4C703.7 422.5 704 422.7 705.4 423.6" fill="none" stroke="#000" stroke-width="1.15" stroke-dasharray="5 1.3"/>
<ellipse cx="643.6" cy="390.5" rx="2.4" ry="3.1" fill="none" stroke="#000" stroke-width="1.0" transform="rotate(-25 643.6 390.5)"/>
<path d="M644.1 392.9A1.5 2.1 -25 0 1 643.9 389" fill="none" stroke="#000" stroke-width="0.8"/>
<ellipse cx="658.3" cy="387.7" rx="2" ry="2.8" fill="none" stroke="#000" stroke-width="1.0" transform="rotate(-25 658.3 387.7)"/>
<path d="M658.9 389.9A1.3 1.9 -25 0 1 658.6 386.4" fill="none" stroke="#000" stroke-width="0.8"/>
<ellipse cx="673.1" cy="406.7" rx="2.4" ry="3.1" fill="none" stroke="#000" stroke-width="1.0" transform="rotate(-25 673.1 406.7)"/>
<path d="M673.6 409.1A1.5 2.1 -25 0 1 673.5 405.2" fill="none" stroke="#000" stroke-width="0.8"/>
<ellipse cx="708.2" cy="406.7" rx="2.4" ry="3.1" fill="none" stroke="#000" stroke-width="1.0" transform="rotate(-25 708.2 406.7)"/>
<path d="M708.7 409.1A1.5 2.1 -25 0 1 708.6 405.2" fill="none" stroke="#000" stroke-width="0.8"/>
<ellipse cx="709" cy="427.8" rx="2.4" ry="3.1" fill="none" stroke="#000" stroke-width="1.0" transform="rotate(-25 709 427.8)"/>
<path d="M709.4 430.2A1.5 2.1 -25 0 1 709.3 426.3" fill="none" stroke="#000" stroke-width="0.8"/>
<ellipse cx="710.4" cy="387.7" rx="2.2" ry="3.1" fill="none" stroke="#000" stroke-width="1.0" transform="rotate(-25 710.4 387.7)"/>
<path d="M710.9 390.1A1.4 2.1 -25 0 1 710.7 386.2" fill="none" stroke="#000" stroke-width="0.8"/>
<ellipse cx="688.6" cy="403.9" rx="5.9" ry="8.7" fill="none" stroke="#000" stroke-width="1.15" transform="rotate(-25 688.6 403.9)" stroke-dasharray="5 1.3"/>
<path d="M681.5 398.3C683.8 397.5 685.5 395.8 690 395.5C694.5 395.1 694.7 394.2 698.4 396.9C702.2 399.5 702.5 400.1 704 405.3C705.5 410.6 702.5 412.4 704 416.6C705.5 420.7 708.2 419.6 709.7 420.8" fill="none" stroke="#000" stroke-width="1.15" stroke-dasharray="5 1.3"/>
<path d="M663.3 395.5C667.8 395.3 691.6 393.5 697 394.1C702.4 394.6 703.1 398.9 704 399.7" fill="none" stroke="#000" stroke-width="1.15" stroke-dasharray="5 1.3"/>
<path d="M656.2 380C660 381.9 661.3 384.4 670.3 387C679.3 389.7 681.7 390.2 690 389.8C698.2 389.5 696.7 388.2 701.2 385.6C705.7 383 705.3 381.5 706.8 380" fill="none" stroke="#000" stroke-width="1.15" stroke-dasharray="5 1.3"/>
<path d="M664.7 380C668.4 381.5 671.2 384.5 678.7 385.6C686.2 386.7 689 384.6 692.8 384.2" fill="none" stroke="#000" stroke-width="1.15" stroke-dasharray="5 1.3"/>
<path d="M717.4 380L717.4 432" fill="none" stroke="#000" stroke-width="1.15" stroke-dasharray="5 1.3"/>
<path d="M713.9 385.6C713.9 388.2 714.5 390.3 713.9 396.9C713.2 403.4 711.1 406.9 711.1 413.7C711.1 420.6 713.2 423.4 713.9 426.4" fill="none" stroke="#000" stroke-width="1.15" stroke-dasharray="5 1.3"/>
<path d="M723.7 415.1C724.5 413.3 723.5 411.5 726.5 408.1C729.5 404.7 728.7 405.1 735 402.5C741.2 399.9 746 399.4 750 398.3" fill="none" stroke="#000" stroke-width="1.15" stroke-dasharray="5 1.3"/>
<path d="M726.5 419.4C727.3 417.1 726.3 414.7 729.3 410.9C732.3 407.2 732.3 407.6 737.8 405.3C743.3 403.1 746.7 403.2 750 402.5" fill="none" stroke="#000" stroke-width="1.15" stroke-dasharray="5 1.3"/>
<path d="M729.3 420.8C731.6 420.4 733.3 421.2 737.8 419.4C742.3 417.5 744 415.2 746.2 413.7" fill="none" stroke="#000" stroke-width="1.15" stroke-dasharray="5 1.3"/>
<path d="M727.9 401.1C730.5 400 736.2 397.2 740.6 395.5C745 393.8 748.1 393.2 750 392.7" fill="none" stroke="#000" stroke-width="1.15" stroke-dasharray="5 1.3"/>
<path d="M726.5 380L727.9 401.1" fill="none" stroke="#000" stroke-width="1.15" stroke-dasharray="5 1.3"/>
<path d="M722.3 380L723.7 403.9" fill="none" stroke="#000" stroke-width="1.15" stroke-dasharray="5 1.3"/>
<path d="M647.8 398.3L667.5 408.1" fill="none" stroke="#000" stroke-width="1.15" stroke-dasharray="5 1.3"/>
<path d="M777.3 380C777.4 381.9 779 391.2 778 394.1C777.1 396.9 773.9 398.7 770.3 401.1C766.6 403.5 754.9 409.5 750.6 412.3C746.3 415.1 742.5 419.3 738 422.2C733.5 425.1 720.4 432.2 716.9 434.1C713.3 436.1 712.9 436.7 711.2 436.9C709.6 437.2 705.2 436.3 704.2 436.2" fill="none" stroke="#000" stroke-width="1.15" stroke-dasharray="5 1.3"/>
<ellipse cx="737.3" cy="414.4" rx="13.4" ry="11.9" fill="none" stroke="#000" stroke-width="1.15" transform="rotate(-30 737.3 414.4)" stroke-dasharray="5 1.3"/>
<ellipse cx="737.3" cy="414.4" rx="9.8" ry="8.7" fill="none" stroke="#000" stroke-width="1.4" transform="rotate(-30 737.3 414.4)"/>
<ellipse cx="737.3" cy="414.9" rx="6.3" ry="5.3" fill="none" stroke="#000" stroke-width="1.0" transform="rotate(-30 737.3 414.9)"/>
<path d="M753.4 398.3C754.3 396.2 753.3 394.2 756.2 391.2C759.2 388.3 759.5 387.6 763.3 388.4C767.1 389.3 767.6 389.8 768.9 394.1C770.1 398.3 767.9 400 767.5 402.5" fill="none" stroke="#000" stroke-width="1.15" stroke-dasharray="5 1.3"/>
<path d="M728.1 388.4L750.6 380" fill="none" stroke="#000" stroke-width="1.15" stroke-dasharray="5 1.3"/>
<path d="M729.5 398.3L753.4 388.4" fill="none" stroke="#000" stroke-width="1.15" stroke-dasharray="5 1.3"/>
<path d="M733.7 413.7C735.1 412.8 735.1 410.5 738 410.9C740.8 411.4 739.8 415.4 742.2 415.1C744.5 414.9 744 411.9 745 410.2" fill="none" stroke="#000" stroke-width="1.0"/>
<path d="M805.6 426.6L840.5 409.2L840.9 411.8L842.9 410.8L842.6 408.2L844.4 407.3L844.9 436.2L805.6 458.8Z" fill="#fff" stroke="#000" stroke-width="1.9" stroke-linejoin="miter"/>
<path d="M810.7 430.1L840.3 415.4M809.7 434L828.4 424.7M813.1 435.8L840.3 422.2M811.4 440L826.7 432.3M812.1 443.1L838.6 429.8M811.4 446.8L825 440M814.8 448.5L838.6 436.6" stroke="#555" stroke-width="0.7" fill="none"/>
<path d="M806.5 428.5l2 -1v2.2zM806.5 456l2 -1.2v-1.6zM843.8 434l-2 1.1v-2z" fill="#000" stroke="#000" stroke-width="1"/>
<path d="M871.5 425.2L878 429" stroke="#000" stroke-width="2.6"/>
<ellipse cx="878.6" cy="429.6" rx="1.8" ry="2.8" fill="#fff" stroke="#000" stroke-width="1.1" transform="rotate(30 878.6 429.6)"/>
<path d="M842.6 406.4l3.2 1.8" stroke="#000" stroke-width="3"/>
<path d="M686.1 275.1C684.8 278.5 681.4 278.8 681.9 286.4C682.3 294 682 292.9 687.5 300.4C693 308 693.4 307.9 700.1 311.7C706.9 315.5 707 312.7 710 313.1" fill="none" stroke="#000" stroke-width="1.3" stroke-dasharray="5 1.3"/>
<path d="M683.3 273.7C681.8 277.5 678.1 277.5 678.3 286.4C678.6 295.2 677.8 294.4 684 303.3C690.1 312.1 690.9 311.7 698.7 315.9C706.5 320.1 706.6 316.9 710 317.3" fill="none" stroke="#000" stroke-width="1.3" stroke-dasharray="5 1.3"/>
<path d="M679 270.9C677.6 275.1 674.1 274.9 674.1 285C674.1 295.1 672.9 294.1 679 304.7C685.2 315.2 684.8 315.1 694.5 320.1C704.2 325.2 706.3 321.1 711.4 321.5" fill="none" stroke="#000" stroke-width="1.3" stroke-dasharray="5 1.3"/>
<path d="M690.3 279.4C689.2 281.9 686.4 282.3 686.8 287.8C687.2 293.3 687.3 292.2 691.7 297.6C696.1 303.1 696.5 303.1 701.5 306.1C706.6 309 706.5 307.1 708.6 307.5" fill="none" stroke="#000" stroke-width="1.3" stroke-dasharray="5 1.3"/>
<path d="M693.1 285C693.9 287.9 692.5 289.8 695.9 294.8C699.3 299.9 701.8 299.7 704.3 301.9" fill="none" stroke="#000" stroke-width="1.3" stroke-dasharray="5 1.3"/>
<path d="M662.2 254.1C661.3 260.8 658.1 263.1 659.4 276.6C660.6 290 659.2 285.5 666.4 299C673.6 312.5 671 310.6 683.3 321.5C695.5 332.5 697.5 331 707.2 335.6C716.9 340.2 713.1 336.6 715.6 337" fill="none" stroke="#000" stroke-width="1.15" stroke-dasharray="5 1.3"/>
<path d="M669.2 248.4L680.4 259.7" fill="none" stroke="#000" stroke-width="1.0"/>
<path d="M672 247L681.9 256.9" fill="none" stroke="#000" stroke-width="1.0"/>
<ellipse cx="692.4" cy="268.8" rx="2" ry="2.5" fill="none" stroke="#000" stroke-width="1.0" transform="rotate(-25 692.4 268.8)"/>
<ellipse cx="703.6" cy="289.2" rx="2" ry="2.5" fill="none" stroke="#000" stroke-width="1.0" transform="rotate(-25 703.6 289.2)"/>
<ellipse cx="717" cy="327.2" rx="2.8" ry="3.9" fill="none" stroke="#000" stroke-width="1.2" transform="rotate(-25 717 327.2)"/>
<!-- 50_gasket.py -->
<clipPath id="gk"><path d="M398.1 251.6C402.4 250.5 404.7 251.4 408.4 250.2C412.2 249.1 409.7 247.9 412.2 247.2C414.7 246.6 415.3 246.4 417.8 247.8C420.3 249.2 419.8 249.7 421.5 252.5C423.3 255.2 420.6 254.6 424.4 258.1C428.1 261.6 431.4 263.4 435.6 265.6C439.9 267.9 437.5 265.6 440.3 266.6C443 267.6 443.7 266.9 445.9 269.4C448.2 271.9 448.2 272.7 448.7 275.9C449.2 279.2 446.8 278.3 447.8 281.5C448.8 284.8 449.7 285.9 452.5 288.1C455.2 290.4 455.6 288 458.1 290C460.6 292 460.8 292.4 461.8 295.6C462.8 298.9 461.3 299.7 461.8 302.2C462.3 304.7 461.7 302.2 463.7 305C465.7 307.7 466.8 309.2 469.3 312.5C471.8 315.7 470.8 315.2 473.1 317.2C475.3 319.2 475.3 318.2 477.8 320C480.3 321.7 480 323.2 482.5 323.7C485 324.2 484.4 322.6 487.2 321.8C489.9 321.1 489.5 319.9 492.8 320.9C496 321.9 496.1 323.3 499.3 325.6C502.6 327.8 500 327.3 505 329.3C510 331.3 513.3 332.8 518.1 333.1C522.8 333.3 519.8 330.3 522.8 330.3C525.8 330.3 526.8 330.3 529.3 333.1C531.8 335.8 531.1 336.1 532.1 340.6C533.1 345.1 531.1 346.5 533.1 350C535.1 353.5 537.6 351.9 539.6 353.7C541.6 355.6 539.8 353 540.6 356.9C541.3 360.7 539.9 363.6 542.4 368.1C544.9 372.6 547.2 370.5 549.9 373.7C552.7 377 552.5 376.8 552.8 380.3C553 383.8 549.6 381.1 550.9 386.9C552.1 392.6 553.7 395.9 557.4 401.9C561.2 407.9 562.4 405.4 564.9 409.4C567.4 413.4 566.8 413.4 566.8 416.9C566.8 420.3 565.4 417 564.9 422.5C564.4 428 564.7 429.5 564.9 437.5C565.2 445.5 564.9 446.5 565.9 452.5C566.9 458.5 568.4 456.5 568.7 460C568.9 463.5 569.1 463.1 566.8 465.6C564.6 468.1 562 466.4 560.3 469.4C558.5 472.4 561.3 473.4 560.3 476.9C559.3 480.3 557.5 479 556.5 482.5C555.5 486 556 486 556.5 490C557 494 558.6 493.5 558.4 497.5C558.1 501.5 555.6 501 555.6 505C555.6 509 558.1 508.7 558.4 512.5C558.6 516.2 558.5 517 556.5 519C554.5 521 553.6 521.2 550.9 520C548.1 518.7 551.5 518.1 546.2 514.3C541 510.6 537.2 509.7 531.2 505.9C525.2 502.2 527.5 502 523.7 500.3C520 498.5 520.1 501.1 517.2 499.3C514.2 497.6 517.7 497.7 512.5 493.7C507.2 489.7 503 487.1 497.5 484.3C492 481.6 495.1 484.9 491.8 483.4C488.6 481.9 487.8 481.5 485.3 478.7C482.8 476 488.7 477.4 482.5 473.1C476.2 468.9 469.4 465.5 461.9 462.8C454.4 460 457.6 464.5 454.4 462.8C451.1 461 450.4 459.5 449.7 456.2C448.9 453 450.3 453.6 451.5 450.6C452.8 447.6 454.1 448.5 454.4 445C454.6 441.5 455 441.5 452.5 437.5C450 433.5 448.5 433.5 445 430C441.5 426.5 442.4 426.4 439.4 424.4C436.4 422.4 435.7 423.2 433.7 422.5C431.7 421.7 436.4 424.3 431.9 421.5C427.4 418.8 424.6 416.9 416.9 412.2C409.1 407.4 408.8 408.5 402.8 403.7C396.8 399 398.6 400.9 394.4 394.4C390.1 387.9 391.1 385.4 386.9 379.4C382.6 373.4 380.8 376.1 378.4 371.9C376 367.6 375.4 368 377.9 363.4C380.4 358.8 384.2 358.6 387.8 354.6C391.5 350.6 388.8 351.3 391.6 348.4C394.3 345.5 396.4 345.8 398.1 343.7C399.9 341.7 399.4 344.4 398.1 340.6C396.9 336.7 396.7 336.3 393.4 329.3C390.2 322.3 389.1 319.6 385.9 314.3C382.8 309.1 382.4 313.2 381.6 309.7C380.9 306.2 382.5 307.5 383.1 301.2C383.8 295 383.7 293.7 384.1 286.2C384.5 278.7 384.9 279.1 384.6 273.1C384.4 267.1 382.5 267.7 383.1 263.7C383.7 259.7 384.4 260.6 386.9 258.1C389.4 255.6 389.5 256.1 392.5 254.4C395.5 252.6 393.9 252.7 398.1 251.6Z"/></clipPath>
<path d="M398.1 251.6C402.4 250.5 404.7 251.4 408.4 250.2C412.2 249.1 409.7 247.9 412.2 247.2C414.7 246.6 415.3 246.4 417.8 247.8C420.3 249.2 419.8 249.7 421.5 252.5C423.3 255.2 420.6 254.6 424.4 258.1C428.1 261.6 431.4 263.4 435.6 265.6C439.9 267.9 437.5 265.6 440.3 266.6C443 267.6 443.7 266.9 445.9 269.4C448.2 271.9 448.2 272.7 448.7 275.9C449.2 279.2 446.8 278.3 447.8 281.5C448.8 284.8 449.7 285.9 452.5 288.1C455.2 290.4 455.6 288 458.1 290C460.6 292 460.8 292.4 461.8 295.6C462.8 298.9 461.3 299.7 461.8 302.2C462.3 304.7 461.7 302.2 463.7 305C465.7 307.7 466.8 309.2 469.3 312.5C471.8 315.7 470.8 315.2 473.1 317.2C475.3 319.2 475.3 318.2 477.8 320C480.3 321.7 480 323.2 482.5 323.7C485 324.2 484.4 322.6 487.2 321.8C489.9 321.1 489.5 319.9 492.8 320.9C496 321.9 496.1 323.3 499.3 325.6C502.6 327.8 500 327.3 505 329.3C510 331.3 513.3 332.8 518.1 333.1C522.8 333.3 519.8 330.3 522.8 330.3C525.8 330.3 526.8 330.3 529.3 333.1C531.8 335.8 531.1 336.1 532.1 340.6C533.1 345.1 531.1 346.5 533.1 350C535.1 353.5 537.6 351.9 539.6 353.7C541.6 355.6 539.8 353 540.6 356.9C541.3 360.7 539.9 363.6 542.4 368.1C544.9 372.6 547.2 370.5 549.9 373.7C552.7 377 552.5 376.8 552.8 380.3C553 383.8 549.6 381.1 550.9 386.9C552.1 392.6 553.7 395.9 557.4 401.9C561.2 407.9 562.4 405.4 564.9 409.4C567.4 413.4 566.8 413.4 566.8 416.9C566.8 420.3 565.4 417 564.9 422.5C564.4 428 564.7 429.5 564.9 437.5C565.2 445.5 564.9 446.5 565.9 452.5C566.9 458.5 568.4 456.5 568.7 460C568.9 463.5 569.1 463.1 566.8 465.6C564.6 468.1 562 466.4 560.3 469.4C558.5 472.4 561.3 473.4 560.3 476.9C559.3 480.3 557.5 479 556.5 482.5C555.5 486 556 486 556.5 490C557 494 558.6 493.5 558.4 497.5C558.1 501.5 555.6 501 555.6 505C555.6 509 558.1 508.7 558.4 512.5C558.6 516.2 558.5 517 556.5 519C554.5 521 553.6 521.2 550.9 520C548.1 518.7 551.5 518.1 546.2 514.3C541 510.6 537.2 509.7 531.2 505.9C525.2 502.2 527.5 502 523.7 500.3C520 498.5 520.1 501.1 517.2 499.3C514.2 497.6 517.7 497.7 512.5 493.7C507.2 489.7 503 487.1 497.5 484.3C492 481.6 495.1 484.9 491.8 483.4C488.6 481.9 487.8 481.5 485.3 478.7C482.8 476 488.7 477.4 482.5 473.1C476.2 468.9 469.4 465.5 461.9 462.8C454.4 460 457.6 464.5 454.4 462.8C451.1 461 450.4 459.5 449.7 456.2C448.9 453 450.3 453.6 451.5 450.6C452.8 447.6 454.1 448.5 454.4 445C454.6 441.5 455 441.5 452.5 437.5C450 433.5 448.5 433.5 445 430C441.5 426.5 442.4 426.4 439.4 424.4C436.4 422.4 435.7 423.2 433.7 422.5C431.7 421.7 436.4 424.3 431.9 421.5C427.4 418.8 424.6 416.9 416.9 412.2C409.1 407.4 408.8 408.5 402.8 403.7C396.8 399 398.6 400.9 394.4 394.4C390.1 387.9 391.1 385.4 386.9 379.4C382.6 373.4 380.8 376.1 378.4 371.9C376 367.6 375.4 368 377.9 363.4C380.4 358.8 384.2 358.6 387.8 354.6C391.5 350.6 388.8 351.3 391.6 348.4C394.3 345.5 396.4 345.8 398.1 343.7C399.9 341.7 399.4 344.4 398.1 340.6C396.9 336.7 396.7 336.3 393.4 329.3C390.2 322.3 389.1 319.6 385.9 314.3C382.8 309.1 382.4 313.2 381.6 309.7C380.9 306.2 382.5 307.5 383.1 301.2C383.8 295 383.7 293.7 384.1 286.2C384.5 278.7 384.9 279.1 384.6 273.1C384.4 267.1 382.5 267.7 383.1 263.7C383.7 259.7 384.4 260.6 386.9 258.1C389.4 255.6 389.5 256.1 392.5 254.4C395.5 252.6 393.9 252.7 398.1 251.6Z" fill="#fff" stroke="none"/>
<g clip-path="url(#gk)" fill="none" stroke="#b4b4b4" stroke-width="7.4"><path d="M398.1 251.6C402.4 250.5 404.7 251.4 408.4 250.2C412.2 249.1 409.7 247.9 412.2 247.2C414.7 246.6 415.3 246.4 417.8 247.8C420.3 249.2 419.8 249.7 421.5 252.5C423.3 255.2 420.6 254.6 424.4 258.1C428.1 261.6 431.4 263.4 435.6 265.6C439.9 267.9 437.5 265.6 440.3 266.6C443 267.6 443.7 266.9 445.9 269.4C448.2 271.9 448.2 272.7 448.7 275.9C449.2 279.2 446.8 278.3 447.8 281.5C448.8 284.8 449.7 285.9 452.5 288.1C455.2 290.4 455.6 288 458.1 290C460.6 292 460.8 292.4 461.8 295.6C462.8 298.9 461.3 299.7 461.8 302.2C462.3 304.7 461.7 302.2 463.7 305C465.7 307.7 466.8 309.2 469.3 312.5C471.8 315.7 470.8 315.2 473.1 317.2C475.3 319.2 475.3 318.2 477.8 320C480.3 321.7 480 323.2 482.5 323.7C485 324.2 484.4 322.6 487.2 321.8C489.9 321.1 489.5 319.9 492.8 320.9C496 321.9 496.1 323.3 499.3 325.6C502.6 327.8 500 327.3 505 329.3C510 331.3 513.3 332.8 518.1 333.1C522.8 333.3 519.8 330.3 522.8 330.3C525.8 330.3 526.8 330.3 529.3 333.1C531.8 335.8 531.1 336.1 532.1 340.6C533.1 345.1 531.1 346.5 533.1 350C535.1 353.5 537.6 351.9 539.6 353.7C541.6 355.6 539.8 353 540.6 356.9C541.3 360.7 539.9 363.6 542.4 368.1C544.9 372.6 547.2 370.5 549.9 373.7C552.7 377 552.5 376.8 552.8 380.3C553 383.8 549.6 381.1 550.9 386.9C552.1 392.6 553.7 395.9 557.4 401.9C561.2 407.9 562.4 405.4 564.9 409.4C567.4 413.4 566.8 413.4 566.8 416.9C566.8 420.3 565.4 417 564.9 422.5C564.4 428 564.7 429.5 564.9 437.5C565.2 445.5 564.9 446.5 565.9 452.5C566.9 458.5 568.4 456.5 568.7 460C568.9 463.5 569.1 463.1 566.8 465.6C564.6 468.1 562 466.4 560.3 469.4C558.5 472.4 561.3 473.4 560.3 476.9C559.3 480.3 557.5 479 556.5 482.5C555.5 486 556 486 556.5 490C557 494 558.6 493.5 558.4 497.5C558.1 501.5 555.6 501 555.6 505C555.6 509 558.1 508.7 558.4 512.5C558.6 516.2 558.5 517 556.5 519C554.5 521 553.6 521.2 550.9 520C548.1 518.7 551.5 518.1 546.2 514.3C541 510.6 537.2 509.7 531.2 505.9C525.2 502.2 527.5 502 523.7 500.3C520 498.5 520.1 501.1 517.2 499.3C514.2 497.6 517.7 497.7 512.5 493.7C507.2 489.7 503 487.1 497.5 484.3C492 481.6 495.1 484.9 491.8 483.4C488.6 481.9 487.8 481.5 485.3 478.7C482.8 476 488.7 477.4 482.5 473.1C476.2 468.9 469.4 465.5 461.9 462.8C454.4 460 457.6 464.5 454.4 462.8C451.1 461 450.4 459.5 449.7 456.2C448.9 453 450.3 453.6 451.5 450.6C452.8 447.6 454.1 448.5 454.4 445C454.6 441.5 455 441.5 452.5 437.5C450 433.5 448.5 433.5 445 430C441.5 426.5 442.4 426.4 439.4 424.4C436.4 422.4 435.7 423.2 433.7 422.5C431.7 421.7 436.4 424.3 431.9 421.5C427.4 418.8 424.6 416.9 416.9 412.2C409.1 407.4 408.8 408.5 402.8 403.7C396.8 399 398.6 400.9 394.4 394.4C390.1 387.9 391.1 385.4 386.9 379.4C382.6 373.4 380.8 376.1 378.4 371.9C376 367.6 375.4 368 377.9 363.4C380.4 358.8 384.2 358.6 387.8 354.6C391.5 350.6 388.8 351.3 391.6 348.4C394.3 345.5 396.4 345.8 398.1 343.7C399.9 341.7 399.4 344.4 398.1 340.6C396.9 336.7 396.7 336.3 393.4 329.3C390.2 322.3 389.1 319.6 385.9 314.3C382.8 309.1 382.4 313.2 381.6 309.7C380.9 306.2 382.5 307.5 383.1 301.2C383.8 295 383.7 293.7 384.1 286.2C384.5 278.7 384.9 279.1 384.6 273.1C384.4 267.1 382.5 267.7 383.1 263.7C383.7 259.7 384.4 260.6 386.9 258.1C389.4 255.6 389.5 256.1 392.5 254.4C395.5 252.6 393.9 252.7 398.1 251.6Z"/><path d="M398.1 256.2C402.8 254.5 405.3 254.1 410.3 255.3C415.3 256.6 412.6 257.9 416.9 260.9C421.1 263.9 420.5 262.3 426.2 266.6C432 270.8 433.4 271.6 438.4 276.9C443.4 282.1 441.2 280.2 445 286.2C448.7 292.2 449 292.4 452.5 299.4C456 306.4 456.2 305.7 458.1 312.5C460 319.2 457.6 319.9 459.6 324.7C461.6 329.4 461.5 329 465.6 330.3C469.7 331.5 468.5 329.3 475 329.3C481.5 329.3 482 328.8 490 330.3C498 331.8 497 332.2 505 335C513 337.7 513.5 336.6 520 340.6C526.5 344.6 525.3 344.5 529.3 350C533.3 355.5 532.7 356.9 534.9 361.2C537.2 365.6 534.8 360.4 537.8 366.2C540.8 372.1 542.2 374.6 546.2 383.1C550.2 391.6 549.5 389.6 552.8 398.1C556 406.6 556.4 407 558.4 415C560.4 423 559.5 420.1 560.3 428.1C561 436.1 560.9 436 561.2 445C561.4 454 562.7 453.9 561.2 461.9C559.7 469.9 558.6 470 555.6 475C552.6 480 552 478.6 550 480.6C548 482.6 551.1 483.5 548.1 482.5C545.1 481.5 545.2 478.2 538.7 476.9C532.2 475.5 532.7 479.3 523.7 477.4C514.7 475.6 514.5 474.9 505 469.9C495.5 464.9 497.1 466.7 488.1 458.7C479.1 450.7 479.2 450.1 471.2 439.9C463.2 429.8 462.4 428 458.1 420.6C453.9 413.2 457.3 419.2 455.3 412.2C453.3 405.2 452.3 403.6 450.6 394.4C448.9 385.1 450.3 385 448.7 377.5C447.1 370 448.1 370.8 444.6 366.2C441.1 361.6 441.3 363.3 435.6 360.2C430 357.1 430.2 358 423.4 354.6C416.7 351.2 415.8 352.5 410.3 347.5C404.8 342.5 407.3 343.7 402.8 335.9C398.3 328.1 397.1 326.3 393.4 318.1C389.8 309.9 390.5 313.5 389.1 305C387.7 296.5 388.2 295.2 388.2 286.2C388.2 277.2 387.9 277.7 389.1 271.2C390.4 264.7 390.5 265.9 392.9 261.9C395.3 257.9 393.5 258 398.1 256.2Z"/><path d="M389.7 368.1C391.8 364.2 390.5 363.4 396.2 361C402 358.6 404.2 358.1 411.2 359.1C418.2 360.1 417.2 359.1 422.5 364.7C427.7 370.4 427.9 371.9 430.9 380.3C433.9 388.7 432.9 387.2 433.7 396.2C434.6 405.2 438.6 410.6 434.1 414C429.6 417.4 425 412.8 416.9 409C408.8 405.1 409.7 405.1 403.7 399.6C397.7 394.1 398.5 394.8 394.4 388.4C390.2 382 389.4 381 388.2 375.6C386.9 370.2 387.5 372 389.7 368.1Z"/><path d="M434.7 363.4C437.2 362.9 439.7 363 442.2 366.2C444.7 369.5 444.8 372.4 444 375.6C443.3 378.9 442.1 378.4 439.4 378.4C436.6 378.4 435.5 378.4 433.7 375.6C432 372.9 432.5 371.4 432.8 368.1C433 364.9 432.2 363.9 434.7 363.4Z"/><path d="M436 384.6C437.2 382.5 442.5 384.4 444.6 387.2C446.7 390.1 447.3 396.6 448.7 401.9C450.2 407.1 451.8 414.2 453.4 418.7C455 423.3 458.9 428.4 458.1 429C457.3 429.7 452 424.8 448.7 422.5C445.4 420.1 440.4 418.7 438.4 415C436.5 411.2 437.5 405 437.1 400C436.7 394.9 434.7 386.7 436 384.6Z"/><path d="M461.9 440.3C464.4 437.8 463.4 436.5 469.4 441.2C475.4 446 479.6 451.1 484.3 458.1C489.1 465.1 487.7 464.5 487.2 467.5C486.7 470.5 488.7 471.6 482.5 469.4C476.2 467.1 469.7 464 463.7 459C457.7 454 460.5 455.6 460 450.6C459.5 445.6 459.4 442.8 461.9 440.3Z"/><path d="M520 481.5C523 479.5 531.2 478.7 536.8 479.7C542.5 480.6 545.8 480.8 548.1 486.2C550.4 491.7 551.8 504.6 548.5 506.8C545.1 509.1 536.5 500.8 531.2 497.5C525.9 494.1 524.1 493.2 521.8 490C519.6 486.8 517 483.6 520 481.5Z"/></g>
<path d="M398.1 256.2C402.8 254.5 405.3 254.1 410.3 255.3C415.3 256.6 412.6 257.9 416.9 260.9C421.1 263.9 420.5 262.3 426.2 266.6C432 270.8 433.4 271.6 438.4 276.9C443.4 282.1 441.2 280.2 445 286.2C448.7 292.2 449 292.4 452.5 299.4C456 306.4 456.2 305.7 458.1 312.5C460 319.2 457.6 319.9 459.6 324.7C461.6 329.4 461.5 329 465.6 330.3C469.7 331.5 468.5 329.3 475 329.3C481.5 329.3 482 328.8 490 330.3C498 331.8 497 332.2 505 335C513 337.7 513.5 336.6 520 340.6C526.5 344.6 525.3 344.5 529.3 350C533.3 355.5 532.7 356.9 534.9 361.2C537.2 365.6 534.8 360.4 537.8 366.2C540.8 372.1 542.2 374.6 546.2 383.1C550.2 391.6 549.5 389.6 552.8 398.1C556 406.6 556.4 407 558.4 415C560.4 423 559.5 420.1 560.3 428.1C561 436.1 560.9 436 561.2 445C561.4 454 562.7 453.9 561.2 461.9C559.7 469.9 558.6 470 555.6 475C552.6 480 552 478.6 550 480.6C548 482.6 551.1 483.5 548.1 482.5C545.1 481.5 545.2 478.2 538.7 476.9C532.2 475.5 532.7 479.3 523.7 477.4C514.7 475.6 514.5 474.9 505 469.9C495.5 464.9 497.1 466.7 488.1 458.7C479.1 450.7 479.2 450.1 471.2 439.9C463.2 429.8 462.4 428 458.1 420.6C453.9 413.2 457.3 419.2 455.3 412.2C453.3 405.2 452.3 403.6 450.6 394.4C448.9 385.1 450.3 385 448.7 377.5C447.1 370 448.1 370.8 444.6 366.2C441.1 361.6 441.3 363.3 435.6 360.2C430 357.1 430.2 358 423.4 354.6C416.7 351.2 415.8 352.5 410.3 347.5C404.8 342.5 407.3 343.7 402.8 335.9C398.3 328.1 397.1 326.3 393.4 318.1C389.8 309.9 390.5 313.5 389.1 305C387.7 296.5 388.2 295.2 388.2 286.2C388.2 277.2 387.9 277.7 389.1 271.2C390.4 264.7 390.5 265.9 392.9 261.9C395.3 257.9 393.5 258 398.1 256.2Z" fill="#fff" stroke="#000" stroke-width="1.8"/>
<path d="M389.7 368.1C391.8 364.2 390.5 363.4 396.2 361C402 358.6 404.2 358.1 411.2 359.1C418.2 360.1 417.2 359.1 422.5 364.7C427.7 370.4 427.9 371.9 430.9 380.3C433.9 388.7 432.9 387.2 433.7 396.2C434.6 405.2 438.6 410.6 434.1 414C429.6 417.4 425 412.8 416.9 409C408.8 405.1 409.7 405.1 403.7 399.6C397.7 394.1 398.5 394.8 394.4 388.4C390.2 382 389.4 381 388.2 375.6C386.9 370.2 387.5 372 389.7 368.1Z" fill="#fff" stroke="#000" stroke-width="1.8"/>
<path d="M434.7 363.4C437.2 362.9 439.7 363 442.2 366.2C444.7 369.5 444.8 372.4 444 375.6C443.3 378.9 442.1 378.4 439.4 378.4C436.6 378.4 435.5 378.4 433.7 375.6C432 372.9 432.5 371.4 432.8 368.1C433 364.9 432.2 363.9 434.7 363.4Z" fill="#fff" stroke="#000" stroke-width="1.8"/>
<path d="M436 384.6C437.2 382.5 442.5 384.4 444.6 387.2C446.7 390.1 447.3 396.6 448.7 401.9C450.2 407.1 451.8 414.2 453.4 418.7C455 423.3 458.9 428.4 458.1 429C457.3 429.7 452 424.8 448.7 422.5C445.4 420.1 440.4 418.7 438.4 415C436.5 411.2 437.5 405 437.1 400C436.7 394.9 434.7 386.7 436 384.6Z" fill="#fff" stroke="#000" stroke-width="1.8"/>
<path d="M461.9 440.3C464.4 437.8 463.4 436.5 469.4 441.2C475.4 446 479.6 451.1 484.3 458.1C489.1 465.1 487.7 464.5 487.2 467.5C486.7 470.5 488.7 471.6 482.5 469.4C476.2 467.1 469.7 464 463.7 459C457.7 454 460.5 455.6 460 450.6C459.5 445.6 459.4 442.8 461.9 440.3Z" fill="#fff" stroke="#000" stroke-width="1.8"/>
<path d="M520 481.5C523 479.5 531.2 478.7 536.8 479.7C542.5 480.6 545.8 480.8 548.1 486.2C550.4 491.7 551.8 504.6 548.5 506.8C545.1 509.1 536.5 500.8 531.2 497.5C525.9 494.1 524.1 493.2 521.8 490C519.6 486.8 517 483.6 520 481.5Z" fill="#fff" stroke="#000" stroke-width="1.8"/>
<path d="M398.1 251.6C402.4 250.5 404.7 251.4 408.4 250.2C412.2 249.1 409.7 247.9 412.2 247.2C414.7 246.6 415.3 246.4 417.8 247.8C420.3 249.2 419.8 249.7 421.5 252.5C423.3 255.2 420.6 254.6 424.4 258.1C428.1 261.6 431.4 263.4 435.6 265.6C439.9 267.9 437.5 265.6 440.3 266.6C443 267.6 443.7 266.9 445.9 269.4C448.2 271.9 448.2 272.7 448.7 275.9C449.2 279.2 446.8 278.3 447.8 281.5C448.8 284.8 449.7 285.9 452.5 288.1C455.2 290.4 455.6 288 458.1 290C460.6 292 460.8 292.4 461.8 295.6C462.8 298.9 461.3 299.7 461.8 302.2C462.3 304.7 461.7 302.2 463.7 305C465.7 307.7 466.8 309.2 469.3 312.5C471.8 315.7 470.8 315.2 473.1 317.2C475.3 319.2 475.3 318.2 477.8 320C480.3 321.7 480 323.2 482.5 323.7C485 324.2 484.4 322.6 487.2 321.8C489.9 321.1 489.5 319.9 492.8 320.9C496 321.9 496.1 323.3 499.3 325.6C502.6 327.8 500 327.3 505 329.3C510 331.3 513.3 332.8 518.1 333.1C522.8 333.3 519.8 330.3 522.8 330.3C525.8 330.3 526.8 330.3 529.3 333.1C531.8 335.8 531.1 336.1 532.1 340.6C533.1 345.1 531.1 346.5 533.1 350C535.1 353.5 537.6 351.9 539.6 353.7C541.6 355.6 539.8 353 540.6 356.9C541.3 360.7 539.9 363.6 542.4 368.1C544.9 372.6 547.2 370.5 549.9 373.7C552.7 377 552.5 376.8 552.8 380.3C553 383.8 549.6 381.1 550.9 386.9C552.1 392.6 553.7 395.9 557.4 401.9C561.2 407.9 562.4 405.4 564.9 409.4C567.4 413.4 566.8 413.4 566.8 416.9C566.8 420.3 565.4 417 564.9 422.5C564.4 428 564.7 429.5 564.9 437.5C565.2 445.5 564.9 446.5 565.9 452.5C566.9 458.5 568.4 456.5 568.7 460C568.9 463.5 569.1 463.1 566.8 465.6C564.6 468.1 562 466.4 560.3 469.4C558.5 472.4 561.3 473.4 560.3 476.9C559.3 480.3 557.5 479 556.5 482.5C555.5 486 556 486 556.5 490C557 494 558.6 493.5 558.4 497.5C558.1 501.5 555.6 501 555.6 505C555.6 509 558.1 508.7 558.4 512.5C558.6 516.2 558.5 517 556.5 519C554.5 521 553.6 521.2 550.9 520C548.1 518.7 551.5 518.1 546.2 514.3C541 510.6 537.2 509.7 531.2 505.9C525.2 502.2 527.5 502 523.7 500.3C520 498.5 520.1 501.1 517.2 499.3C514.2 497.6 517.7 497.7 512.5 493.7C507.2 489.7 503 487.1 497.5 484.3C492 481.6 495.1 484.9 491.8 483.4C488.6 481.9 487.8 481.5 485.3 478.7C482.8 476 488.7 477.4 482.5 473.1C476.2 468.9 469.4 465.5 461.9 462.8C454.4 460 457.6 464.5 454.4 462.8C451.1 461 450.4 459.5 449.7 456.2C448.9 453 450.3 453.6 451.5 450.6C452.8 447.6 454.1 448.5 454.4 445C454.6 441.5 455 441.5 452.5 437.5C450 433.5 448.5 433.5 445 430C441.5 426.5 442.4 426.4 439.4 424.4C436.4 422.4 435.7 423.2 433.7 422.5C431.7 421.7 436.4 424.3 431.9 421.5C427.4 418.8 424.6 416.9 416.9 412.2C409.1 407.4 408.8 408.5 402.8 403.7C396.8 399 398.6 400.9 394.4 394.4C390.1 387.9 391.1 385.4 386.9 379.4C382.6 373.4 380.8 376.1 378.4 371.9C376 367.6 375.4 368 377.9 363.4C380.4 358.8 384.2 358.6 387.8 354.6C391.5 350.6 388.8 351.3 391.6 348.4C394.3 345.5 396.4 345.8 398.1 343.7C399.9 341.7 399.4 344.4 398.1 340.6C396.9 336.7 396.7 336.3 393.4 329.3C390.2 322.3 389.1 319.6 385.9 314.3C382.8 309.1 382.4 313.2 381.6 309.7C380.9 306.2 382.5 307.5 383.1 301.2C383.8 295 383.7 293.7 384.1 286.2C384.5 278.7 384.9 279.1 384.6 273.1C384.4 267.1 382.5 267.7 383.1 263.7C383.7 259.7 384.4 260.6 386.9 258.1C389.4 255.6 389.5 256.1 392.5 254.4C395.5 252.6 393.9 252.7 398.1 251.6Z" fill="none" stroke="#000" stroke-width="1.9"/>
<ellipse cx="464.7" cy="318.1" rx="1.3" ry="4.9" fill="#fff" stroke="#000" stroke-width="2.0" transform="rotate(-20 464.7 318.1)"/>
<ellipse cx="518.1" cy="342.5" rx="9.7" ry="1.7" fill="#fff" stroke="#000" stroke-width="1.6" transform="rotate(38 518.1 342.5)"/>
<ellipse cx="415" cy="254.4" rx="1.9" ry="2.6" fill="#fff" stroke="#000" stroke-width="1.7" transform="rotate(-25 415 254.4)"/>
<ellipse cx="388.7" cy="265.6" rx="1.9" ry="2.6" fill="#fff" stroke="#000" stroke-width="1.7" transform="rotate(-25 388.7 265.6)"/>
<ellipse cx="442.2" cy="273.1" rx="1.9" ry="2.6" fill="#fff" stroke="#000" stroke-width="1.7" transform="rotate(-25 442.2 273.1)"/>
<ellipse cx="455.3" cy="296.5" rx="1.9" ry="2.6" fill="#fff" stroke="#000" stroke-width="1.7" transform="rotate(-25 455.3 296.5)"/>
<ellipse cx="386.9" cy="310.6" rx="1.9" ry="2.6" fill="#fff" stroke="#000" stroke-width="1.7" transform="rotate(-25 386.9 310.6)"/>
<ellipse cx="403.7" cy="340.6" rx="1.9" ry="2.6" fill="#fff" stroke="#000" stroke-width="1.7" transform="rotate(-25 403.7 340.6)"/>
<ellipse cx="473.1" cy="322.8" rx="1.9" ry="2.6" fill="#fff" stroke="#000" stroke-width="1.7" transform="rotate(-25 473.1 322.8)"/>
<ellipse cx="492.8" cy="327.5" rx="1.9" ry="2.6" fill="#fff" stroke="#000" stroke-width="1.7" transform="rotate(-25 492.8 327.5)"/>
<ellipse cx="525.6" cy="337.8" rx="1.9" ry="2.6" fill="#fff" stroke="#000" stroke-width="1.7" transform="rotate(-25 525.6 337.8)"/>
<ellipse cx="535.9" cy="358.4" rx="1.9" ry="2.6" fill="#fff" stroke="#000" stroke-width="1.7" transform="rotate(-25 535.9 358.4)"/>
<ellipse cx="393.4" cy="354.6" rx="1.9" ry="2.6" fill="#fff" stroke="#000" stroke-width="1.7" transform="rotate(-25 393.4 354.6)"/>
<ellipse cx="428.1" cy="361.2" rx="1.9" ry="2.6" fill="#fff" stroke="#000" stroke-width="1.7" transform="rotate(-25 428.1 361.2)"/>
<ellipse cx="383.1" cy="368.1" rx="1.9" ry="2.6" fill="#fff" stroke="#000" stroke-width="1.7" transform="rotate(-25 383.1 368.1)"/>
<ellipse cx="430" cy="361.6" rx="1.9" ry="2.6" fill="#fff" stroke="#000" stroke-width="1.7" transform="rotate(-25 430 361.6)"/>
<ellipse cx="403.7" cy="400" rx="1.9" ry="2.6" fill="#fff" stroke="#000" stroke-width="1.7" transform="rotate(-25 403.7 400)"/>
<ellipse cx="436.5" cy="419.7" rx="1.9" ry="2.6" fill="#fff" stroke="#000" stroke-width="1.7" transform="rotate(-25 436.5 419.7)"/>
<ellipse cx="547.1" cy="378.4" rx="1.9" ry="2.6" fill="#fff" stroke="#000" stroke-width="1.7" transform="rotate(-25 547.1 378.4)"/>
<ellipse cx="561.2" cy="415" rx="1.9" ry="2.6" fill="#fff" stroke="#000" stroke-width="1.7" transform="rotate(-25 561.2 415)"/>
<ellipse cx="456.2" cy="438.4" rx="1.9" ry="2.6" fill="#fff" stroke="#000" stroke-width="1.7" transform="rotate(-25 456.2 438.4)"/>
<ellipse cx="455.3" cy="457.2" rx="1.9" ry="2.6" fill="#fff" stroke="#000" stroke-width="1.7" transform="rotate(-25 455.3 457.2)"/>
<ellipse cx="489" cy="476.9" rx="1.9" ry="2.6" fill="#fff" stroke="#000" stroke-width="1.7" transform="rotate(-25 489 476.9)"/>
<ellipse cx="517.2" cy="492.8" rx="1.9" ry="2.6" fill="#fff" stroke="#000" stroke-width="1.7" transform="rotate(-25 517.2 492.8)"/>
<ellipse cx="550.9" cy="492.8" rx="1.9" ry="2.6" fill="#fff" stroke="#000" stroke-width="1.7" transform="rotate(-25 550.9 492.8)"/>
<ellipse cx="551.8" cy="513.4" rx="1.9" ry="2.6" fill="#fff" stroke="#000" stroke-width="1.7" transform="rotate(-25 551.8 513.4)"/>
<ellipse cx="552.8" cy="475" rx="1.9" ry="2.6" fill="#fff" stroke="#000" stroke-width="1.7" transform="rotate(-25 552.8 475)"/>
<ellipse cx="562.1" cy="460" rx="1.9" ry="2.6" fill="#fff" stroke="#000" stroke-width="1.7" transform="rotate(-25 562.1 460)"/>
<ellipse cx="561.2" cy="414.1" rx="1.9" ry="2.6" fill="#fff" stroke="#000" stroke-width="1.7" transform="rotate(-25 561.2 414.1)"/>
<ellipse cx="503.1" cy="475" rx="1.5" ry="2.1" fill="#000" stroke="#000" stroke-width="2.4" transform="rotate(-25 503.1 475)"/>
<path d="M414.3 222L414.3 244" stroke="#000" stroke-width="1.1" fill="none"/>
<!-- 90_axis.py -->
<path d="M393.6 467.8L505 403.5" stroke="#000" stroke-width="1.2" fill="none"/>
<!-- 99_watermark.py -->
<text transform="translate(348.6 524.1) rotate(-30.7)" font-size="150" font-weight="bold" style="fill:none;stroke:#8c8c8c;stroke-width:0.8px">nka.by</text>
</svg>
</body></html>
